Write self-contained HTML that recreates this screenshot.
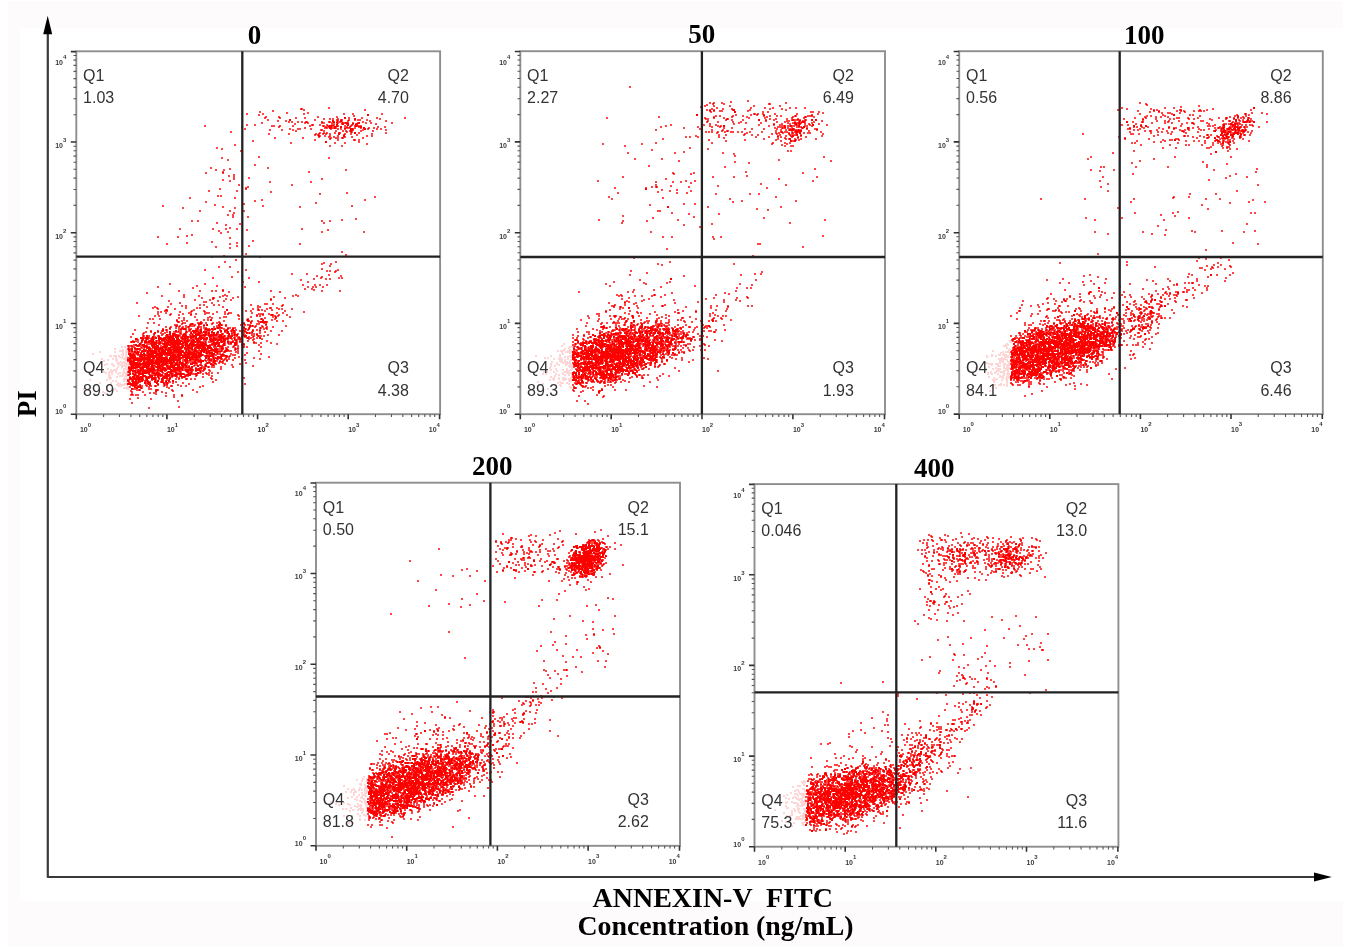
<!DOCTYPE html>
<html><head><meta charset="utf-8"><title>Flow cytometry</title>
<style>
html,body{margin:0;padding:0;background:#fff}
body{width:1360px;height:952px;position:relative;overflow:hidden}
#bg{position:absolute;left:8px;top:1px;width:1335px;height:946px;background:#fefbfc}
#bgw{position:absolute;left:20px;top:28px;width:1323px;height:873px;background:#fff}
svg{position:absolute;left:0;top:0;filter:blur(0.5px)}
.tk{font-family:"Liberation Sans",sans-serif;font-size:7px;font-weight:bold;fill:#3a3a3a}
.sp{font-size:6px}
.q{font-family:"Liberation Sans",sans-serif;font-size:16px;fill:#333}
.t{font-family:"Liberation Serif",serif;font-weight:bold;font-size:27px;fill:#000}
.ax{font-family:"Liberation Serif",serif;font-weight:bold;font-size:27px;fill:#000}
</style></head>
<body>
<div id="bg"></div><div id="bgw"></div>
<svg width="1360" height="952" viewBox="0 0 1360 952">
<defs><filter id="bl" x="0" y="0" width="100%" height="100%"><feGaussianBlur stdDeviation="0.35"/></filter></defs>
<g fill="none" stroke-width="1" filter="url(#bl)">
<path d="M121 346.5h2m1 0h2m-5 1h2m1 0h2m1 0h1m-14 1h2m-2 1h2m6 0h2m2 0h1m-8 1h5m1 0h3m-29 1h2m13 0h2m3 0h5m1 0h3m-29 1h2m13 0h2m6 0h2m1 0h3m-36 1h2m28 0h2m1 0h2m-35 1h2m27 0h3m1 0h2m-18 1h3m1 0h4m1 0h2m1 0h3m1 0h2m-18 1h3m1 0h4m1 0h3m1 0h2m1 0h3m-13 1h2m2 0h4m1 0h3m-26 1h2m9 0h2m1 0h2m4 0h6m-26 1h2m4 0h2m3 0h2m1 0h3m5 0h4m-24 1h2m2 0h2m6 0h3m7 0h2m-24 1h2m11 0h2m2 0h2m1 0h2m-9 1h13m-23 1h2m3 0h2m4 0h3m1 0h8m-25 1h4m3 0h3m3 0h6m1 0h5m-25 1h2m6 0h3m4 0h10m-16 1h2m2 0h2m2 0h6m-10 1h2m2 0h2m2 0h3m-21 1h2m7 0h2m5 0h5m-36 1h2m13 0h2m1 0h2m1 0h5m5 0h5m-36 1h2m16 0h7m6 0h2m1 0h2m-25 1h2m4 0h5m1 0h2m6 0h2m-22 1h4m1 0h5m2 0h2m2 0h2m1 0h5m-39 1h2m15 0h2m1 0h2m1 0h2m4 0h4m1 0h7m-41 1h2m18 0h2m1 0h2m4 0h2m3 0h2m1 0h2m-19 1h3m8 0h5m1 0h2m-19 1h3m5 0h2m1 0h4m1 0h4m-20 1h4m4 0h2m6 0h3m-19 1h4m11 0h6m-40 1h2m15 0h2m1 0h2m12 0h4m-38 1h2m15 0h2m4 0h2m1 0h2m6 0h2m-13 1h2m1 0h2m6 0h2m1 0h1m-28 1h2m9 0h2m5 0h2m7 0h2m-29 1h2m9 0h2m5 0h4m3 0h3m-17 1h2m4 0h11m-17 1h2m4 0h9m1 0h2m-10 1h4m5 0h2m-6 1h6m-46 1h2m26 0h2m1 0h2m7 0h6m-46 1h2m2 0h2m22 0h2m1 0h2m11 0h2m-42 1h2m18 0h2m7 0h2m-16 1h2m3 0h2m7 0h2m-16 1h4m-2 1h2" stroke="#ffd6d6"/>
<path d="M328 107.5h2m-30 1h1m1 0h1m25 0h2m-30 1h1m1 0h3m59 0h2m-94 1h2m29 0h2m59 0h2m-107 1h2m11 0h2m-15 1h2m25 0h2m19 0h2m-63 1h2m14 0h2m22 0h2m15 0h2m2 0h2m34 0h2m7 0h2m27 0h2m-137 1h2m10 0h2m2 0h2m39 0h2m38 0h2m7 0h2m27 0h2m-125 1h2m93 0h2m-90 1h2m11 0h2m37 0h2m17 0h2m15 0h2m-91 1h1m1 0h1m11 0h1m1 0h1m14 0h2m7 0h2m11 0h2m17 0h2m10 0h2m11 0h2m13 0h2m26 0h2m-142 1h2m13 0h2m14 0h2m7 0h2m17 0h2m4 0h2m1 0h2m3 0h2m9 0h2m11 0h2m13 0h2m1 0h2m23 0h2m-139 1h2m45 0h2m7 0h2m4 0h2m1 0h2m2 0h1m1 0h1m1 0h1m1 0h1m5 0h2m7 0h4m5 0h2m11 0h2m-114 1h2m8 0h2m6 0h2m27 0h2m20 0h1m1 0h1m3 0h1m4 0h1m1 0h1m4 0h2m1 0h4m5 0h2m1 0h2m14 0h2m-110 1h2m6 0h2m1 0h2m1 0h2m4 0h2m2 0h2m2 0h1m1 0h1m13 0h2m5 0h1m1 0h1m3 0h1m1 0h1m1 0h2m2 0h1m4 0h2m13 0h2m5 0h2m14 0h2m-126 1h2m25 0h2m1 0h2m4 0h2m2 0h2m1 0h1m3 0h1m14 0h2m3 0h1m1 0h3m5 0h4m1 0h2m3 0h1m3 0h2m3 0h1m4 0h2m1 0h2m3 0h2m19 0h2m-132 1h2m31 0h2m8 0h2m1 0h2m12 0h4m6 0h4m1 0h1m1 0h1m2 0h1m2 0h1m10 0h1m9 0h2m3 0h2m3 0h2m14 0h2m-147 1h2m6 0h2m38 0h2m15 0h1m1 0h1m5 0h2m5 0h2m3 0h4m6 0h1m4 0h1m4 0h1m1 0h1m21 0h2m-173 1h2m40 0h2m6 0h2m15 0h4m4 0h2m11 0h2m15 0h3m1 0h1m5 0h2m1 0h1m1 0h1m1 0h1m1 0h1m5 0h1m3 0h1m5 0h2m4 0h1m1 0h1m1 0h1m3 0h4m-158 1h2m35 0h2m28 0h4m3 0h1m1 0h1m11 0h2m15 0h2m11 0h1m1 0h4m4 0h2m4 0h1m5 0h4m1 0h1m1 0h1m2 0h1m2 0h1m19 0h2m5 0h2m-145 1h2m35 0h2m24 0h2m18 0h1m2 0h2m3 0h2m2 0h1m7 0h2m2 0h1m1 0h1m3 0h2m2 0h2m8 0h2m3 0h2m2 0h2m5 0h2m-142 1h2m43 0h2m6 0h4m3 0h2m4 0h2m12 0h4m4 0h2m2 0h3m1 0h2m4 0h4m3 0h3m4 0h2m5 0h1m1 0h1m3 0h2m1 0h2m2 0h2m-138 1h2m23 0h2m10 0h2m6 0h2m1 0h2m3 0h4m9 0h2m8 0h1m1 0h1m7 0h2m5 0h2m1 0h2m2 0h2m16 0h2m3 0h2m7 0h2m2 0h2m3 0h2m-118 1h2m10 0h2m9 0h2m1 0h2m23 0h1m1 0h3m10 0h2m5 0h2m1 0h2m2 0h1m3 0h1m6 0h4m8 0h2m11 0h2m-157 1h2m63 0h2m26 0h2m10 0h2m5 0h2m1 0h1m1 0h1m1 0h1m2 0h1m7 0h2m10 0h2m-144 1h2m87 0h2m2 0h2m1 0h2m6 0h2m2 0h1m1 0h1m5 0h2m2 0h1m1 0h1m5 0h2m25 0h2m-119 1h2m18 0h2m25 0h2m1 0h1m1 0h1m1 0h1m1 0h2m1 0h1m1 0h2m3 0h2m4 0h1m3 0h2m4 0h2m6 0h2m11 0h2m12 0h2m-119 1h2m18 0h2m24 0h1m1 0h2m1 0h1m2 0h2m1 0h2m2 0h2m12 0h1m1 0h1m4 0h2m4 0h2m13 0h2m-59 1h2m1 0h1m2 0h1m3 0h2m3 0h2m6 0h2m17 0h2m8 0h2m3 0h2m-53 1h1m3 0h2m2 0h1m1 0h1m2 0h2m2 0h2m6 0h1m5 0h2m13 0h2m3 0h2m-99 1h2m26 0h2m14 0h2m8 0h4m1 0h6m2 0h1m1 0h3m5 0h2m9 0h2m-90 1h2m26 0h2m25 0h1m1 0h1m3 0h4m2 0h1m1 0h1m18 0h2m-50 1h2m13 0h2m6 0h2m14 0h1m1 0h1m2 0h2m-108 1h2m60 0h2m21 0h2m14 0h1m1 0h1m2 0h2m-108 1h2m104 0h2m-70 1h2m42 0h2m8 0h2m12 0h2m-70 1h2m42 0h2m8 0h2m20 0h2m-134 1h2m130 0h2m-134 1h2m93 0h2m10 0h2m-14 1h2m10 0h2m-127 1h2m-2 1h2m3 0h2m-2 1h2m17 1h2m-2 1h2m16 5h2m-39 1h2m35 0h2m68 0h2m-109 1h2m105 0h2m-103 1h2m-2 1h2m25 4h2m-2 1h2m-46 2h2m55 0h2m-59 1h2m17 0h2m36 0h2m-54 1h2m6 0h2m4 0h2m114 0h2m-132 1h2m6 0h2m120 0h2m-125 1h2m84 0h2m-105 1h2m101 0h2m-105 1h2m15 0h2m9 1h2m-7 1h2m3 0h2m-7 1h2m3 0h2m-2 1h2m13 0h2m-17 1h2m13 0h2m71 0h2m-101 1h2m9 0h2m86 0h2m-101 1h2m5 0h2m-2 1h2m38 0h2m39 0h2m-43 1h2m39 0h2m-74 2h2m51 0h2m-55 1h2m51 0h2m-46 1h2m-4 1h4m-30 1h2m-2 1h2m24 0h2m-39 1h2m26 0h2m-30 1h2m26 0h2m32 0h2m-2 1h2m74 0h2m-29 1h2m25 0h2m-29 1h2m-104 1h2m1 0h2m-5 1h2m1 0h2m152 0h2m-187 1h2m43 0h2m138 0h2m-187 1h2m43 0h2m25 1h2m101 0h2m-112 1h2m5 0h2m101 0h2m-161 1h2m47 0h2m-51 1h2m108 0h2m-74 1h2m70 0h2m-103 1h2m27 0h2m-83 1h2m50 0h2m46 0h2m87 0h2m-191 1h2m58 0h2m38 0h2m35 0h2m50 0h2m-171 1h2m38 0h2m10 0h2m63 0h2m-119 1h2m50 0h2m-37 2h2m28 0h2m12 0h2m-46 1h2m28 0h2m12 0h2m-12 1h2m-2 1h2m-8 1h2m3 0h2m-7 1h2m3 0h2m-2 1h2m13 0h2m-17 1h2m13 0h2m106 1h2m-16 1h2m12 0h2m-166 1h2m4 0h2m122 0h2m6 0h2m10 0h2m-152 1h2m4 0h2m122 0h2m6 0h2m-115 1h2m105 0h2m-109 1h2m21 0h2m82 0h2m-100 1h2m12 0h2m-16 1h2m2 2h2m-52 1h2m31 0h2m11 0h2m2 0h2m5 0h2m63 0h2m-124 1h2m31 0h2m11 0h2m9 0h2m8 0h2m53 0h2m24 0h2m-111 1h2m26 0h2m79 0h2m-111 1h2m7 0h2m92 0h2m40 0h2m-145 1h2m5 0h2m92 0h2m40 0h2m-145 1h2m-31 1h2m-7 1h2m3 0h2m-36 1h2m18 0h2m7 0h2m-31 1h2m18 0h2m50 0h2m-2 1h2m21 2h2m-43 1h2m39 0h2m-68 1h2m23 0h2m23 0h2m-72 1h2m18 0h2m41 0h2m5 0h2m61 0h2m-135 1h2m61 0h2m68 0h2m-65 1h2m10 0h2m-35 1h2m19 0h2m10 0h2m-35 1h2m12 0h2m-2 1h2m110 3h2m-2 1h2m-98 1h2m-2 1h2m98 0h2m-124 1h2m120 0h2m-136 1h2m10 0h2m34 0h2m-50 1h2m46 0h2m-26 2h2m-2 1h2m-13 1h2m109 0h2m-113 1h2m97 0h2m10 0h2m-16 1h4m5 0h2m-11 1h2m7 0h2m-3 1h2m-113 1h2m9 0h2m98 0h2m-113 1h2m9 0h2m90 1h2m-119 1h2m39 0h2m74 0h2m14 0h2m-135 1h2m39 0h2m79 0h2m1 0h2m4 0h4m-102 1h2m87 0h2m1 0h2m3 0h1m1 0h1m-100 1h2m95 0h2m-45 1h2m13 0h2m-17 1h2m13 0h2m20 0h2m-89 1h2m73 0h2m10 0h2m10 0h2m-111 1h2m8 0h2m73 0h2m3 0h2m17 0h2m-130 1h2m17 0h2m15 0h2m70 0h1m1 0h1m15 0h2m1 0h2m-131 1h2m34 0h2m63 0h2m5 0h2m3 0h2m2 0h2m7 0h2m1 0h2m-43 1h2m11 0h2m10 0h2m2 0h2m-31 1h2m-60 1h2m14 0h2m47 0h2m-67 1h2m14 0h2m47 0h2m-140 1h2m33 0h2m-37 1h2m33 0h2m96 0h2m10 0h2m3 0h2m5 0h2m-132 1h2m18 0h2m84 0h2m10 0h2m3 0h2m5 0h2m-171 1h2m37 0h2m18 0h2m26 0h2m61 0h2m3 0h2m1 0h2m5 0h2m-167 1h2m33 0h2m50 0h2m61 0h2m3 0h2m1 0h2m5 0h2m-132 1h2m110 0h2m5 0h2m-91 1h2m80 0h2m5 0h4m-137 1h2m19 0h2m10 0h2m2 0h2m53 0h2m41 0h2m6 0h2m16 0h2m-163 1h2m19 0h2m10 0h2m2 0h2m5 0h2m4 0h2m40 0h2m7 0h2m40 0h2m16 0h2m-195 1h2m80 0h2m49 0h2m-135 1h2m35 1h2m39 0h2m69 0h2m-136 1h2m20 0h2m13 0h2m22 0h6m64 0h2m1 0h4m-138 1h2m20 0h2m13 0h2m19 0h2m1 0h2m2 0h2m9 0h2m34 0h2m17 0h2m3 0h2m-116 1h2m16 0h2m9 0h1m1 0h1m4 0h2m11 0h2m3 0h2m34 0h2m9 0h2m-85 1h2m11 0h1m10 0h2m5 0h2m36 0h2m12 0h2m-92 1h2m13 0h2m1 0h2m11 0h2m3 0h2m-64 1h2m24 0h2m13 0h2m6 0h2m4 0h2m5 0h2m38 0h2m-104 1h2m33 0h4m10 0h2m4 0h2m-89 1h2m41 0h2m22 0h4m4 0h2m-77 1h2m32 0h2m7 0h2m30 0h2m51 0h4m4 0h2m-104 1h2m27 0h2m2 0h2m8 0h2m3 0h2m30 0h2m12 0h4m4 0h2m8 0h2m-103 1h2m2 0h2m12 0h2m2 0h2m8 0h2m3 0h2m30 0h2m5 0h2m22 0h1m1 0h1m-130 1h2m11 0h2m12 0h2m2 0h2m19 0h2m14 0h2m33 0h4m20 0h2m-131 1h6m9 0h2m16 0h2m9 0h2m1 0h2m5 0h2m14 0h2m33 0h4m8 0h1m1 0h1m4 0h2m-126 1h2m2 0h1m1 0h1m15 0h2m9 0h2m9 0h2m1 0h2m51 0h2m3 0h2m7 0h2m1 0h1m1 0h1m4 0h4m1 0h2m8 0h2m-136 1h2m6 0h1m1 0h1m6 0h2m17 0h2m57 0h2m3 0h1m1 0h1m1 0h2m3 0h2m3 0h2m5 0h2m1 0h2m8 0h2m-129 1h1m26 0h4m8 0h2m40 0h2m3 0h2m5 0h1m1 0h1m1 0h2m1 0h2m5 0h2m11 0h2m-129 1h2m1 0h2m2 0h4m11 0h2m9 0h1m1 0h1m10 0h1m1 0h1m10 0h2m6 0h2m19 0h2m3 0h2m12 0h2m18 0h2m17 0h2m-148 1h2m1 0h2m3 0h2m12 0h2m7 0h4m12 0h6m6 0h2m6 0h2m2 0h4m19 0h2m23 0h2m4 0h2m19 0h2m-148 1h2m6 0h2m3 0h2m10 0h2m4 0h4m3 0h2m7 0h6m2 0h2m10 0h2m1 0h1m1 0h3m19 0h2m5 0h6m4 0h2m6 0h2m4 0h2m-127 1h2m10 0h1m1 0h1m6 0h2m2 0h2m11 0h2m7 0h2m6 0h2m10 0h2m1 0h2m8 0h2m17 0h6m6 0h3m2 0h1m4 0h2m6 0h2m-150 1h2m14 0h2m2 0h2m9 0h2m7 0h2m10 0h2m45 0h1m1 0h1m19 0h2m1 0h2m6 0h1m2 0h3m1 0h1m1 0h1m6 0h2m-150 1h2m14 0h2m2 0h2m34 0h2m13 0h2m12 0h4m11 0h2m10 0h2m4 0h2m1 0h2m11 0h3m1 0h3m10 0h2m-113 1h2m3 0h2m9 0h2m11 0h6m6 0h2m2 0h4m23 0h2m12 0h2m6 0h2m15 0h2m-142 1h2m1 0h2m5 0h2m17 0h2m3 0h2m22 0h2m2 0h2m6 0h2m17 0h2m7 0h2m11 0h1m1 0h1m1 0h2m8 0h1m1 0h1m-128 1h2m1 0h2m5 0h2m15 0h2m5 0h2m11 0h2m5 0h2m2 0h2m29 0h2m6 0h1m13 0h1m2 0h1m7 0h2m1 0h2m-95 1h4m1 0h2m8 0h2m5 0h2m2 0h2m14 0h2m21 0h1m2 0h1m1 0h2m4 0h2m12 0h2m3 0h2m4 0h2m-108 1h1m2 0h1m1 0h2m3 0h2m12 0h2m16 0h2m3 0h2m22 0h1m1 0h2m1 0h1m4 0h1m1 0h1m7 0h1m8 0h2m4 0h2m-137 1h2m4 0h2m22 0h1m1 0h1m2 0h4m11 0h3m2 0h1m2 0h2m5 0h2m2 0h3m1 0h1m22 0h2m13 0h2m7 0h1m-121 1h2m4 0h2m26 0h1m1 0h3m4 0h1m2 0h1m3 0h1m4 0h1m2 0h2m4 0h1m1 0h1m2 0h2m32 0h2m4 0h4m3 0h4m-109 1h2m14 0h4m3 0h2m6 0h1m3 0h3m5 0h1m1 0h2m6 0h2m9 0h1m2 0h2m13 0h2m1 0h1m1 0h1m1 0h4m5 0h4m-102 1h2m14 0h1m4 0h2m4 0h2m4 0h3m1 0h1m2 0h2m16 0h2m2 0h1m1 0h1m17 0h2m2 0h2m1 0h2m2 0h1m1 0h1m1 0h2m4 0h2m2 0h2m18 0h2m-122 1h2m3 0h2m3 0h1m1 0h2m1 0h1m1 0h2m1 0h3m2 0h5m2 0h1m1 0h3m1 0h2m8 0h2m1 0h3m1 0h1m4 0h2m16 0h2m6 0h1m1 0h2m1 0h1m4 0h1m1 0h1m2 0h2m4 0h2m11 0h2m-141 1h2m17 0h2m2 0h1m1 0h1m3 0h2m1 0h2m1 0h1m1 0h1m1 0h3m1 0h1m9 0h3m1 0h4m6 0h2m1 0h1m5 0h1m4 0h4m1 0h4m12 0h1m1 0h1m3 0h2m3 0h1m1 0h3m1 0h1m1 0h1m4 0h2m-128 1h2m14 0h2m11 0h2m1 0h3m5 0h1m1 0h4m3 0h2m3 0h2m1 0h2m2 0h3m3 0h1m2 0h1m2 0h2m1 0h3m4 0h2m3 0h2m7 0h1m2 0h1m12 0h1m1 0h1m1 0h3m1 0h1m-134 1h2m29 0h1m1 0h1m1 0h2m7 0h2m2 0h1m3 0h1m1 0h1m2 0h1m3 0h1m2 0h2m4 0h1m5 0h1m8 0h2m2 0h3m2 0h1m2 0h1m3 0h2m5 0h3m1 0h2m1 0h1m2 0h2m2 0h2m1 0h2m2 0h2m1 0h2m-134 1h2m14 0h2m5 0h2m2 0h1m3 0h1m1 0h1m10 0h4m3 0h2m1 0h1m1 0h1m7 0h2m4 0h3m3 0h1m1 0h2m5 0h1m10 0h1m4 0h2m2 0h2m1 0h1m2 0h1m1 0h2m7 0h2m12 0h2m9 0h2m-138 1h2m14 0h1m1 0h1m2 0h2m5 0h2m2 0h1m1 0h3m3 0h1m1 0h5m7 0h1m7 0h3m16 0h1m3 0h1m1 0h1m2 0h1m3 0h2m2 0h1m2 0h1m4 0h1m1 0h1m5 0h2m3 0h2m4 0h2m9 0h2m-140 1h4m3 0h2m5 0h2m1 0h2m2 0h4m5 0h7m1 0h1m5 0h1m8 0h2m4 0h1m4 0h1m8 0h1m3 0h2m2 0h3m4 0h2m2 0h1m7 0h3m2 0h1m1 0h1m8 0h2m3 0h2m-134 1h2m8 0h1m1 0h1m8 0h1m6 0h6m9 0h1m3 0h1m1 0h1m1 0h1m2 0h1m5 0h3m6 0h2m1 0h1m2 0h1m3 0h2m5 0h1m2 0h1m1 0h1m2 0h1m6 0h1m1 0h1m1 0h2m4 0h2m3 0h1m1 0h5m1 0h2m1 0h2m-129 1h2m8 0h2m17 0h1m1 0h1m4 0h1m8 0h6m3 0h1m2 0h3m1 0h1m6 0h3m4 0h1m10 0h1m4 0h1m7 0h3m4 0h1m5 0h2m5 0h4m12 0h2m9 0h2m-138 1h1m1 0h1m3 0h2m3 0h2m2 0h1m1 0h1m1 0h2m2 0h1m2 0h2m1 0h1m8 0h1m8 0h1m1 0h1m14 0h2m9 0h2m3 0h2m1 0h1m1 0h1m2 0h1m2 0h1m1 0h1m15 0h4m1 0h1m2 0h3m1 0h2m2 0h2m9 0h2m-150 1h2m10 0h1m1 0h1m3 0h2m4 0h2m1 0h1m7 0h1m8 0h1m4 0h3m7 0h1m12 0h2m1 0h1m2 0h1m3 0h1m1 0h4m7 0h1m1 0h1m6 0h6m1 0h3m4 0h2m2 0h1m1 0h1m2 0h1m1 0h3m1 0h2m-135 1h2m11 0h2m4 0h1m1 0h1m2 0h1m6 0h1m1 0h1m16 0h1m2 0h1m5 0h1m4 0h1m3 0h1m5 0h2m5 0h2m2 0h3m6 0h3m2 0h1m3 0h1m1 0h1m1 0h1m2 0h3m1 0h3m2 0h5m2 0h2m-121 1h1m6 0h1m4 0h2m3 0h1m11 0h1m13 0h1m7 0h1m3 0h3m14 0h1m2 0h1m4 0h2m10 0h1m2 0h2m1 0h1m1 0h1m3 0h1m4 0h1m2 0h3m1 0h2m1 0h2m3 0h2m-125 1h1m2 0h1m3 0h1m2 0h1m1 0h1m3 0h1m12 0h1m13 0h1m4 0h1m2 0h3m2 0h2m3 0h1m7 0h1m14 0h1m3 0h1m1 0h1m2 0h2m4 0h2m2 0h1m6 0h2m2 0h1m1 0h1m6 0h2m-131 1h2m1 0h4m4 0h2m3 0h1m6 0h1m1 0h1m7 0h1m16 0h2m6 0h1m9 0h1m2 0h4m2 0h1m6 0h1m5 0h1m4 0h2m3 0h3m2 0h1m1 0h4m4 0h2m3 0h2m12 0h2m-138 1h1m4 0h4m8 0h1m6 0h2m1 0h2m2 0h3m2 0h1m16 0h1m5 0h2m10 0h4m1 0h1m1 0h2m4 0h1m1 0h1m1 0h1m6 0h1m3 0h3m3 0h1m1 0h1m3 0h2m4 0h2m4 0h2m11 0h2m-138 1h1m1 0h1m4 0h2m1 0h1m1 0h1m7 0h1m6 0h1m3 0h2m25 0h1m7 0h1m7 0h1m1 0h1m1 0h5m7 0h1m2 0h1m1 0h1m3 0h1m3 0h1m3 0h1m1 0h2m14 0h2m3 0h2m8 0h2m-131 1h1m2 0h6m7 0h1m3 0h1m7 0h1m14 0h1m9 0h1m1 0h1m2 0h1m6 0h1m4 0h1m13 0h1m1 0h1m1 0h1m7 0h1m4 0h1m1 0h1m8 0h4m3 0h2m8 0h2m4 0h2m-145 1h2m3 0h1m2 0h1m4 0h5m7 0h1m1 0h1m1 0h1m20 0h2m3 0h1m20 0h2m6 0h1m4 0h1m2 0h1m2 0h4m5 0h1m3 0h1m16 0h2m16 0h2m-151 1h1m1 0h2m1 0h3m5 0h2m5 0h1m7 0h1m4 0h2m1 0h1m4 0h1m2 0h1m4 0h1m2 0h1m1 0h1m2 0h1m26 0h3m6 0h2m3 0h1m7 0h1m2 0h3m2 0h4m13 0h2m-133 1h1m1 0h2m2 0h2m1 0h1m2 0h4m5 0h2m1 0h1m8 0h2m8 0h1m9 0h1m9 0h1m3 0h2m9 0h2m6 0h1m2 0h1m6 0h1m3 0h2m3 0h1m1 0h1m2 0h2m3 0h1m1 0h1m1 0h2m12 0h2m-134 1h2m1 0h3m1 0h1m4 0h1m1 0h2m1 0h1m4 0h1m8 0h1m7 0h1m15 0h1m2 0h1m7 0h1m6 0h1m11 0h4m2 0h2m2 0h1m1 0h4m3 0h4m1 0h2m3 0h1m1 0h1m1 0h2m12 0h2m-135 1h1m1 0h2m9 0h5m6 0h3m9 0h2m2 0h1m3 0h2m9 0h1m13 0h1m9 0h1m5 0h1m4 0h4m4 0h1m1 0h1m6 0h1m1 0h1m-110 1h1m2 0h1m3 0h1m10 0h2m4 0h2m11 0h1m16 0h1m2 0h1m4 0h2m2 0h1m2 0h1m1 0h2m8 0h1m1 0h1m7 0h3m2 0h1m1 0h1m2 0h1m5 0h1m1 0h3m-109 1h1m3 0h4m1 0h3m15 0h1m2 0h1m5 0h1m5 0h1m10 0h1m1 0h1m1 0h1m2 0h2m1 0h1m3 0h2m8 0h1m10 0h3m1 0h1m1 0h1m4 0h3m2 0h2m1 0h2m19 0h2m-132 1h1m1 0h1m2 0h1m2 0h1m2 0h1m6 0h1m10 0h1m2 0h1m11 0h1m14 0h1m3 0h2m5 0h2m5 0h1m4 0h4m8 0h2m3 0h5m3 0h4m19 0h2m-132 1h6m5 0h2m1 0h3m1 0h1m2 0h1m7 0h2m36 0h1m9 0h1m8 0h1m3 0h3m2 0h1m1 0h1m9 0h4m7 0h2m-117 1h2m1 0h2m10 0h1m27 0h4m5 0h1m2 0h1m10 0h1m7 0h1m2 0h1m7 0h1m1 0h3m1 0h2m6 0h2m5 0h2m7 0h2m12 0h2m-127 1h2m2 0h1m6 0h1m8 0h1m15 0h1m4 0h1m5 0h2m13 0h1m5 0h1m2 0h3m1 0h1m4 0h5m4 0h1m5 0h6m8 0h2m14 0h2m-127 1h1m1 0h2m25 0h3m9 0h1m13 0h2m11 0h2m4 0h1m4 0h3m3 0h1m6 0h1m1 0h2m1 0h4m8 0h2m-117 1h1m13 0h1m1 0h2m10 0h1m4 0h1m2 0h1m1 0h1m12 0h1m9 0h1m10 0h1m2 0h1m9 0h1m4 0h1m3 0h2m3 0h1m1 0h1m7 0h2m28 0h2m-143 1h3m6 0h4m27 0h1m32 0h1m6 0h1m6 0h1m1 0h1m8 0h1m1 0h3m4 0h2m2 0h2m13 0h2m13 0h2m-143 1h2m48 0h1m4 0h2m10 0h1m3 0h3m6 0h1m2 0h3m9 0h1m1 0h1m1 0h1m1 0h2m4 0h2m5 0h2m10 0h2m4 0h2m-130 1h2m21 0h2m26 0h2m15 0h1m1 0h1m2 0h2m1 0h1m4 0h1m3 0h1m1 0h1m1 0h1m1 0h2m1 0h5m2 0h2m7 0h2m1 0h2m13 0h2m-129 1h1m9 0h1m2 0h2m7 0h1m25 0h1m1 0h2m4 0h1m2 0h3m10 0h1m1 0h3m3 0h1m3 0h2m1 0h2m1 0h1m1 0h1m7 0h2m10 0h2m-119 1h2m8 0h1m1 0h1m5 0h1m8 0h1m17 0h1m3 0h1m1 0h1m3 0h3m3 0h6m2 0h2m7 0h2m1 0h5m3 0h2m3 0h1m1 0h1m2 0h2m-90 1h1m1 0h1m1 0h1m25 0h1m6 0h1m2 0h1m4 0h1m4 0h4m5 0h3m6 0h1m3 0h1m1 0h1m2 0h1m2 0h1m1 0h2m1 0h1m21 0h2m-118 1h1m30 0h2m6 0h1m4 0h2m3 0h1m5 0h1m2 0h2m8 0h1m2 0h2m3 0h1m2 0h2m2 0h2m2 0h1m1 0h2m2 0h4m13 0h2m4 0h2m-118 1h1m23 0h3m4 0h1m6 0h2m4 0h1m6 0h1m5 0h2m6 0h4m1 0h1m1 0h1m2 0h1m1 0h1m7 0h3m7 0h2m5 0h2m6 0h2m-111 1h1m10 0h2m12 0h1m8 0h2m2 0h2m6 0h1m10 0h3m3 0h1m1 0h2m2 0h1m2 0h1m1 0h1m6 0h1m2 0h1m16 0h2m19 0h2m-126 1h3m3 0h1m5 0h2m7 0h2m3 0h1m8 0h1m16 0h2m2 0h1m2 0h1m5 0h2m6 0h4m2 0h1m1 0h1m1 0h4m5 0h2m10 0h2m18 0h2m-105 1h2m3 0h2m5 0h1m3 0h2m17 0h1m5 0h1m4 0h2m2 0h1m2 0h2m1 0h1m1 0h1m1 0h1m1 0h4m5 0h2m10 0h2m-98 1h2m1 0h1m26 0h1m5 0h1m10 0h6m3 0h1m4 0h1m4 0h2m16 0h2m-94 1h1m3 0h2m1 0h3m1 0h1m4 0h3m8 0h2m2 0h1m7 0h2m3 0h1m10 0h2m8 0h1m6 0h2m3 0h1m2 0h2m10 0h2m-94 1h1m7 0h1m19 0h1m6 0h1m16 0h2m1 0h2m8 0h1m7 0h2m1 0h1m3 0h1m1 0h1m-84 1h1m8 0h1m4 0h1m12 0h3m1 0h2m4 0h2m1 0h1m8 0h3m2 0h1m3 0h1m3 0h2m1 0h1m2 0h2m2 0h1m1 0h3m5 0h2m-84 1h1m2 0h1m1 0h3m6 0h1m8 0h2m3 0h1m3 0h1m1 0h1m1 0h1m2 0h1m5 0h3m2 0h3m1 0h1m4 0h1m2 0h1m2 0h1m6 0h1m1 0h1m3 0h2m1 0h2m1 0h2m4 0h2m-85 1h1m1 0h2m9 0h1m3 0h1m8 0h1m1 0h3m4 0h1m3 0h1m10 0h1m2 0h1m4 0h3m4 0h2m1 0h2m1 0h1m1 0h3m1 0h2m4 0h2m-92 1h1m4 0h1m3 0h1m11 0h1m1 0h4m10 0h1m5 0h1m2 0h1m11 0h1m5 0h4m2 0h1m4 0h2m2 0h4m-83 1h1m1 0h1m3 0h1m5 0h1m13 0h1m2 0h1m6 0h2m5 0h1m6 0h1m1 0h1m4 0h1m10 0h1m1 0h1m10 0h2m1 0h2m-84 1h2m4 0h1m3 0h1m7 0h1m6 0h2m3 0h1m1 0h2m6 0h2m2 0h2m2 0h1m1 0h1m6 0h3m6 0h2m5 0h2m7 0h2m-82 1h1m3 0h1m7 0h1m12 0h2m1 0h1m11 0h2m3 0h4m5 0h1m16 0h2m6 0h2m31 0h2m-113 1h1m10 0h1m1 0h1m3 0h1m6 0h1m11 0h1m6 0h2m4 0h2m2 0h1m1 0h1m2 0h2m2 0h2m14 0h1m1 0h1m30 0h2m-118 1h2m16 0h1m10 0h1m1 0h2m6 0h3m1 0h1m4 0h2m1 0h2m5 0h1m1 0h1m2 0h2m2 0h2m15 0h2m2 0h2m-88 1h1m1 0h1m5 0h1m2 0h1m2 0h2m3 0h1m2 0h2m1 0h1m1 0h1m6 0h1m1 0h1m1 0h1m47 0h2m-90 1h1m1 0h1m1 0h1m5 0h1m6 0h1m1 0h1m2 0h2m5 0h1m3 0h1m2 0h1m6 0h1m4 0h2m35 0h2m-86 1h1m1 0h1m8 0h2m5 0h1m3 0h1m3 0h1m5 0h1m3 0h1m3 0h3m1 0h2m1 0h2m5 0h2m28 0h2m-76 1h1m7 0h1m11 0h1m6 0h1m2 0h1m3 0h2m8 0h2m4 0h2m54 0h2m-109 1h1m1 0h2m4 0h3m15 0h1m1 0h1m11 0h2m9 0h2m54 0h2m-116 1h1m6 0h2m2 0h2m2 0h1m1 0h1m3 0h1m2 0h1m1 0h3m4 0h1m1 0h3m2 0h1m1 0h1m4 0h2m1 0h2m3 0h2m15 0h2m-75 1h2m1 0h2m2 0h1m4 0h2m3 0h6m2 0h1m1 0h1m6 0h2m1 0h2m2 0h1m1 0h1m7 0h2m3 0h2m12 0h2m1 0h2m-75 1h2m11 0h1m5 0h2m16 0h4m29 0h2m-68 1h3m4 0h1m1 0h1m5 0h4m16 0h2m-37 1h6m1 0h1m7 0h4m3 0h1m2 0h1m12 0h2m19 0h2m-64 1h2m4 0h3m1 0h1m17 0h1m12 0h1m1 0h1m18 0h2m-64 1h1m1 0h1m9 0h2m17 0h2m9 0h2m22 0h2m-67 1h2m9 0h2m5 0h2m2 0h4m4 0h2m2 0h2m29 0h2m-67 1h2m16 0h2m2 0h4m8 0h2m-37 1h1m2 0h1m1 0h4m5 0h2m9 0h2m16 0h2m6 0h2m-53 1h4m1 0h4m5 0h2m19 0h2m6 0h2m-10 1h2m6 0h2m6 0h2m-46 1h2m34 0h2m-46 1h2m6 0h2m11 0h2m-23 1h2m19 0h2m25 1h2m-2 1h2m-48 1h2m-2 1h2m45 3h2m-32 1h2m28 0h2m-32 1h2" stroke="#ff4545"/>
<path d="M301 108.5h1m-1 1h1m65 5h2m-2 1h2m-104 2h1m13 0h1m64 0h2m-2 1h2m8 0h2m-67 1h2m46 0h1m3 0h1m12 0h2m-67 1h2m41 0h2m3 0h1m2 0h2m6 0h1m-43 1h1m22 0h1m2 0h2m3 0h1m2 0h2m-37 1h3m13 0h2m6 0h1m3 0h2m1 0h2m4 0h1m2 0h3m10 0h2m-23 1h1m4 0h2m1 0h4m3 0h2m2 0h4m-48 1h1m23 0h2m4 0h2m3 0h2m3 0h1m2 0h3m-46 1h1m10 0h1m3 0h1m1 0h5m2 0h2m9 0h2m2 0h1m3 0h3m-79 1h1m43 0h1m4 0h4m2 0h4m2 0h2m8 0h1m4 0h2m1 0h4m-37 1h2m2 0h3m2 0h2m4 0h2m4 0h2m1 0h1m10 0h2m1 0h2m-36 1h3m2 0h2m8 0h2m4 0h3m10 0h3m2 0h1m-48 1h1m28 0h4m10 0h2m-45 1h1m28 0h3m-7 1h1m3 0h2m-13 1h1m11 0h1m2 0h2m-37 1h1m3 0h1m2 0h1m11 0h2m14 0h2m-41 1h1m2 0h1m19 0h2m4 0h1m-27 1h2m23 0h2m-27 1h2m9 0h1m13 0h2m-3 1h1m-13 1h1m11 0h1m11 1h1m-1 1h1m-30 1h2m-2 1h2m-105 30h2m21 16h2m88 83h1m-15 6h1m-100 13h2m-11 7h1m-2 1h2m56 1h2m10 6h1m-13 2h1m-114 1h1m112 0h1m-105 1h1m59 0h2m30 0h1m-94 1h3m58 0h2m30 0h1m-68 1h1m12 0h1m23 2h1m-59 1h1m19 0h2m70 0h2m7 0h2m-35 1h1m17 0h2m13 0h2m5 0h1m-4 1h1m-1 1h2m-16 1h1m13 0h1m-66 1h2m35 0h2m12 0h2m-87 1h2m32 0h2m35 0h2m13 0h2m-87 1h2m69 0h1m2 0h1m6 0h1m1 0h7m-89 1h1m21 0h2m17 0h1m30 0h2m8 0h7m-85 1h1m8 0h2m5 0h4m10 0h1m6 0h2m22 0h2m-55 1h3m5 0h3m5 0h2m10 0h4m22 0h1m20 0h2m-92 1h3m11 0h2m3 0h1m8 0h2m1 0h2m10 0h2m1 0h1m3 0h2m22 0h2m1 0h1m-77 1h1m2 0h1m8 0h2m8 0h1m20 0h1m29 0h2m1 0h1m2 0h1m6 0h1m-93 1h1m11 0h1m5 0h1m8 0h2m18 0h5m21 0h2m4 0h1m10 0h1m5 0h1m-98 1h2m10 0h5m11 0h2m6 0h2m4 0h2m1 0h2m1 0h2m2 0h1m5 0h2m3 0h2m10 0h2m2 0h2m10 0h1m5 0h1m-105 1h2m2 0h1m13 0h2m1 0h3m3 0h2m5 0h2m2 0h2m3 0h5m1 0h5m10 0h2m4 0h2m11 0h1m2 0h1m-87 1h2m2 0h1m8 0h2m12 0h1m2 0h6m2 0h2m5 0h3m10 0h2m2 0h4m3 0h4m8 0h2m7 0h2m5 0h2m-111 1h2m5 0h2m3 0h1m6 0h2m4 0h2m1 0h1m7 0h1m5 0h7m1 0h2m1 0h4m4 0h2m4 0h2m1 0h2m2 0h2m1 0h2m2 0h1m1 0h2m6 0h2m1 0h2m6 0h1m-99 1h2m13 0h2m9 0h1m4 0h2m3 0h2m1 0h3m2 0h4m1 0h4m1 0h2m1 0h4m2 0h2m8 0h2m4 0h2m6 0h2m3 0h2m1 0h1m1 0h2m-110 1h1m10 0h2m13 0h2m1 0h3m5 0h1m3 0h2m4 0h2m3 0h6m4 0h2m1 0h2m3 0h2m1 0h2m4 0h1m4 0h3m1 0h2m1 0h1m11 0h2m1 0h1m-97 1h2m7 0h1m3 0h2m1 0h2m1 0h5m6 0h3m6 0h1m2 0h5m3 0h4m1 0h10m1 0h4m5 0h2m4 0h4m4 0h2m12 0h2m-115 1h1m2 0h2m10 0h1m7 0h2m2 0h1m1 0h8m2 0h5m3 0h1m1 0h14m2 0h9m2 0h3m2 0h1m3 0h2m1 0h2m1 0h1m1 0h2m4 0h5m10 0h2m-116 1h1m2 0h2m4 0h2m4 0h2m6 0h8m1 0h4m3 0h7m1 0h7m2 0h3m2 0h1m4 0h3m1 0h1m4 0h7m3 0h5m11 0h3m6 0h1m4 0h1m-119 1h3m2 0h4m3 0h2m1 0h2m1 0h3m3 0h10m1 0h4m2 0h2m1 0h5m1 0h4m1 0h2m2 0h5m2 0h2m1 0h2m2 0h2m3 0h6m3 0h2m1 0h2m2 0h1m3 0h2m7 0h2m10 0h2m-126 1h2m3 0h4m1 0h4m2 0h3m1 0h2m1 0h8m1 0h8m1 0h3m2 0h7m2 0h2m3 0h13m2 0h2m1 0h4m2 0h10m1 0h2m2 0h1m3 0h3m6 0h2m10 0h2m-126 1h3m4 0h2m2 0h2m3 0h3m4 0h9m1 0h7m1 0h4m2 0h4m1 0h2m3 0h2m2 0h3m1 0h2m1 0h4m2 0h13m1 0h3m1 0h1m6 0h3m2 0h2m12 0h1m-113 1h2m2 0h2m2 0h5m2 0h1m1 0h2m1 0h4m1 0h16m2 0h6m1 0h4m1 0h4m10 0h6m1 0h5m1 0h3m9 0h2m-106 1h4m6 0h2m1 0h3m1 0h6m2 0h1m2 0h2m3 0h2m1 0h16m1 0h5m2 0h10m4 0h1m4 0h4m3 0h1m2 0h5m2 0h2m3 0h2m2 0h1m2 0h2m-110 1h1m1 0h2m6 0h1m2 0h6m1 0h6m1 0h3m3 0h17m1 0h6m2 0h6m1 0h7m1 0h1m7 0h7m1 0h2m1 0h1m2 0h2m1 0h3m1 0h3m16 0h2m-116 1h2m9 0h7m1 0h3m1 0h7m1 0h14m1 0h3m1 0h5m3 0h2m1 0h6m6 0h8m3 0h2m3 0h1m1 0h2m2 0h3m6 0h1m-109 1h2m2 0h2m1 0h3m6 0h6m2 0h1m3 0h20m2 0h3m1 0h18m4 0h6m1 0h2m3 0h2m9 0h3m5 0h3m-117 1h1m2 0h1m3 0h5m2 0h5m4 0h4m1 0h3m5 0h4m1 0h2m1 0h4m1 0h2m3 0h2m1 0h26m3 0h2m1 0h3m2 0h3m9 0h2m-108 1h1m2 0h2m4 0h2m4 0h5m4 0h7m3 0h6m3 0h9m1 0h3m1 0h5m1 0h3m2 0h9m2 0h4m3 0h2m1 0h6m10 0h1m9 0h1m-110 1h1m6 0h1m2 0h1m1 0h4m2 0h7m1 0h7m1 0h15m1 0h2m1 0h6m2 0h6m1 0h4m1 0h5m9 0h2m20 0h1m-116 1h1m2 0h2m1 0h6m6 0h5m3 0h9m2 0h2m1 0h3m2 0h9m2 0h9m1 0h2m1 0h9m1 0h5m2 0h3m4 0h3m2 0h1m8 0h1m1 0h2m-111 1h2m1 0h2m2 0h6m2 0h2m3 0h3m3 0h10m1 0h16m4 0h4m2 0h2m1 0h2m5 0h7m3 0h7m3 0h2m3 0h2m7 0h1m-108 1h2m1 0h2m9 0h15m1 0h2m1 0h5m1 0h5m1 0h10m3 0h1m1 0h2m2 0h1m1 0h3m2 0h8m1 0h10m3 0h1m3 0h4m-100 1h1m1 0h2m1 0h2m1 0h2m2 0h5m1 0h10m1 0h2m1 0h5m1 0h5m1 0h11m1 0h2m1 0h3m2 0h5m2 0h5m1 0h4m4 0h8m2 0h3m-93 1h5m2 0h1m5 0h2m1 0h7m2 0h36m1 0h6m1 0h2m1 0h7m2 0h3m6 0h1m-97 1h3m2 0h1m2 0h3m1 0h2m1 0h2m2 0h27m4 0h4m2 0h2m1 0h10m1 0h4m4 0h2m1 0h6m2 0h1m-90 1h7m2 0h2m1 0h6m1 0h7m2 0h15m1 0h4m1 0h5m2 0h13m1 0h5m6 0h1m1 0h4m5 0h4m-95 1h6m4 0h24m4 0h9m1 0h13m2 0h11m2 0h4m1 0h4m7 0h6m-97 1h6m3 0h4m1 0h1m2 0h10m1 0h4m4 0h1m3 0h10m2 0h8m1 0h10m4 0h9m3 0h2m1 0h3m2 0h3m1 0h1m-100 1h6m4 0h27m2 0h31m5 0h2m1 0h2m2 0h2m1 0h1m1 0h5m4 0h1m-98 1h22m1 0h3m1 0h12m1 0h8m1 0h4m3 0h9m1 0h3m7 0h2m1 0h2m3 0h9m3 0h1m-99 1h4m2 0h21m2 0h25m3 0h4m1 0h10m1 0h1m7 0h4m1 0h2m2 0h1m3 0h1m2 0h1m-98 1h5m1 0h9m1 0h2m2 0h7m1 0h25m4 0h4m1 0h2m3 0h10m1 0h1m3 0h3m1 0h3m7 0h1m2 0h2m-99 1h6m3 0h1m1 0h2m1 0h2m1 0h8m1 0h17m1 0h2m2 0h1m1 0h2m4 0h3m6 0h2m2 0h6m9 0h3m3 0h2m1 0h1m-94 1h9m1 0h1m3 0h25m1 0h6m1 0h2m1 0h4m2 0h3m4 0h5m3 0h2m5 0h3m3 0h2m4 0h1m2 0h1m-93 1h30m2 0h6m1 0h4m2 0h3m1 0h5m1 0h2m3 0h7m9 0h2m2 0h2m2 0h2m-86 1h23m3 0h4m1 0h6m3 0h3m1 0h6m1 0h5m4 0h3m7 0h1m4 0h1m4 0h4m-83 1h10m2 0h7m1 0h4m2 0h7m2 0h2m2 0h6m1 0h3m1 0h6m7 0h1m2 0h2m1 0h2m3 0h2m5 0h2m-83 1h3m1 0h5m2 0h7m2 0h3m1 0h8m3 0h9m2 0h3m2 0h2m1 0h2m1 0h2m1 0h2m4 0h2m6 0h2m1 0h1m-81 1h21m2 0h3m2 0h5m1 0h3m2 0h17m1 0h5m1 0h2m7 0h2m2 0h1m3 0h1m-81 1h8m4 0h4m2 0h9m2 0h9m1 0h4m2 0h10m6 0h3m3 0h2m1 0h4m2 0h2m-77 1h3m6 0h1m1 0h4m3 0h8m2 0h2m1 0h7m2 0h3m1 0h10m2 0h8m2 0h5m3 0h2m-76 1h7m1 0h19m1 0h6m1 0h3m3 0h10m2 0h1m2 0h8m2 0h6m2 0h1m5 0h1m-82 1h3m1 0h4m1 0h4m1 0h12m3 0h1m2 0h3m5 0h8m3 0h2m5 0h3m2 0h1m8 0h1m-73 1h2m5 0h6m1 0h8m2 0h3m1 0h3m3 0h1m4 0h5m3 0h2m3 0h1m6 0h2m1 0h2m5 0h2m1 0h1m-72 1h2m1 0h2m1 0h1m2 0h9m1 0h2m2 0h8m5 0h3m2 0h3m2 0h9m4 0h4m3 0h4m7 0h1m-79 1h3m2 0h3m2 0h6m5 0h1m4 0h9m2 0h5m1 0h2m1 0h11m1 0h5m4 0h2m-69 1h1m5 0h5m3 0h4m3 0h4m1 0h2m1 0h6m2 0h5m1 0h6m3 0h2m3 0h6m5 0h1m-65 1h3m1 0h3m1 0h7m1 0h5m4 0h2m1 0h1m2 0h6m2 0h2m2 0h2m3 0h6m-57 1h2m1 0h3m1 0h7m2 0h11m2 0h1m3 0h6m1 0h2m10 0h4m-56 1h3m1 0h10m3 0h3m2 0h5m2 0h2m1 0h7m1 0h2m7 0h2m6 0h1m24 0h1m-83 1h15m2 0h2m3 0h5m5 0h3m5 0h1m16 0h1m-60 1h2m3 0h2m1 0h2m1 0h2m1 0h2m2 0h3m7 0h1m1 0h2m2 0h2m3 0h1m1 0h2m2 0h2m-46 1h1m3 0h5m1 0h5m2 0h1m1 0h2m5 0h2m1 0h2m2 0h2m2 0h2m1 0h2m2 0h2m-45 1h1m2 0h7m5 0h2m1 0h3m5 0h3m3 0h3m1 0h3m-41 1h11m6 0h2m1 0h4m5 0h2m5 0h2m1 0h2m-41 1h10m11 0h3m6 0h2m5 0h1m1 0h2m-37 1h6m2 0h2m5 0h1m2 0h2m4 0h1m8 0h1m6 0h1m-38 1h2m1 0h4m14 0h1m15 0h1m-38 1h8m-11 1h2m3 0h2m3 0h1m-11 1h2m6 0h1m16 0h2m-19 1h1m15 0h3m14 0h1m-42 1h1m23 0h2m-26 3h2m48 1h2" stroke="#ff0000"/>
<path d="M563 343.5h2m-2 1h2m-4 1h2m-2 1h2m6 0h4m-5 1h5m-9 1h2m2 0h2m-7 1h3m3 0h2m-14 1h2m1 0h5m2 0h5m-15 1h2m1 0h4m1 0h7m-11 1h2m2 0h7m-10 1h2m5 0h2m-12 1h2m1 0h2m-29 1h2m13 0h2m7 0h2m8 0h3m-37 1h2m13 0h2m7 0h2m3 0h2m1 0h5m-28 1h2m1 0h2m10 0h2m3 0h2m1 0h2m1 0h2m-28 1h2m1 0h2m4 0h2m3 0h5m4 0h2m-16 1h2m3 0h5m1 0h2m1 0h2m1 0h2m-13 1h4m1 0h2m3 0h4m-22 1h2m6 0h4m1 0h4m1 0h2m-20 1h2m3 0h2m2 0h11m-21 1h2m4 0h2m4 0h2m1 0h6m-21 1h2m4 0h4m5 0h3m1 0h4m-23 1h2m2 0h2m2 0h2m5 0h2m1 0h5m-23 1h2m2 0h2m12 0h5m-24 1h2m18 0h4m-24 1h2m4 0h2m9 0h2m3 0h2m-23 1h2m3 0h2m5 0h2m2 0h2m2 0h3m-23 1h2m4 0h2m4 0h2m2 0h6m-29 1h2m1 0h2m5 0h2m1 0h2m6 0h6m-27 1h2m1 0h2m5 0h2m7 0h10m-30 1h2m1 0h2m8 0h2m5 0h2m2 0h6m-30 1h2m1 0h2m8 0h2m1 0h2m2 0h4m2 0h2m1 0h1m-18 1h2m2 0h2m4 0h2m2 0h2m1 0h1m-22 1h2m2 0h2m15 0h1m-22 1h2m1 0h2m3 0h2m2 0h3m5 0h2m-20 1h3m3 0h2m2 0h5m1 0h5m-24 1h2m1 0h3m3 0h2m2 0h5m1 0h4m-23 1h2m2 0h2m7 0h4m2 0h4m-35 1h2m20 0h2m7 0h4m-35 1h2m18 0h7m2 0h2m-26 1h2m13 0h2m1 0h4m2 0h4m-28 1h2m15 0h2m7 0h2m-11 1h3m-2 1h2m7 0h2m-2 1h3m-25 1h2m21 0h2m-25 1h2" stroke="#ffd6d6"/>
<path d="M629 86.5h2m-2 1h2m116 13h2m-19 1h2m15 0h2m-40 1h2m2 0h2m6 0h2m7 0h2m53 0h2m-78 1h2m1 0h1m1 0h1m6 0h4m43 0h1m1 0h1m14 0h2m-86 1h2m3 0h2m4 0h2m9 0h2m43 0h1m1 0h1m-70 1h2m1 0h4m5 0h2m14 0h2m22 0h2m24 0h2m-81 1h2m2 0h2m7 0h2m14 0h2m22 0h2m24 0h2m-81 1h2m14 0h2m32 0h2m12 0h2m6 0h2m15 0h2m4 0h2m7 0h2m-95 1h2m3 0h2m4 0h2m7 0h2m17 0h2m12 0h2m3 0h2m1 0h2m7 0h2m6 0h2m4 0h2m7 0h2m-100 1h2m1 0h6m7 0h2m7 0h1m17 0h2m18 0h2m10 0h2m2 0h2m-81 1h2m11 0h4m9 0h1m14 0h4m34 0h2m-78 1h1m1 0h1m1 0h2m4 0h4m24 0h2m13 0h2m3 0h2m41 0h4m4 0h2m-110 1h2m50 0h2m3 0h2m41 0h4m4 0h2m2 0h2m-71 1h1m1 0h1m1 0h2m3 0h2m10 0h2m20 0h2m19 0h2m3 0h2m-89 1h2m13 0h2m1 0h1m1 0h2m1 0h1m3 0h1m1 0h1m9 0h2m20 0h2m13 0h2m4 0h2m-104 1h2m2 0h2m11 0h2m1 0h2m5 0h2m6 0h2m4 0h2m11 0h2m5 0h2m2 0h2m12 0h1m1 0h1m10 0h4m-153 1h2m53 0h4m2 0h2m10 0h1m1 0h1m8 0h2m2 0h2m15 0h2m1 0h2m1 0h2m5 0h2m2 0h2m10 0h3m1 0h1m7 0h1m1 0h9m-209 1h2m50 0h2m44 0h2m17 0h2m6 0h2m13 0h4m14 0h4m23 0h1m1 0h1m9 0h1m2 0h1m6 0h2m-209 1h2m96 0h1m1 0h3m4 0h2m8 0h2m1 0h1m1 0h1m19 0h2m14 0h2m3 0h2m4 0h2m9 0h2m3 0h2m4 0h2m4 0h2m-100 1h4m16 0h1m2 0h1m2 0h2m9 0h2m21 0h2m2 0h2m2 0h4m9 0h2m3 0h1m2 0h3m2 0h2m3 0h1m1 0h1m-100 1h2m16 0h2m4 0h2m9 0h2m29 0h2m11 0h4m1 0h1m2 0h5m3 0h3m1 0h1m14 0h2m-117 1h1m1 0h1m8 0h2m13 0h2m6 0h2m23 0h2m9 0h2m6 0h6m4 0h2m2 0h1m1 0h2m3 0h1m7 0h2m6 0h2m-117 1h2m9 0h2m13 0h2m4 0h4m3 0h2m13 0h2m14 0h2m6 0h2m1 0h2m3 0h2m2 0h2m2 0h1m4 0h1m5 0h4m-106 1h2m22 0h2m3 0h2m5 0h2m13 0h2m11 0h2m6 0h2m4 0h4m1 0h2m3 0h1m3 0h1m2 0h2m2 0h2m1 0h2m5 0h2m-150 1h2m31 0h2m4 0h2m4 0h2m16 0h2m23 0h2m19 0h4m6 0h2m3 0h1m2 0h2m1 0h1m3 0h2m2 0h1m1 0h1m7 0h2m6 0h2m-163 1h2m3 0h2m31 0h2m4 0h2m4 0h4m1 0h2m36 0h2m8 0h2m3 0h2m4 0h5m1 0h1m1 0h3m2 0h4m1 0h1m6 0h4m1 0h3m14 0h2m-168 1h2m3 0h2m30 0h2m10 0h4m4 0h3m1 0h1m46 0h2m7 0h7m3 0h3m2 0h3m1 0h2m2 0h2m3 0h3m3 0h2m-153 1h2m21 0h2m12 0h2m12 0h2m6 0h2m2 0h2m6 0h2m41 0h2m1 0h5m1 0h1m3 0h2m2 0h2m3 0h5m5 0h2m-125 1h2m14 0h2m22 0h2m6 0h2m11 0h2m5 0h2m10 0h2m9 0h4m3 0h1m1 0h3m1 0h5m2 0h1m6 0h1m1 0h1m10 0h4m-163 1h2m42 0h2m10 0h2m9 0h2m20 0h2m5 0h2m10 0h2m11 0h2m2 0h2m3 0h2m1 0h1m6 0h3m1 0h3m4 0h2m6 0h2m-161 1h2m54 0h2m8 0h1m1 0h1m2 0h1m1 0h1m46 0h2m3 0h2m3 0h2m1 0h1m5 0h1m13 0h2m6 0h2m-113 1h2m1 0h2m1 0h2m4 0h2m2 0h2m1 0h3m1 0h1m1 0h4m3 0h2m2 0h2m6 0h2m10 0h2m12 0h2m3 0h1m1 0h1m1 0h4m3 0h2m1 0h1m13 0h2m10 0h2m-117 1h2m1 0h2m1 0h2m3 0h1m1 0h1m5 0h2m4 0h4m3 0h2m2 0h2m3 0h2m1 0h2m10 0h2m12 0h2m1 0h3m2 0h7m1 0h1m1 0h2m3 0h1m4 0h2m2 0h4m9 0h2m-106 1h2m26 0h4m23 0h2m2 0h1m1 0h3m2 0h2m7 0h1m1 0h1m1 0h1m1 0h1m5 0h2m2 0h4m11 0h2m-106 1h2m5 0h2m16 0h1m1 0h1m5 0h2m4 0h2m12 0h2m3 0h2m1 0h2m7 0h1m1 0h6m4 0h2m20 0h2m-129 1h2m21 0h2m5 0h2m16 0h2m6 0h2m4 0h2m18 0h4m4 0h2m2 0h1m1 0h1m2 0h2m25 0h2m-138 1h2m2 0h2m4 0h4m19 0h2m35 0h2m11 0h2m10 0h2m3 0h2m3 0h1m6 0h2m1 0h2m3 0h2m14 0h2m-138 1h2m2 0h2m6 0h2m19 0h2m3 0h2m30 0h2m11 0h2m7 0h2m1 0h2m2 0h2m5 0h2m12 0h2m-145 1h2m59 0h2m38 0h2m12 0h2m5 0h1m1 0h1m1 0h1m5 0h2m1 0h2m1 0h2m13 0h2m-155 1h2m44 0h2m34 0h2m17 0h2m10 0h4m6 0h2m1 0h1m5 0h1m1 0h1m1 0h4m13 0h2m-109 1h2m15 0h2m17 0h2m29 0h2m3 0h2m10 0h2m2 0h1m1 0h2m-75 1h2m53 0h2m10 0h2m-139 1h2m54 0h2m59 0h2m10 0h2m3 0h2m-189 1h2m37 0h2m12 0h2m54 0h2m58 0h1m1 0h1m10 0h4m1 0h2m-189 1h2m37 0h2m128 0h2m8 0h2m3 0h2m-164 1h2m155 0h2m1 0h2m4 0h4m-170 1h2m158 0h2m4 0h4m-105 1h2m-2 1h2m16 0h2m-58 1h2m54 0h2m-58 1h2m134 0h2m1 0h2m-109 1h2m102 0h2m1 0h2m-165 1h2m45 0h2m7 0h2m37 0h2m-97 1h2m45 0h2m46 0h2m9 0h2m-2 1h2m-1 1h2m-2 1h2m87 0h2m-2 1h2m-191 1h2m25 0h2m-29 1h2m25 0h2m115 0h2m-102 1h2m98 0h2m50 0h2m-154 1h2m54 0h2m94 0h2m-98 1h2m12 0h2m-2 1h2m-102 2h2m-2 1h2m74 0h2m-2 1h2m88 1h2m-2 1h2m-71 2h2m-75 1h2m19 0h2m50 0h2m55 0h2m-132 1h1m1 0h1m15 0h2m1 0h2m107 0h2m-131 1h2m15 0h2m54 1h2m-126 1h2m88 0h2m19 0h2m11 0h2m68 0h2m-196 1h2m88 0h2m19 0h2m81 0h2m-153 1h2m111 0h2m-115 1h2m111 0h2m-183 1h2m86 0h2m7 0h2m116 0h2m-217 1h2m56 0h2m15 0h2m6 0h2m3 0h2m7 0h2m116 0h2m-159 1h2m15 0h2m6 0h2m8 0h2m-2 1h2m68 0h2m-107 1h2m103 0h2m23 0h2m-132 1h2m13 0h2m45 0h2m66 0h2m-136 1h2m2 0h1m1 0h1m12 0h2m16 0h2m27 0h2m-105 1h2m29 0h2m4 0h2m2 0h1m1 0h1m30 0h2m76 0h2m-154 1h2m150 0h2m-107 1h2m13 0h2m-17 1h2m6 0h2m5 0h2m12 0h2m-35 1h2m10 0h2m19 0h2m-75 1h2m38 0h2m17 0h2m8 0h2m-71 1h2m57 0h2m8 0h2m27 0h2m32 0h2m7 0h2m-45 1h2m32 0h2m7 0h2m-152 2h2m165 0h2m-169 1h2m52 0h2m111 0h2m-166 1h2m49 0h2m65 0h2m-120 1h2m116 0h2m10 1h2m52 0h2m-65 1h2m7 0h2m52 0h2m-65 1h2m-51 1h2m9 0h2m-47 1h2m32 0h2m9 0h2m-47 1h2m56 1h2m71 0h2m-75 1h2m71 0h2m-26 1h2m-2 1h2m9 0h2m-112 1h4m106 0h2m-112 1h4m10 1h2m-2 1h2m15 0h2m28 0h2m-32 1h2m28 0h2m-98 1h2m-2 1h2m69 0h2m-43 1h2m39 0h2m68 0h2m-113 1h2m109 0h2m-167 1h2m77 0h2m145 0h2m-228 1h2m22 0h2m22 0h2m29 0h2m145 0h2m-204 1h2m22 0h2m-27 1h2m166 0h2m-170 1h2m88 0h2m76 0h2m-108 1h2m26 0h2m-30 1h2m14 1h2m-2 1h2m-51 4h2m-2 1h2m170 3h2m-162 1h2m7 0h2m39 0h2m6 0h2m100 0h2m-162 1h2m7 0h2m39 0h2m6 0h2m-9 1h2m-2 1h2m42 4h4m-4 1h4m41 2h2m-2 1h2m-138 1h2m-2 1h2m84 6h2m-2 1h2m-121 1h2m-2 1h2m34 3h2m-2 1h2m-14 1h2m74 0h2m-78 1h2m2 0h2m70 0h2m-74 1h2m-33 5h2m-2 1h2m129 0h2m-117 1h2m113 0h2m-117 1h2m106 0h2m4 0h2m-133 1h2m109 0h2m12 0h2m4 0h2m-133 1h2m52 0h2m55 0h2m-59 1h2m-46 3h2m114 0h2m-118 1h2m114 0h2m-144 1h2m54 0h2m-58 1h2m28 0h2m21 0h2m1 0h2m-66 1h2m36 0h4m19 0h2m71 0h2m-136 1h2m38 0h2m92 0h2m10 0h2m-144 1h2m83 0h2m55 0h2m-144 1h2m49 0h2m32 0h2m-36 1h2m74 0h2m8 0h2m2 0h2m-16 1h2m8 0h2m2 0h2m-119 1h2m18 0h2m-22 1h2m18 0h2m80 0h2m-159 1h2m47 0h2m3 0h2m101 0h2m-159 1h2m47 0h2m3 0h2m37 0h2m51 0h2m-55 1h2m51 0h2m2 0h2m-114 1h2m2 0h2m31 0h1m1 0h1m8 0h2m49 0h2m11 0h2m-114 1h5m1 0h1m11 0h2m5 0h2m8 0h3m1 0h1m8 0h2m49 0h2m-99 1h2m1 0h2m11 0h2m5 0h2m8 0h2m7 0h2m84 0h2m-120 1h2m30 0h2m51 0h2m21 0h2m8 0h1m1 0h1m-128 1h2m5 0h2m18 0h2m55 0h2m6 0h2m21 0h2m9 0h2m-128 1h2m20 0h2m3 0h2m23 0h2m30 0h2m16 0h2m10 0h2m-111 1h2m13 0h4m28 0h2m48 0h2m10 0h2m2 0h2m-117 1h6m11 0h2m54 0h2m24 0h2m14 0h2m-133 1h2m18 0h2m5 0h2m37 0h2m21 0h2m24 0h2m-117 1h2m14 0h2m7 0h4m37 0h2m-62 1h2m8 0h2m7 0h2m29 0h2m-55 1h3m1 0h1m8 0h2m10 0h2m14 0h2m7 0h1m1 0h3m44 0h2m4 0h2m9 0h2m18 0h2m2 0h2m-142 1h2m6 0h1m1 0h1m14 0h2m14 0h2m7 0h1m1 0h1m21 0h2m23 0h2m4 0h2m29 0h2m2 0h2m-140 1h2m4 0h1m1 0h3m13 0h2m46 0h2m23 0h2m15 0h2m-110 1h2m1 0h2m13 0h2m71 0h2m14 0h2m-119 1h2m8 0h2m56 0h2m36 0h2m9 0h2m-123 1h2m2 0h2m18 0h2m46 0h2m3 0h2m11 0h2m18 0h2m8 0h2m-98 1h2m5 0h2m16 0h2m18 0h2m6 0h2m41 0h2m-122 1h2m17 0h2m10 0h1m1 0h1m1 0h2m12 0h2m18 0h2m1 0h1m1 0h1m15 0h2m15 0h2m-118 1h4m24 0h2m2 0h2m7 0h2m1 0h2m7 0h2m26 0h1m1 0h1m29 0h2m1 0h2m-118 1h4m28 0h2m19 0h2m5 0h2m7 0h2m42 0h2m3 0h2m-129 1h2m9 0h2m9 0h2m2 0h1m2 0h1m14 0h1m1 0h1m4 0h2m16 0h2m7 0h2m1 0h2m39 0h2m3 0h2m1 0h2m3 0h2m1 0h2m-140 1h2m9 0h2m9 0h2m2 0h1m2 0h1m2 0h1m1 0h1m9 0h1m6 0h2m21 0h2m5 0h2m19 0h2m18 0h2m6 0h2m3 0h2m1 0h2m-139 1h2m24 0h2m3 0h1m1 0h1m2 0h2m20 0h2m10 0h2m1 0h2m2 0h2m14 0h1m1 0h1m5 0h2m22 0h2m5 0h2m-134 1h2m8 0h2m10 0h2m6 0h2m1 0h3m1 0h1m1 0h2m3 0h2m12 0h2m8 0h4m5 0h2m14 0h1m1 0h1m11 0h2m15 0h1m1 0h1m5 0h1m1 0h1m-143 1h2m16 0h2m10 0h2m6 0h2m1 0h4m2 0h2m11 0h2m14 0h2m10 0h2m7 0h2m1 0h2m13 0h2m14 0h1m1 0h1m7 0h2m7 0h2m-152 1h2m15 0h2m18 0h2m6 0h1m1 0h1m12 0h2m4 0h4m5 0h1m1 0h1m2 0h2m6 0h2m7 0h2m1 0h2m1 0h2m15 0h2m6 0h2m1 0h1m3 0h2m13 0h2m-135 1h2m14 0h2m2 0h2m8 0h1m16 0h6m7 0h1m2 0h2m6 0h2m13 0h1m1 0h1m5 0h2m7 0h2m6 0h2m5 0h2m-131 1h2m13 0h2m3 0h2m4 0h1m2 0h5m4 0h1m1 0h1m3 0h1m1 0h3m5 0h2m1 0h1m1 0h1m1 0h2m11 0h2m3 0h3m1 0h1m14 0h2m5 0h2m-107 1h2m12 0h1m1 0h1m3 0h2m4 0h8m4 0h2m4 0h1m1 0h1m4 0h2m1 0h1m2 0h2m2 0h2m6 0h5m2 0h1m2 0h4m-69 1h2m13 0h2m6 0h1m1 0h1m4 0h3m1 0h1m1 0h1m1 0h1m16 0h3m2 0h5m3 0h2m7 0h2m6 0h2m15 0h2m19 0h2m-140 1h2m16 0h2m10 0h2m1 0h2m3 0h1m1 0h1m6 0h1m2 0h3m2 0h1m11 0h1m1 0h4m2 0h1m1 0h2m1 0h5m7 0h2m6 0h2m15 0h2m1 0h3m15 0h2m-140 1h2m13 0h1m8 0h2m4 0h2m1 0h2m7 0h2m4 0h3m3 0h1m4 0h1m1 0h3m1 0h1m3 0h1m1 0h1m2 0h2m1 0h1m1 0h1m2 0h1m6 0h2m6 0h2m4 0h1m1 0h1m5 0h2m3 0h2m1 0h1m1 0h2m2 0h1m-111 1h1m4 0h1m1 0h1m1 0h2m8 0h2m6 0h2m4 0h3m10 0h1m6 0h1m2 0h1m8 0h4m2 0h2m1 0h2m3 0h1m1 0h3m4 0h1m1 0h1m3 0h4m3 0h3m1 0h3m1 0h2m-135 1h2m14 0h2m8 0h1m1 0h2m1 0h1m7 0h1m3 0h3m2 0h1m2 0h1m6 0h2m2 0h1m3 0h2m1 0h1m1 0h1m5 0h2m1 0h5m1 0h1m2 0h1m3 0h1m1 0h1m4 0h1m1 0h2m14 0h2m7 0h2m1 0h2m-132 1h2m14 0h2m2 0h2m4 0h2m8 0h4m2 0h1m1 0h1m6 0h4m1 0h2m1 0h1m5 0h4m1 0h2m14 0h1m15 0h1m1 0h2m11 0h2m20 0h2m7 0h2m-130 1h2m1 0h2m10 0h1m2 0h2m2 0h1m1 0h2m4 0h2m2 0h1m1 0h2m1 0h1m4 0h5m2 0h1m10 0h3m2 0h3m3 0h1m8 0h2m2 0h2m9 0h2m8 0h2m3 0h4m3 0h2m7 0h2m-149 1h2m7 0h4m9 0h4m4 0h1m1 0h1m1 0h1m1 0h1m5 0h2m2 0h3m3 0h3m2 0h1m1 0h1m6 0h2m5 0h1m1 0h1m1 0h1m2 0h1m2 0h1m11 0h1m6 0h5m4 0h2m2 0h2m9 0h2m3 0h4m1 0h1m1 0h1m-139 1h2m7 0h4m11 0h2m2 0h3m1 0h3m3 0h4m2 0h1m6 0h2m1 0h3m4 0h1m5 0h1m3 0h2m2 0h1m8 0h1m1 0h1m6 0h1m1 0h3m1 0h3m1 0h3m1 0h1m1 0h4m2 0h2m19 0h1m1 0h1m-128 1h2m15 0h4m1 0h1m1 0h1m6 0h1m1 0h1m6 0h1m2 0h1m1 0h2m6 0h2m1 0h1m3 0h1m3 0h1m11 0h1m1 0h1m3 0h1m1 0h1m3 0h7m3 0h2m9 0h2m-127 1h2m9 0h2m3 0h2m9 0h2m4 0h1m3 0h2m8 0h2m4 0h1m1 0h2m1 0h3m2 0h1m3 0h1m1 0h1m10 0h1m1 0h1m3 0h1m2 0h1m2 0h2m1 0h7m3 0h5m3 0h1m2 0h1m8 0h2m2 0h2m-131 1h2m3 0h2m19 0h1m7 0h1m5 0h7m6 0h1m3 0h3m9 0h1m3 0h1m3 0h1m1 0h1m6 0h1m1 0h2m4 0h2m1 0h2m2 0h1m4 0h2m2 0h1m1 0h1m3 0h1m10 0h3m1 0h1m-127 1h2m4 0h2m4 0h1m1 0h1m5 0h1m7 0h1m2 0h1m8 0h1m8 0h1m2 0h1m3 0h1m2 0h2m5 0h3m2 0h7m3 0h3m3 0h3m1 0h1m2 0h1m1 0h1m4 0h2m1 0h1m2 0h1m7 0h1m1 0h1m4 0h2m1 0h2m2 0h2m-136 1h2m2 0h2m9 0h3m1 0h1m5 0h1m3 0h1m4 0h1m4 0h1m3 0h1m17 0h1m1 0h4m6 0h2m6 0h1m3 0h1m4 0h2m6 0h3m2 0h1m2 0h2m5 0h6m1 0h1m1 0h1m6 0h2m3 0h2m-136 1h2m2 0h2m4 0h2m3 0h2m4 0h1m2 0h1m1 0h3m1 0h1m4 0h1m5 0h3m3 0h3m5 0h1m7 0h1m5 0h2m6 0h1m3 0h1m4 0h1m4 0h3m4 0h1m5 0h1m2 0h1m6 0h1m5 0h1m6 0h4m-129 1h1m2 0h1m4 0h1m1 0h1m14 0h1m5 0h2m4 0h3m1 0h1m3 0h1m9 0h2m3 0h1m9 0h1m3 0h3m1 0h1m2 0h1m2 0h1m6 0h1m4 0h1m4 0h4m2 0h2m3 0h4m2 0h1m1 0h2m18 0h2m-142 1h1m3 0h1m4 0h4m2 0h1m1 0h1m1 0h1m10 0h1m5 0h4m10 0h1m7 0h1m1 0h1m15 0h1m1 0h1m2 0h2m1 0h1m14 0h1m1 0h2m4 0h2m11 0h2m3 0h2m13 0h2m5 0h2m-151 1h2m8 0h2m3 0h2m4 0h1m2 0h2m6 0h1m2 0h1m3 0h1m1 0h1m10 0h1m7 0h1m7 0h1m10 0h2m2 0h4m5 0h1m4 0h1m4 0h4m4 0h1m1 0h1m5 0h2m29 0h2m-151 1h2m6 0h2m5 0h1m9 0h1m2 0h1m2 0h1m2 0h3m1 0h2m1 0h5m16 0h1m4 0h4m1 0h1m6 0h1m2 0h1m7 0h5m9 0h2m4 0h1m1 0h1m-111 1h1m1 0h4m7 0h1m10 0h1m7 0h1m2 0h3m4 0h2m13 0h3m7 0h2m3 0h1m16 0h3m2 0h1m3 0h1m1 0h1m1 0h1m1 0h2m7 0h4m12 0h2m-133 1h3m1 0h1m2 0h1m6 0h2m4 0h2m15 0h1m5 0h1m1 0h2m5 0h2m7 0h1m1 0h1m4 0h3m8 0h1m6 0h1m5 0h1m1 0h2m4 0h1m2 0h2m1 0h2m3 0h8m12 0h1m1 0h1m-134 1h4m29 0h1m6 0h1m3 0h1m3 0h1m4 0h1m14 0h1m1 0h1m1 0h1m5 0h1m3 0h1m15 0h5m1 0h3m1 0h2m1 0h2m14 0h2m3 0h2m2 0h2m-137 1h1m1 0h2m1 0h1m3 0h2m2 0h1m1 0h2m5 0h2m1 0h1m13 0h2m11 0h1m14 0h1m1 0h3m4 0h1m6 0h3m4 0h3m4 0h1m1 0h2m2 0h3m1 0h2m3 0h2m6 0h2m4 0h2m7 0h2m-137 1h2m1 0h1m2 0h2m1 0h1m3 0h2m1 0h1m9 0h1m3 0h1m1 0h2m5 0h1m2 0h1m5 0h1m11 0h2m1 0h2m3 0h1m2 0h1m2 0h1m8 0h6m3 0h2m1 0h3m3 0h1m1 0h1m5 0h2m3 0h2m4 0h2m-118 1h1m4 0h1m3 0h2m6 0h1m3 0h1m3 0h1m2 0h1m28 0h1m6 0h1m2 0h1m12 0h1m1 0h1m5 0h2m1 0h1m3 0h2m2 0h1m5 0h2m3 0h2m-114 1h3m1 0h2m1 0h1m4 0h1m2 0h1m2 0h1m30 0h1m14 0h3m6 0h2m8 0h2m2 0h4m2 0h3m6 0h2m1 0h2m6 0h2m2 0h2m6 0h2m2 0h2m-133 1h3m1 0h1m3 0h1m18 0h1m7 0h1m34 0h2m3 0h1m8 0h2m3 0h1m2 0h1m4 0h1m1 0h1m1 0h1m2 0h2m1 0h2m6 0h1m1 0h1m1 0h2m6 0h2m2 0h2m-131 1h3m2 0h1m3 0h2m14 0h1m36 0h1m7 0h4m2 0h1m4 0h1m4 0h2m1 0h1m1 0h1m11 0h2m1 0h4m4 0h2m-115 1h1m2 0h1m3 0h1m12 0h2m11 0h2m17 0h1m2 0h1m7 0h1m1 0h1m7 0h1m6 0h1m4 0h3m2 0h1m14 0h2m-111 1h1m6 0h1m13 0h2m1 0h3m12 0h1m12 0h1m13 0h1m3 0h1m6 0h1m4 0h1m4 0h2m4 0h3m6 0h2m2 0h2m3 0h2m-106 1h3m15 0h2m1 0h1m15 0h1m2 0h1m6 0h1m4 0h1m4 0h3m2 0h2m7 0h1m3 0h1m5 0h2m2 0h4m1 0h1m1 0h3m2 0h2m-104 1h1m7 0h2m1 0h1m12 0h1m28 0h1m1 0h3m1 0h1m1 0h1m2 0h1m2 0h2m2 0h1m5 0h1m5 0h1m2 0h2m1 0h2m2 0h2m2 0h3m1 0h3m-104 1h2m6 0h1m44 0h1m3 0h2m6 0h4m11 0h1m2 0h1m1 0h2m3 0h1m4 0h2m-95 1h1m1 0h1m1 0h1m10 0h2m31 0h1m5 0h1m1 0h1m3 0h1m2 0h1m3 0h1m3 0h1m1 0h1m3 0h2m2 0h1m1 0h1m1 0h1m7 0h4m8 0h2m20 0h2m-130 1h1m16 0h1m11 0h1m4 0h1m3 0h1m16 0h2m7 0h1m3 0h1m16 0h1m1 0h3m6 0h2m2 0h2m4 0h2m20 0h2m2 0h2m-127 1h1m2 0h1m17 0h2m4 0h1m11 0h1m24 0h1m10 0h1m3 0h2m12 0h2m4 0h2m9 0h2m13 0h2m-136 1h1m3 0h1m2 0h2m1 0h4m1 0h2m1 0h2m1 0h1m8 0h1m3 0h1m1 0h1m5 0h2m3 0h1m13 0h1m3 0h2m8 0h1m8 0h1m3 0h2m18 0h2m9 0h2m-118 1h2m5 0h1m2 0h2m4 0h1m6 0h1m3 0h2m3 0h1m5 0h1m3 0h1m19 0h1m2 0h1m8 0h4m3 0h1m8 0h2m20 0h2m-118 1h2m2 0h1m3 0h1m5 0h1m6 0h2m8 0h1m4 0h1m2 0h1m2 0h1m1 0h2m3 0h1m3 0h1m3 0h1m2 0h1m5 0h1m8 0h3m4 0h1m2 0h1m3 0h2m25 0h2m-118 1h1m21 0h1m8 0h1m4 0h1m2 0h3m1 0h1m13 0h1m8 0h1m3 0h1m1 0h1m2 0h3m13 0h1m1 0h1m-89 1h1m3 0h2m7 0h2m5 0h1m2 0h3m6 0h1m3 0h1m4 0h1m19 0h1m3 0h2m5 0h1m1 0h1m2 0h2m3 0h2m2 0h1m1 0h1m-93 1h1m5 0h3m2 0h2m3 0h1m9 0h1m13 0h1m6 0h2m3 0h1m8 0h1m3 0h2m3 0h1m1 0h1m3 0h1m1 0h1m2 0h2m2 0h1m1 0h1m-88 1h1m5 0h1m2 0h1m11 0h1m2 0h2m7 0h1m17 0h3m3 0h2m3 0h1m2 0h1m1 0h1m1 0h1m14 0h1m1 0h1m-87 1h2m31 0h1m2 0h2m14 0h1m8 0h1m1 0h1m3 0h2m1 0h2m9 0h2m1 0h2m15 0h2m-101 1h3m2 0h1m20 0h2m3 0h1m3 0h2m11 0h1m7 0h1m1 0h1m1 0h1m5 0h1m2 0h1m3 0h2m24 0h2m-101 1h1m2 0h1m2 0h1m8 0h2m1 0h1m1 0h3m3 0h1m1 0h3m19 0h1m3 0h5m2 0h1m1 0h2m1 0h1m1 0h1m4 0h2m-58 1h1m2 0h1m1 0h1m3 0h4m7 0h1m1 0h1m13 0h2m3 0h2m2 0h3m38 0h2m37 0h2m-146 1h2m1 0h1m2 0h2m4 0h4m2 0h2m5 0h1m5 0h1m7 0h1m6 0h1m9 0h1m48 0h2m37 0h2m-135 1h1m1 0h1m4 0h1m5 0h2m5 0h2m6 0h1m1 0h1m5 0h1m1 0h2m12 0h2m-56 1h2m2 0h2m3 0h1m22 0h1m2 0h3m4 0h4m34 0h2m-77 1h3m1 0h2m1 0h1m19 0h1m1 0h1m7 0h3m2 0h1m4 0h1m1 0h1m1 0h1m1 0h1m2 0h2m2 0h2m13 0h2m-92 1h1m1 0h1m2 0h4m6 0h1m1 0h2m1 0h1m1 0h2m1 0h1m1 0h1m7 0h1m6 0h1m1 0h7m12 0h1m1 0h2m1 0h5m2 0h2m10 0h2m7 0h2m-98 1h1m2 0h1m1 0h1m6 0h1m5 0h2m1 0h5m2 0h1m6 0h1m6 0h1m4 0h2m10 0h2m8 0h2m16 0h2m7 0h2m-98 1h1m11 0h1m7 0h1m3 0h2m1 0h1m12 0h1m4 0h4m8 0h4m3 0h2m3 0h1m1 0h1m12 0h2m-83 1h2m2 0h2m2 0h2m14 0h1m1 0h1m4 0h2m4 0h3m1 0h1m1 0h1m10 0h2m10 0h1m1 0h1m12 0h2m-80 1h3m1 0h1m2 0h1m3 0h1m2 0h2m3 0h1m4 0h1m2 0h1m1 0h1m1 0h1m2 0h2m3 0h2m1 0h1m1 0h2m33 0h2m-82 1h1m1 0h2m6 0h1m1 0h3m6 0h1m1 0h1m1 0h1m1 0h2m1 0h1m1 0h3m4 0h2m4 0h4m31 0h2m-84 1h2m2 0h1m3 0h1m3 0h2m1 0h1m3 0h1m1 0h1m2 0h1m2 0h2m1 0h1m1 0h3m1 0h3m1 0h2m3 0h2m2 0h2m2 0h2m19 0h2m-77 1h3m8 0h1m1 0h1m3 0h4m2 0h2m2 0h1m3 0h1m1 0h3m1 0h1m2 0h1m1 0h1m3 0h2m6 0h2m19 0h2m-77 1h1m6 0h3m1 0h1m1 0h1m11 0h2m2 0h1m1 0h1m8 0h2m-44 1h2m1 0h1m1 0h1m1 0h1m1 0h1m25 0h2m1 0h2m-40 1h2m6 0h1m2 0h1m1 0h2m17 0h2m1 0h2m1 0h2m31 0h2m-72 1h2m6 0h1m2 0h1m1 0h1m5 0h2m10 0h2m6 0h2m29 0h2m11 0h2m-82 1h1m5 0h4m1 0h2m1 0h4m18 0h2m42 0h2m-85 1h1m2 0h1m10 0h2m1 0h2m9 0h2m-31 1h2m18 0h2m20 0h2m9 0h2m-55 1h1m1 0h1m7 0h2m8 0h2m4 0h1m1 0h1m13 0h2m9 0h2m-54 1h2m5 0h4m16 0h1m-21 1h2m16 1h2m-4 1h2m-20 1h2m16 0h2m5 0h2m-27 1h2m22 0h1m1 0h1m-3 1h2m-28 3h2m6 0h2m-10 1h2m6 0h2m1 2h2m-2 1h2" stroke="#ff4545"/>
<path d="M713 103.5h1m55 0h1m-1 1h1m-38 5h3m-26 1h2m2 0h2m18 0h2m-25 1h1m23 0h2m-2 1h2m18 1h1m-59 1h2m56 0h1m2 0h1m5 0h1m-68 1h2m65 0h2m30 0h1m15 0h2m-81 1h1m62 0h1m9 0h1m-93 1h2m77 0h1m11 0h2m-101 1h1m21 0h1m-2 1h2m30 0h2m32 0h2m3 0h2m6 0h1m5 0h2m2 0h2m-59 1h2m5 0h2m25 0h2m5 0h2m4 0h1m5 0h2m2 0h2m-110 1h1m91 0h1m2 0h3m-11 1h2m2 0h2m1 0h4m-11 1h3m1 0h3m-28 1h2m20 0h2m2 0h1m9 0h1m2 0h2m-91 1h2m59 0h1m5 0h2m4 0h1m1 0h2m12 0h2m-94 1h1m2 0h2m59 0h2m4 0h2m6 0h2m3 0h2m-23 1h1m1 0h2m15 0h4m-23 1h1m9 0h2m8 0h1m3 0h2m-19 1h6m3 0h1m17 0h2m-96 1h1m4 0h1m61 0h5m1 0h7m-75 1h1m53 0h1m13 0h7m-85 1h1m63 0h2m9 0h1m2 0h3m1 0h2m-25 1h1m11 0h2m2 0h1m3 0h1m2 0h2m-57 1h1m44 0h1m6 0h2m-8 1h1m1 0h2m2 0h2m2 0h2m-25 1h2m12 0h3m3 1h2m-14 1h1m3 0h2m-2 1h2m4 0h1m-6 1h2m2 0h2m-6 1h2m2 0h2m-24 2h1m-100 30h1m-18 13h1m-1 1h1m-12 1h2m-2 1h2m20 17h2m-2 1h2m1 71h2m-2 1h2m-18 15h1m-34 1h1m32 0h1m92 2h1m-124 5h2m-12 3h1m47 0h1m-50 1h2m5 0h1m41 0h1m64 0h2m-109 1h1m7 0h2m-2 1h2m-25 3h2m88 0h2m-60 1h1m40 0h1m-1 1h1m-65 2h2m16 0h1m-19 1h2m4 0h1m11 0h2m-14 1h1m11 0h2m48 0h1m-59 1h1m57 0h1m30 0h1m7 0h1m-10 1h1m-87 1h1m6 0h2m21 0h1m55 0h2m-89 1h2m6 0h2m20 0h2m27 0h1m27 0h2m-101 1h2m10 0h1m5 0h1m12 0h1m10 0h2m11 0h1m-68 1h1m29 0h1m9 0h2m17 0h2m-38 1h1m8 0h1m3 0h1m3 0h2m15 0h2m-36 1h1m5 0h2m1 0h2m6 0h2m10 0h1m4 0h2m1 0h1m2 0h1m43 0h2m-109 1h4m25 0h3m7 0h3m2 0h1m5 0h3m3 0h2m2 0h1m3 0h2m22 0h1m15 0h1m2 0h2m-109 1h4m1 0h1m8 0h2m13 0h3m6 0h4m1 0h2m1 0h6m4 0h2m21 0h1m8 0h1m14 0h1m-102 1h1m2 0h1m9 0h2m4 0h2m1 0h2m3 0h2m7 0h3m2 0h1m3 0h5m2 0h1m7 0h2m1 0h3m3 0h2m3 0h1m2 0h2m-66 1h2m1 0h1m1 0h6m4 0h1m2 0h1m3 0h2m10 0h8m1 0h2m2 0h7m2 0h2m1 0h3m-66 1h2m5 0h1m2 0h4m2 0h2m1 0h1m2 0h1m3 0h2m5 0h2m1 0h10m8 0h3m3 0h6m-70 1h1m3 0h1m13 0h3m6 0h1m2 0h5m2 0h5m1 0h1m3 0h2m1 0h2m5 0h5m3 0h6m35 0h1m-116 1h2m7 0h1m10 0h2m3 0h4m2 0h1m3 0h4m1 0h4m2 0h3m2 0h2m1 0h3m1 0h4m1 0h1m2 0h5m5 0h1m7 0h1m30 0h1m-116 1h2m2 0h2m6 0h1m1 0h6m1 0h1m3 0h4m1 0h2m1 0h1m2 0h3m1 0h2m4 0h3m1 0h3m1 0h3m1 0h7m1 0h1m1 0h3m3 0h3m7 0h2m-93 1h2m7 0h4m2 0h2m2 0h8m7 0h1m2 0h1m3 0h2m5 0h1m1 0h2m2 0h2m1 0h2m2 0h1m5 0h2m1 0h2m10 0h3m6 0h2m1 0h2m-105 1h2m7 0h4m3 0h7m1 0h5m7 0h6m1 0h3m4 0h3m2 0h3m1 0h2m2 0h2m2 0h1m1 0h2m2 0h2m1 0h1m2 0h2m7 0h2m1 0h3m6 0h1m1 0h3m14 0h1m-113 1h1m3 0h2m2 0h3m2 0h2m1 0h2m1 0h3m1 0h2m3 0h8m1 0h2m1 0h3m1 0h2m2 0h5m3 0h2m7 0h3m3 0h3m3 0h1m4 0h1m1 0h4m4 0h2m1 0h2m6 0h1m-104 1h1m7 0h3m2 0h2m2 0h4m2 0h2m1 0h11m1 0h5m1 0h1m4 0h6m2 0h3m4 0h3m1 0h4m2 0h6m6 0h2m2 0h4m9 0h1m-100 1h2m5 0h1m1 0h2m3 0h3m5 0h3m3 0h5m1 0h7m1 0h5m2 0h6m5 0h4m1 0h4m3 0h4m1 0h4m2 0h2m1 0h4m3 0h5m-117 1h2m6 0h1m9 0h6m2 0h2m4 0h4m3 0h1m1 0h3m1 0h9m2 0h3m1 0h9m1 0h3m5 0h2m1 0h2m2 0h3m3 0h3m2 0h4m15 0h2m7 0h2m-126 1h3m12 0h1m3 0h10m1 0h5m4 0h8m3 0h6m2 0h1m1 0h15m3 0h2m2 0h1m2 0h4m1 0h4m1 0h3m17 0h2m-115 1h2m6 0h2m2 0h3m2 0h2m2 0h6m1 0h2m1 0h2m2 0h1m1 0h9m2 0h7m1 0h7m1 0h9m3 0h2m4 0h5m1 0h4m1 0h2m6 0h4m1 0h1m-107 1h2m3 0h5m1 0h9m1 0h2m1 0h2m6 0h1m2 0h1m5 0h16m3 0h2m6 0h6m1 0h2m1 0h7m5 0h5m2 0h2m2 0h4m1 0h1m-109 1h1m4 0h7m1 0h2m1 0h7m1 0h7m6 0h3m3 0h13m5 0h5m2 0h3m1 0h4m1 0h2m1 0h8m6 0h3m3 0h1m-101 1h1m4 0h4m11 0h14m1 0h5m1 0h1m2 0h5m2 0h7m3 0h4m3 0h8m1 0h2m2 0h2m1 0h5m1 0h1m2 0h4m32 0h1m-125 1h6m4 0h4m2 0h9m1 0h6m1 0h3m2 0h2m1 0h3m2 0h14m3 0h1m1 0h5m1 0h3m1 0h3m2 0h4m1 0h5m5 0h1m9 0h2m-113 1h1m2 0h1m6 0h2m4 0h4m5 0h13m2 0h10m2 0h14m5 0h4m2 0h5m4 0h3m3 0h4m4 0h2m-99 1h2m2 0h1m2 0h2m2 0h1m1 0h4m1 0h2m3 0h3m4 0h5m1 0h2m1 0h5m1 0h2m2 0h2m1 0h4m2 0h1m2 0h3m4 0h2m1 0h8m6 0h3m2 0h1m7 0h1m-103 1h2m3 0h4m2 0h2m2 0h5m2 0h3m2 0h2m4 0h16m3 0h9m1 0h6m4 0h12m3 0h5m2 0h1m6 0h2m-103 1h2m3 0h1m2 0h1m2 0h3m1 0h2m1 0h2m1 0h6m1 0h2m2 0h19m1 0h14m5 0h4m2 0h8m2 0h2m4 0h2m4 0h4m-100 1h1m5 0h18m1 0h2m2 0h3m1 0h34m2 0h3m1 0h8m2 0h3m1 0h2m1 0h4m3 0h1m15 0h1m-118 1h3m6 0h3m2 0h14m1 0h31m1 0h4m1 0h7m4 0h2m1 0h4m1 0h4m2 0h1m3 0h3m-98 1h4m1 0h2m1 0h3m1 0h5m1 0h6m2 0h11m2 0h17m1 0h2m1 0h7m1 0h1m1 0h4m4 0h6m1 0h4m6 0h3m2 0h2m4 0h2m3 0h2m-112 1h6m1 0h13m2 0h1m3 0h12m1 0h12m1 0h13m1 0h2m2 0h3m1 0h2m1 0h4m1 0h3m4 0h2m4 0h2m2 0h2m-102 1h7m3 0h11m1 0h3m4 0h15m1 0h2m1 0h6m1 0h4m3 0h2m3 0h2m3 0h2m1 0h3m2 0h2m1 0h3m4 0h2m4 0h1m5 0h2m-104 1h2m2 0h6m4 0h12m2 0h26m2 0h1m5 0h1m1 0h2m1 0h2m2 0h2m1 0h5m1 0h5m17 0h1m-103 1h2m2 0h6m1 0h7m1 0h36m1 0h3m2 0h5m5 0h11m1 0h2m5 0h2m-92 1h4m1 0h1m3 0h10m2 0h31m1 0h5m3 0h3m1 0h2m1 0h3m1 0h3m3 0h3m2 0h2m3 0h1m1 0h3m-93 1h3m5 0h12m1 0h11m1 0h4m1 0h3m1 0h16m3 0h6m1 0h3m1 0h12m5 0h1m-90 1h5m3 0h2m1 0h2m1 0h17m2 0h3m2 0h11m1 0h5m1 0h4m1 0h6m1 0h4m3 0h10m9 0h2m-94 1h3m1 0h2m15 0h8m1 0h3m3 0h5m2 0h3m2 0h12m1 0h3m2 0h4m5 0h8m9 0h2m-94 1h2m2 0h2m4 0h2m2 0h4m3 0h4m1 0h3m2 0h3m1 0h5m5 0h2m1 0h13m1 0h2m1 0h2m1 0h3m10 0h2m4 0h2m-89 1h2m1 0h2m2 0h5m1 0h6m2 0h8m2 0h3m1 0h2m1 0h2m4 0h3m1 0h3m1 0h3m1 0h2m1 0h5m1 0h6m5 0h2m3 0h2m-84 1h21m1 0h8m2 0h3m6 0h1m1 0h10m1 0h2m1 0h8m1 0h3m3 0h2m3 0h2m2 0h2m8 0h1m-92 1h4m1 0h3m2 0h7m2 0h5m1 0h2m5 0h4m1 0h3m1 0h4m1 0h10m1 0h8m1 0h3m2 0h3m3 0h1m13 0h1m-91 1h5m7 0h2m2 0h9m4 0h10m2 0h5m2 0h3m1 0h8m1 0h3m2 0h3m1 0h1m5 0h1m8 0h1m-86 1h5m1 0h2m2 0h10m1 0h2m2 0h7m1 0h17m4 0h2m2 0h3m1 0h2m3 0h1m3 0h2m7 0h2m2 0h1m-82 1h29m1 0h2m3 0h11m3 0h8m3 0h2m6 0h2m-69 1h2m2 0h8m1 0h10m2 0h3m1 0h3m2 0h4m1 0h6m3 0h5m3 0h1m2 0h2m3 0h2m-68 1h2m1 0h2m1 0h8m2 0h1m5 0h3m5 0h19m1 0h2m6 0h2m6 0h1m-67 1h15m2 0h2m3 0h3m4 0h7m3 0h13m2 0h3m2 0h2m-60 1h2m2 0h4m4 0h2m2 0h4m2 0h5m1 0h3m2 0h2m3 0h4m1 0h4m1 0h4m1 0h4m2 0h2m-66 1h5m1 0h2m2 0h2m1 0h1m2 0h3m1 0h2m1 0h2m2 0h5m2 0h2m2 0h2m3 0h5m8 0h2m2 0h4m-64 1h5m1 0h2m4 0h2m2 0h3m1 0h2m1 0h10m1 0h7m2 0h2m4 0h2m5 0h2m2 0h4m-64 1h2m1 0h2m1 0h2m1 0h5m4 0h1m2 0h1m1 0h19m1 0h1m5 0h2m4 0h2m6 0h1m3 0h1m-67 1h1m1 0h2m4 0h6m6 0h1m2 0h1m3 0h7m1 0h6m1 0h1m11 0h2m7 0h1m2 0h1m-67 1h2m1 0h1m1 0h6m1 0h5m2 0h1m8 0h6m2 0h5m1 0h4m17 0h2m-65 1h11m1 0h7m2 0h2m4 0h12m1 0h4m25 0h1m-70 1h2m2 0h2m2 0h2m2 0h4m1 0h2m2 0h3m3 0h1m1 0h4m2 0h4m3 0h1m3 0h2m21 0h1m-71 1h5m4 0h1m4 0h3m1 0h2m3 0h2m6 0h2m3 0h1m1 0h2m2 0h3m2 0h1m-48 1h5m1 0h1m2 0h2m5 0h1m3 0h2m2 0h2m3 0h1m6 0h1m3 0h4m-39 1h2m2 0h2m8 0h3m3 0h2m1 0h2m2 0h1m5 0h1m-34 1h7m2 0h1m12 0h2m2 0h2m5 0h1m4 0h1m-41 1h6m5 0h1m17 0h1m-29 1h1m3 0h1m0 1h2m-1 1h2m1 0h1m-13 1h3m-2 1h2m25 1h2m-30 1h1m25 0h1m1 0h2m-5 1h2m-2 1h2m3 4h1" stroke="#ff0000"/>
<path d="M1009 340.5h2m-2 1h3m-2 1h2m-6 1h2m-3 1h4m-6 1h6m-6 1h4m-1 1h2m-2 1h2m1 0h2m-3 1h3m-19 1h2m14 0h2m-18 1h2m8 0h2m1 0h4m-9 1h4m1 0h5m-10 1h2m1 0h2m4 0h2m-20 1h2m5 0h3m1 0h5m2 0h2m-25 1h2m3 0h2m2 0h2m1 0h3m1 0h7m-23 1h2m3 0h2m2 0h2m7 0h5m-23 1h2m13 0h2m1 0h5m-11 1h8m-8 1h10m-9 1h5m2 0h2m-9 1h5m3 0h3m-26 1h4m11 0h2m1 0h2m3 0h4m-27 1h9m2 0h6m2 0h3m2 0h2m-22 1h5m2 0h4m4 0h7m-19 1h2m4 0h4m2 0h2m1 0h4m-22 1h2m7 0h4m2 0h2m1 0h3m-34 1h2m11 0h2m5 0h2m6 0h2m1 0h5m-36 1h3m7 0h2m5 0h2m1 0h6m2 0h7m-34 1h2m7 0h2m5 0h2m3 0h4m4 0h4m-13 1h4m3 0h6m-19 1h2m3 0h10m2 0h2m-22 1h2m1 0h2m2 0h3m3 0h5m2 0h2m-22 1h2m1 0h3m1 0h2m1 0h2m4 0h2m1 0h4m-23 1h2m2 0h2m4 0h2m4 0h2m1 0h4m-11 1h2m1 0h3m2 0h2m-21 1h2m9 0h5m2 0h4m-22 1h2m3 0h2m4 0h5m2 0h4m-17 1h2m1 0h2m4 0h2m1 0h4m-17 1h6m3 0h2m2 0h3m-16 1h4m5 0h2m3 0h2m-15 1h2m11 0h2m-15 1h2m11 0h2m-8 1h2m4 0h2m-14 1h2m2 0h4m1 0h2m1 0h2m-14 1h2m2 0h4m1 0h2m1 0h2m-16 1h2m12 0h2m-16 1h2m1 0h2m-2 1h2m-8 2h2m-2 1h2" stroke="#ffd6d6"/>
<path d="M1139 102.5h2m-2 1h2m4 0h2m-2 1h1m1 0h1m-2 1h2m50 0h2m-20 1h2m16 0h2m-79 1h2m41 0h2m7 0h2m5 0h2m-61 1h2m3 0h2m22 0h2m12 0h2m7 0h2m37 0h2m-97 1h2m7 0h2m22 0h2m1 0h2m1 0h2m21 0h1m1 0h1m17 0h2m5 0h2m4 0h2m36 0h2m-135 1h2m18 0h2m17 0h4m16 0h2m1 0h1m3 0h2m8 0h2m3 0h1m2 0h1m1 0h2m1 0h2m42 0h2m-115 1h2m10 0h2m2 0h2m21 0h2m2 0h2m1 0h1m1 0h1m7 0h2m3 0h4m1 0h2m-56 1h2m7 0h2m1 0h2m4 0h4m8 0h2m3 0h2m65 0h2m8 0h2m-124 1h2m20 0h2m4 0h6m6 0h2m63 0h1m1 0h1m4 0h2m8 0h2m3 0h2m-129 1h2m21 0h2m7 0h2m16 0h2m1 0h2m42 0h2m6 0h1m1 0h1m1 0h2m16 0h2m-122 1h2m2 0h2m10 0h4m23 0h2m1 0h2m5 0h2m33 0h3m1 0h1m6 0h2m1 0h2m-106 1h4m2 0h2m3 0h2m3 0h2m2 0h2m1 0h2m30 0h2m28 0h2m3 0h2m6 0h2m1 0h2m-113 1h2m8 0h1m1 0h1m8 0h2m3 0h2m5 0h2m7 0h4m7 0h2m8 0h2m19 0h2m5 0h1m1 0h1m1 0h2m2 0h2m5 0h3m1 0h1m2 0h1m1 0h1m-127 1h2m9 0h2m6 0h2m1 0h2m8 0h2m12 0h2m2 0h2m1 0h4m7 0h1m1 0h1m3 0h2m2 0h2m10 0h2m7 0h2m7 0h1m9 0h2m1 0h2m1 0h2m2 0h1m1 0h3m-129 1h2m30 0h2m12 0h2m2 0h2m13 0h2m3 0h2m14 0h4m12 0h2m6 0h2m3 0h2m2 0h2m6 0h2m-110 1h2m12 0h2m6 0h2m2 0h2m8 0h2m20 0h4m7 0h2m9 0h2m4 0h1m1 0h1m7 0h1m1 0h1m1 0h2m2 0h1m2 0h4m-121 1h2m7 0h1m1 0h1m12 0h2m6 0h2m1 0h1m1 0h1m8 0h2m20 0h4m18 0h2m4 0h1m1 0h1m1 0h2m5 0h2m1 0h1m5 0h1m2 0h2m13 0h2m-136 1h2m7 0h1m1 0h1m7 0h2m11 0h2m1 0h2m2 0h2m13 0h2m3 0h1m1 0h1m12 0h2m23 0h1m1 0h7m2 0h1m4 0h2m1 0h1m15 0h2m-133 1h2m14 0h2m11 0h2m5 0h2m8 0h2m3 0h2m3 0h1m2 0h1m11 0h4m13 0h4m1 0h2m2 0h1m5 0h1m1 0h1m-122 1h4m4 0h2m6 0h2m3 0h2m39 0h2m10 0h2m13 0h2m4 0h2m6 0h1m2 0h2m1 0h2m6 0h1m1 0h5m2 0h2m2 0h4m-134 1h4m4 0h2m51 0h2m25 0h4m1 0h4m6 0h1m7 0h2m5 0h2m2 0h2m2 0h2m2 0h3m1 0h1m-118 1h2m2 0h1m1 0h1m4 0h2m19 0h2m10 0h2m15 0h2m8 0h4m1 0h2m5 0h2m1 0h1m6 0h3m1 0h1m4 0h2m1 0h1m1 0h1m1 0h3m4 0h2m4 0h2m-131 1h2m2 0h2m1 0h2m3 0h4m2 0h2m9 0h2m13 0h4m12 0h1m2 0h2m3 0h2m15 0h2m1 0h1m2 0h2m6 0h1m2 0h3m7 0h1m1 0h1m1 0h3m10 0h2m-133 1h2m10 0h2m2 0h2m13 0h2m2 0h2m4 0h2m5 0h2m12 0h1m2 0h2m4 0h2m8 0h2m4 0h2m1 0h1m1 0h2m3 0h1m1 0h1m4 0h1m8 0h1m3 0h2m-119 1h4m2 0h2m2 0h4m15 0h2m4 0h2m9 0h2m4 0h2m3 0h2m1 0h1m1 0h1m8 0h4m1 0h2m3 0h2m5 0h2m3 0h1m1 0h1m3 0h1m3 0h1m5 0h1m4 0h1m1 0h2m1 0h1m-114 1h2m2 0h2m5 0h2m3 0h1m1 0h1m4 0h2m8 0h2m11 0h3m1 0h3m2 0h2m10 0h2m1 0h2m8 0h1m2 0h1m3 0h1m1 0h1m3 0h6m1 0h2m2 0h1m2 0h1m5 0h1m4 0h2m-124 1h2m13 0h2m3 0h1m1 0h1m5 0h2m2 0h2m3 0h2m3 0h2m8 0h1m2 0h1m12 0h2m14 0h1m6 0h1m5 0h2m3 0h1m2 0h1m1 0h2m1 0h2m4 0h1m1 0h2m2 0h2m-124 1h2m19 0h2m5 0h2m2 0h2m4 0h2m2 0h2m10 0h4m10 0h2m27 0h1m4 0h3m5 0h2m1 0h1m1 0h1m2 0h2m1 0h2m-170 1h2m46 0h4m4 0h2m10 0h2m15 0h2m1 0h2m13 0h2m37 0h2m4 0h3m6 0h1m1 0h3m6 0h2m-170 1h2m46 0h4m4 0h2m17 0h2m11 0h2m34 0h1m1 0h1m1 0h2m10 0h2m4 0h1m14 0h1m1 0h1m3 0h2m-98 1h2m2 0h2m24 0h1m1 0h1m1 0h2m10 0h2m5 0h1m1 0h1m1 0h2m4 0h2m6 0h1m2 0h1m11 0h1m1 0h1m1 0h1m1 0h1m3 0h2m-133 1h2m33 0h2m28 0h1m1 0h1m1 0h2m3 0h2m5 0h2m2 0h2m3 0h2m6 0h1m2 0h1m5 0h1m3 0h1m1 0h1m9 0h1m-124 1h2m4 0h2m66 0h2m2 0h2m5 0h2m1 0h1m2 0h1m7 0h1m1 0h1m1 0h2m2 0h1m3 0h1m1 0h1m1 0h1m7 0h1m-94 1h2m25 0h4m17 0h2m8 0h1m1 0h1m10 0h3m6 0h1m2 0h4m4 0h2m1 0h2m-120 1h2m22 0h2m12 0h2m5 0h4m3 0h2m1 0h1m35 0h1m3 0h2m1 0h4m1 0h4m2 0h2m7 0h2m-108 1h2m24 0h4m3 0h4m5 0h2m5 0h2m6 0h2m3 0h2m4 0h2m8 0h1m4 0h1m2 0h1m1 0h1m2 0h4m1 0h2m14 0h2m-114 1h2m15 0h2m5 0h2m2 0h2m19 0h2m6 0h2m3 0h2m4 0h2m8 0h2m4 0h1m1 0h1m1 0h5m3 0h2m14 0h2m-119 1h2m1 0h2m17 0h2m5 0h2m15 0h2m25 0h2m6 0h2m3 0h4m4 0h2m6 0h2m-104 1h2m1 0h2m41 0h2m25 0h2m6 0h2m3 0h2m1 0h2m5 0h1m1 0h1m3 0h2m-95 1h2m27 0h2m14 0h2m1 0h2m11 0h2m9 0h2m6 0h4m4 0h1m1 0h1m-91 1h2m27 0h2m14 0h2m1 0h2m11 0h2m9 0h2m7 0h1m1 0h1m5 0h2m-21 1h2m9 0h2m3 0h4m-68 1h2m11 0h2m29 0h6m10 0h2m4 0h2m-68 1h2m11 0h2m29 0h4m12 0h2m2 0h2m1 0h2m5 0h2m-9 1h2m5 0h2m-105 1h2m92 0h2m-96 1h2m92 0h2m-117 1h2m-2 1h2m96 0h2m-2 1h2m-122 2h2m82 0h2m54 0h2m-142 1h2m82 0h2m54 0h2m-145 1h2m64 0h2m-68 1h2m64 0h2m-16 1h2m-2 1h2m61 0h2m-73 1h2m69 0h2m-73 1h2m93 0h2m-22 1h2m18 0h2m-22 1h2m-108 1h2m1 0h2m30 0h2m30 0h2m37 0h2m-108 1h2m1 0h2m30 0h2m30 0h2m37 0h2m48 1h2m-168 1h2m21 0h2m98 0h2m41 0h2m-168 1h2m7 0h2m12 0h2m98 0h2m-116 1h2m154 0h2m-2 1h2m-125 1h2m101 0h2m-105 1h2m101 0h2m-8 1h2m-129 1h2m125 0h2m15 0h2m-146 1h2m121 0h2m19 0h2m-23 1h2m-19 1h2m-111 1h2m107 0h2m-111 1h2m6 2h2m-2 1h2m148 0h2m-2 1h2m-159 1h2m-2 1h2m5 3h2m127 0h2m-131 1h2m127 0h2m-49 2h2m24 0h2m-28 1h2m24 0h2m-44 2h2m13 0h2m-18 1h1m1 0h1m13 0h2m-150 1h2m42 0h2m47 0h2m37 0h2m31 0h2m12 0h2m-181 1h2m42 0h2m47 0h2m70 0h2m12 0h2m31 0h2m-2 1h2m-124 1h2m116 0h2m14 0h2m-136 1h2m97 0h2m17 0h2m14 0h2m-37 1h2m-30 1h2m-2 1h2m-86 2h2m-2 1h2m88 0h2m-2 1h2m-32 2h2m-45 1h2m36 0h2m3 0h2m71 0h2m2 0h2m-122 1h2m36 0h2m76 0h2m2 0h2m-96 1h2m-2 1h2m12 0h2m-2 1h2m-91 1h2m34 0h2m65 0h2m-105 1h2m34 0h2m65 0h2m-96 1h2m67 0h2m-71 1h2m67 0h2m81 3h2m-2 1h2m-91 1h2m-2 1h2m6 3h2m-2 1h2m24 0h2m28 0h2m31 0h2m-162 1h2m46 0h2m47 0h2m1 0h2m25 0h2m20 0h2m9 0h2m-162 1h2m46 0h2m50 0h2m47 0h2m-138 1h2m42 0h2m-46 1h2m42 0h2m11 0h2m-2 1h2m66 7h2m-2 1h2m23 0h2m-2 1h2m-54 5h2m-2 1h2m-110 3h2m-2 1h2m99 3h2m20 0h2m-24 1h2m5 0h2m13 0h2m-17 1h2m21 0h2m-34 1h2m30 0h2m-104 1h2m68 0h2m-139 1h2m65 0h2m89 0h2m-160 1h2m156 0h2m-93 1h2m85 0h2m5 0h2m-96 1h2m78 0h2m5 0h2m5 0h2m7 0h2m-77 1h2m50 0h2m3 0h2m4 0h2m10 0h1m1 0h1m-78 1h2m43 0h4m8 0h1m1 0h1m3 0h2m11 0h2m-33 1h4m7 0h4m10 0h2m-22 1h2m4 0h2m12 0h2m-22 1h2m26 2h2m-46 1h2m42 0h2m-145 1h2m97 0h2m1 0h2m23 0h2m11 0h2m-148 1h2m4 0h2m100 0h2m23 0h2m11 0h2m-148 1h2m12 0h2m88 0h2m18 0h2m-112 1h2m88 0h2m18 0h2m16 0h2m-165 1h2m41 0h2m60 0h2m27 0h2m27 0h2m-181 1h2m14 0h2m41 0h2m39 0h2m19 0h2m27 0h2m-152 1h2m42 0h2m54 0h2m4 0h2m15 0h2m25 0h2m26 0h2m-144 1h2m6 0h2m60 0h2m15 0h2m25 0h2m26 0h2m-167 1h2m7 0h2m12 0h2m20 0h2m78 0h2m2 0h2m1 0h1m1 0h1m-135 1h2m7 0h2m23 0h2m9 0h2m23 0h2m24 0h2m19 0h2m6 0h2m2 0h2m1 0h1m1 0h1m-111 1h2m8 0h2m34 0h2m24 0h2m16 0h2m23 0h2m-117 1h2m88 0h2m1 0h2m20 0h2m4 0h2m1 0h2m-90 1h2m46 0h2m35 0h2m1 0h2m-90 1h2m46 0h2m15 0h2m6 0h2m12 0h2m-66 1h2m18 0h2m4 0h2m14 0h2m6 0h2m12 0h2m-144 1h2m76 0h2m18 0h2m4 0h2m16 0h4m4 0h2m10 0h2m-144 1h2m32 0h2m55 0h2m29 0h4m4 0h2m10 0h2m-119 1h1m1 0h1m6 0h2m1 0h2m20 0h2m30 0h2m8 0h2m8 0h4m3 0h1m1 0h1m1 0h2m-100 1h1m2 0h1m9 0h2m1 0h2m7 0h2m8 0h2m39 0h1m1 0h1m2 0h2m4 0h2m5 0h1m1 0h1m1 0h2m13 0h2m-153 1h2m27 0h2m23 0h2m7 0h2m33 0h2m7 0h2m5 0h4m33 0h2m-153 1h2m27 0h2m7 0h2m10 0h2m19 0h2m6 0h2m17 0h2m1 0h2m4 0h2m3 0h2m2 0h2m1 0h2m2 0h6m13 0h2m-125 1h2m22 0h2m5 0h2m19 0h2m6 0h2m31 0h2m4 0h2m3 0h3m1 0h1m14 0h2m-115 1h2m12 0h2m4 0h2m23 0h2m4 0h2m9 0h2m7 0h1m1 0h1m7 0h2m6 0h2m6 0h2m-131 1h2m20 0h2m8 0h2m13 0h2m3 0h2m10 0h2m6 0h2m3 0h2m4 0h2m9 0h2m7 0h2m22 0h2m17 0h2m-149 1h1m1 0h1m4 0h2m8 0h2m1 0h2m5 0h2m19 0h2m15 0h2m6 0h2m22 0h2m6 0h2m7 0h2m2 0h2m3 0h2m3 0h2m17 0h2m-149 1h2m5 0h2m11 0h2m5 0h2m5 0h2m24 0h2m35 0h2m19 0h2m3 0h2m14 0h1m1 0h1m-166 1h2m31 0h2m6 0h1m2 0h1m12 0h1m1 0h1m7 0h2m15 0h2m26 0h2m9 0h2m3 0h1m1 0h1m6 0h2m13 0h2m9 0h1m1 0h1m-166 1h2m31 0h2m4 0h2m1 0h1m1 0h1m12 0h2m2 0h2m4 0h2m35 0h2m5 0h1m1 0h1m8 0h1m14 0h1m2 0h1m11 0h1m1 0h1m-130 1h2m12 0h2m20 0h2m5 0h1m1 0h1m33 0h2m5 0h2m9 0h1m2 0h1m2 0h2m8 0h1m1 0h1m12 0h2m-135 1h2m3 0h2m5 0h2m34 0h1m1 0h1m36 0h2m4 0h2m9 0h4m6 0h4m7 0h2m-148 1h2m14 0h2m3 0h2m10 0h2m66 0h2m5 0h2m2 0h4m3 0h2m6 0h2m6 0h6m5 0h2m-148 1h2m7 0h2m5 0h2m19 0h1m1 0h1m6 0h2m53 0h2m9 0h2m5 0h2m20 0h1m19 0h2m-154 1h2m6 0h2m18 0h1m1 0h1m6 0h2m44 0h2m20 0h2m6 0h2m3 0h1m1 0h3m6 0h1m2 0h1m19 0h2m2 0h2m-169 1h2m17 0h2m17 0h2m19 0h2m24 0h2m29 0h2m1 0h2m3 0h4m1 0h1m1 0h1m2 0h1m5 0h2m25 0h2m-169 1h2m26 0h1m1 0h1m7 0h2m16 0h2m1 0h1m1 0h1m15 0h2m13 0h4m12 0h1m1 0h1m6 0h3m2 0h1m3 0h1m1 0h1m3 0h1m1 0h1m4 0h2m-114 1h1m2 0h1m5 0h2m1 0h2m15 0h2m2 0h2m15 0h2m6 0h2m2 0h2m1 0h2m12 0h3m1 0h1m6 0h3m2 0h1m2 0h4m23 0h2m-155 1h1m1 0h1m18 0h2m5 0h2m4 0h3m1 0h1m23 0h2m8 0h2m4 0h2m10 0h4m13 0h2m4 0h2m5 0h2m3 0h1m1 0h1m12 0h2m11 0h2m-155 1h1m1 0h1m18 0h2m11 0h4m2 0h4m3 0h2m1 0h2m10 0h2m8 0h2m1 0h2m9 0h2m4 0h2m19 0h2m7 0h2m1 0h2m4 0h1m2 0h1m-137 1h2m42 0h1m1 0h1m2 0h2m1 0h2m23 0h1m1 0h1m8 0h2m19 0h2m3 0h2m7 0h1m2 0h1m6 0h1m4 0h1m18 0h2m-159 1h2m13 0h2m4 0h2m22 0h2m13 0h2m2 0h2m5 0h2m5 0h4m27 0h2m3 0h4m5 0h1m2 0h1m1 0h2m1 0h3m2 0h1m1 0h1m1 0h4m13 0h2m-144 1h2m4 0h2m37 0h6m4 0h1m1 0h1m20 0h2m6 0h1m1 0h1m3 0h2m5 0h3m1 0h1m5 0h2m2 0h3m1 0h2m1 0h1m4 0h4m-150 1h2m18 0h2m14 0h2m11 0h2m10 0h2m5 0h1m1 0h1m5 0h2m2 0h2m1 0h2m4 0h2m8 0h2m6 0h1m1 0h1m3 0h4m3 0h2m6 0h1m1 0h1m5 0h2m2 0h4m4 0h4m-152 1h2m18 0h2m13 0h1m1 0h1m11 0h2m10 0h2m6 0h4m7 0h2m1 0h2m1 0h3m1 0h1m14 0h2m2 0h2m4 0h2m8 0h1m1 0h1m2 0h1m1 0h1m5 0h3m2 0h1m3 0h1m1 0h3m-117 1h4m5 0h2m25 0h2m5 0h2m2 0h1m2 0h4m1 0h1m1 0h2m2 0h2m4 0h2m1 0h2m2 0h2m10 0h2m1 0h2m1 0h1m2 0h2m1 0h1m3 0h1m2 0h3m4 0h2m1 0h1m1 0h1m1 0h2m3 0h2m-155 1h2m29 0h2m5 0h2m7 0h2m6 0h2m1 0h2m5 0h1m4 0h2m4 0h1m2 0h1m3 0h2m1 0h2m1 0h1m5 0h1m2 0h2m4 0h4m3 0h2m2 0h2m4 0h1m2 0h5m2 0h1m8 0h2m2 0h1m1 0h1m1 0h2m3 0h2m-155 1h2m38 0h4m2 0h1m1 0h1m6 0h2m4 0h1m1 0h1m1 0h1m3 0h3m3 0h2m12 0h1m1 0h1m3 0h1m2 0h2m2 0h6m3 0h2m5 0h2m5 0h4m1 0h3m1 0h1m4 0h1m1 0h1m-118 1h2m1 0h1m1 0h1m2 0h2m6 0h3m1 0h1m1 0h4m3 0h2m5 0h2m6 0h1m1 0h1m1 0h2m1 0h1m1 0h1m3 0h2m2 0h2m9 0h2m4 0h2m3 0h2m3 0h2m3 0h1m1 0h1m1 0h1m1 0h1m1 0h4m1 0h2m3 0h2m2 0h2m-117 1h2m1 0h1m1 0h1m2 0h2m9 0h2m8 0h2m2 0h1m2 0h1m7 0h1m1 0h1m3 0h1m2 0h1m3 0h2m2 0h2m1 0h2m5 0h2m10 0h2m3 0h2m3 0h2m3 0h4m1 0h2m11 0h2m-134 1h2m6 0h2m13 0h2m4 0h2m4 0h1m1 0h5m6 0h1m1 0h1m2 0h1m2 0h1m4 0h1m4 0h1m1 0h1m2 0h1m1 0h1m8 0h4m6 0h2m5 0h2m15 0h2m14 0h2m-134 1h2m6 0h2m5 0h2m3 0h2m1 0h2m10 0h1m2 0h2m1 0h1m1 0h1m4 0h2m3 0h1m7 0h1m6 0h2m3 0h3m1 0h1m1 0h1m2 0h4m1 0h2m3 0h1m1 0h1m1 0h2m1 0h2m20 0h4m2 0h2m5 0h2m-136 1h2m2 0h4m7 0h2m1 0h4m7 0h2m5 0h2m3 0h1m3 0h2m2 0h1m2 0h2m1 0h1m4 0h1m5 0h4m4 0h1m1 0h2m1 0h1m8 0h2m3 0h2m1 0h2m16 0h2m1 0h2m2 0h4m1 0h2m6 0h2m-136 1h2m2 0h4m10 0h2m5 0h1m2 0h1m1 0h1m8 0h1m1 0h1m2 0h3m2 0h1m11 0h1m3 0h1m2 0h2m3 0h3m1 0h1m5 0h1m1 0h1m1 0h1m1 0h1m6 0h4m7 0h2m2 0h2m4 0h2m7 0h2m-104 1h1m4 0h2m2 0h1m5 0h1m4 0h1m24 0h1m3 0h2m4 0h1m1 0h3m2 0h3m3 0h8m7 0h2m1 0h1m1 0h1m1 0h5m1 0h3m2 0h2m-123 1h2m4 0h1m1 0h3m6 0h1m1 0h2m1 0h2m2 0h1m4 0h2m3 0h1m10 0h1m2 0h2m6 0h1m8 0h1m4 0h1m4 0h1m1 0h1m2 0h1m3 0h6m3 0h2m7 0h4m4 0h2m7 0h1m1 0h1m5 0h2m-131 1h2m6 0h3m2 0h2m2 0h2m7 0h1m1 0h1m8 0h1m9 0h1m2 0h1m2 0h2m14 0h1m3 0h1m3 0h1m2 0h4m1 0h1m2 0h2m3 0h4m13 0h1m1 0h1m5 0h1m3 0h2m5 0h2m-132 1h2m1 0h4m3 0h1m1 0h1m1 0h2m2 0h1m1 0h1m5 0h3m1 0h3m1 0h1m9 0h1m6 0h1m2 0h4m4 0h3m4 0h1m1 0h1m5 0h1m3 0h1m3 0h1m2 0h3m1 0h1m2 0h1m4 0h2m1 0h1m7 0h1m3 0h2m5 0h2m-124 1h2m1 0h1m4 0h1m1 0h1m4 0h1m4 0h2m1 0h4m1 0h1m4 0h1m5 0h3m8 0h2m2 0h1m1 0h1m6 0h1m5 0h1m2 0h1m5 0h2m1 0h1m1 0h2m2 0h1m4 0h1m2 0h1m2 0h4m3 0h1m6 0h4m4 0h4m-125 1h2m5 0h4m1 0h1m5 0h4m1 0h3m1 0h1m1 0h1m5 0h3m2 0h2m4 0h1m4 0h5m4 0h2m8 0h1m3 0h2m6 0h1m2 0h1m3 0h1m2 0h2m1 0h2m2 0h2m2 0h1m1 0h1m9 0h2m4 0h2m-131 1h1m1 0h1m3 0h4m7 0h1m8 0h2m2 0h1m6 0h1m2 0h1m4 0h1m5 0h1m2 0h2m8 0h2m2 0h1m10 0h1m1 0h1m9 0h2m2 0h1m4 0h2m6 0h2m1 0h2m6 0h1m1 0h1m8 0h2m7 0h2m-141 1h1m1 0h1m1 0h2m7 0h5m6 0h1m8 0h1m4 0h1m1 0h1m1 0h1m7 0h1m3 0h1m9 0h1m6 0h1m6 0h1m2 0h1m4 0h1m8 0h3m7 0h2m1 0h2m9 0h1m1 0h1m8 0h2m5 0h4m-140 1h2m1 0h2m8 0h1m1 0h1m12 0h1m3 0h2m6 0h2m16 0h1m7 0h2m5 0h1m2 0h1m8 0h1m3 0h1m3 0h2m1 0h1m7 0h2m9 0h2m19 0h2m-147 1h2m3 0h2m2 0h1m1 0h1m2 0h2m1 0h3m5 0h2m8 0h1m1 0h1m1 0h1m1 0h3m6 0h1m18 0h1m1 0h2m9 0h1m8 0h2m8 0h1m3 0h2m1 0h1m2 0h1m8 0h2m2 0h2m4 0h2m-132 1h2m3 0h2m3 0h2m2 0h5m6 0h1m1 0h1m6 0h1m1 0h4m1 0h1m8 0h1m2 0h1m24 0h1m2 0h1m6 0h1m12 0h1m3 0h2m1 0h1m1 0h1m9 0h2m5 0h3m1 0h1m9 0h2m-139 1h4m1 0h3m4 0h3m1 0h1m1 0h1m2 0h1m1 0h1m4 0h1m8 0h1m9 0h1m1 0h1m8 0h1m15 0h1m3 0h1m4 0h1m1 0h1m4 0h1m2 0h3m1 0h1m1 0h2m1 0h1m3 0h2m7 0h2m6 0h4m10 0h2m-141 1h1m3 0h3m1 0h2m13 0h1m1 0h3m2 0h1m5 0h1m1 0h1m1 0h2m7 0h1m6 0h1m9 0h1m2 0h1m6 0h1m3 0h1m11 0h1m3 0h1m1 0h1m1 0h1m7 0h2m7 0h2m2 0h2m10 0h2m1 0h2m-139 1h1m3 0h1m9 0h3m2 0h1m4 0h1m2 0h1m9 0h1m4 0h2m1 0h1m6 0h1m12 0h1m5 0h1m16 0h1m3 0h2m4 0h5m19 0h2m9 0h1m1 0h1m1 0h2m-139 1h1m1 0h1m2 0h3m1 0h2m1 0h1m1 0h1m4 0h1m13 0h1m5 0h1m6 0h2m5 0h1m11 0h1m10 0h1m1 0h1m13 0h2m5 0h1m2 0h1m9 0h2m19 0h2m-134 1h3m2 0h1m13 0h2m1 0h1m2 0h1m1 0h1m23 0h1m3 0h2m5 0h1m8 0h1m2 0h1m9 0h2m6 0h1m2 0h2m14 0h2m17 0h2m-130 1h1m2 0h1m15 0h2m1 0h1m1 0h1m22 0h1m12 0h1m21 0h1m10 0h1m4 0h1m2 0h1m21 0h2m3 0h2m7 0h2m-136 1h3m7 0h1m6 0h5m32 0h2m7 0h1m7 0h1m8 0h1m11 0h1m1 0h2m24 0h2m5 0h2m5 0h2m-136 1h2m5 0h2m5 0h1m1 0h2m10 0h2m24 0h2m7 0h1m7 0h1m8 0h1m2 0h1m1 0h1m8 0h2m1 0h1m3 0h3m1 0h1m3 0h2m4 0h2m1 0h4m5 0h2m-132 1h1m1 0h3m1 0h1m7 0h1m3 0h1m4 0h1m13 0h1m7 0h2m42 0h1m8 0h1m1 0h1m5 0h1m1 0h1m3 0h2m4 0h2m1 0h4m-126 1h1m2 0h4m2 0h1m2 0h1m2 0h1m2 0h1m5 0h1m2 0h1m1 0h1m3 0h1m12 0h1m8 0h1m16 0h1m1 0h1m4 0h1m10 0h1m3 0h2m2 0h5m2 0h2m22 0h2m-132 1h1m2 0h2m13 0h1m6 0h1m3 0h1m4 0h1m14 0h1m4 0h1m11 0h2m5 0h2m2 0h1m2 0h1m15 0h1m5 0h2m26 0h2m-132 1h1m24 0h1m19 0h3m13 0h1m3 0h2m12 0h2m2 0h3m1 0h1m2 0h2m45 0h2m-139 1h1m4 0h1m5 0h1m1 0h1m27 0h3m1 0h2m10 0h2m20 0h1m1 0h5m1 0h1m2 0h1m1 0h4m1 0h1m2 0h1m36 0h2m-140 1h1m41 0h1m9 0h1m27 0h2m5 0h1m4 0h5m1 0h2m1 0h1m17 0h2m-122 1h1m1 0h2m4 0h1m9 0h2m12 0h1m7 0h1m12 0h1m13 0h1m14 0h1m2 0h1m5 0h1m1 0h1m26 0h2m-122 1h1m15 0h1m2 0h1m5 0h1m3 0h1m4 0h2m3 0h1m1 0h1m5 0h1m5 0h1m27 0h1m4 0h1m4 0h1m1 0h1m-86 1h1m6 0h1m3 0h1m4 0h1m1 0h1m2 0h1m15 0h1m17 0h1m3 0h2m6 0h4m1 0h1m3 0h1m4 0h1m2 0h2m29 0h2m-105 1h1m2 0h3m2 0h3m20 0h1m6 0h4m5 0h1m2 0h3m5 0h3m2 0h1m2 0h2m2 0h4m25 0h2m1 0h1m1 0h1m-124 1h1m4 0h1m3 0h1m13 0h1m4 0h2m18 0h2m2 0h2m2 0h2m1 0h3m1 0h4m8 0h1m4 0h2m1 0h1m2 0h1m1 0h5m25 0h2m1 0h2m-124 1h1m2 0h5m3 0h1m28 0h2m4 0h1m5 0h1m5 0h1m2 0h2m1 0h1m2 0h2m5 0h1m17 0h1m1 0h1m-95 1h1m2 0h2m5 0h2m5 0h1m5 0h2m11 0h1m10 0h1m2 0h1m7 0h1m3 0h3m6 0h1m12 0h1m1 0h1m1 0h1m3 0h1m1 0h1m29 0h2m-125 1h5m4 0h1m1 0h1m5 0h2m2 0h1m19 0h1m6 0h1m13 0h2m7 0h1m6 0h2m4 0h1m2 0h1m3 0h2m2 0h2m22 0h2m2 0h2m-126 1h1m3 0h2m13 0h1m21 0h2m6 0h1m12 0h1m4 0h1m1 0h1m4 0h1m10 0h1m2 0h1m7 0h2m22 0h2m-114 1h1m2 0h1m2 0h2m2 0h4m8 0h2m13 0h1m2 0h2m3 0h1m8 0h1m5 0h3m3 0h1m2 0h1m7 0h2m2 0h1m2 0h1m-93 1h1m11 0h2m1 0h2m19 0h1m8 0h1m2 0h2m2 0h2m3 0h1m9 0h2m2 0h1m5 0h1m1 0h2m1 0h2m1 0h2m2 0h1m2 0h1m-92 1h1m12 0h1m25 0h1m8 0h1m9 0h1m6 0h1m7 0h2m3 0h2m1 0h4m1 0h2m2 0h2m-93 1h1m1 0h1m4 0h2m17 0h1m4 0h1m6 0h2m3 0h1m6 0h1m2 0h2m4 0h1m5 0h7m2 0h1m1 0h1m7 0h2m1 0h2m2 0h2m-93 1h1m7 0h1m1 0h2m6 0h2m4 0h1m6 0h1m6 0h1m1 0h1m1 0h1m7 0h3m6 0h5m6 0h3m1 0h1m10 0h4m-84 1h1m1 0h3m18 0h1m7 0h1m4 0h1m3 0h1m3 0h5m6 0h1m3 0h3m1 0h5m1 0h5m8 0h2m-82 1h2m15 0h1m4 0h2m3 0h1m1 0h2m3 0h1m3 0h1m5 0h1m2 0h1m6 0h2m3 0h1m1 0h4m1 0h2m1 0h1m1 0h1m6 0h2m-80 1h1m13 0h1m5 0h1m2 0h1m10 0h1m6 0h1m1 0h1m1 0h1m2 0h1m4 0h2m1 0h1m3 0h2m1 0h2m1 0h2m1 0h2m36 0h2m-116 1h1m3 0h3m4 0h3m11 0h2m12 0h1m1 0h1m10 0h1m9 0h1m4 0h2m36 0h2m7 0h2m-116 1h1m2 0h1m1 0h1m6 0h3m3 0h1m2 0h1m13 0h1m1 0h2m1 0h1m4 0h1m2 0h8m2 0h4m2 0h1m4 0h2m5 0h2m27 0h2m-105 1h2m6 0h1m4 0h5m15 0h1m1 0h2m2 0h1m2 0h4m2 0h4m4 0h3m3 0h1m4 0h2m5 0h2m-77 1h1m8 0h1m12 0h1m6 0h1m5 0h1m2 0h1m2 0h3m2 0h1m4 0h2m4 0h2m1 0h4m11 0h2m-75 1h1m6 0h2m6 0h1m11 0h3m5 0h2m2 0h1m2 0h2m1 0h2m3 0h2m3 0h2m16 0h2m-50 1h1m2 0h3m4 0h2m13 0h2m3 0h1m39 0h2m-94 1h2m4 0h1m2 0h2m11 0h1m3 0h1m3 0h2m1 0h1m9 0h4m5 0h1m1 0h3m35 0h2m-100 1h1m2 0h1m2 0h2m1 0h1m8 0h2m7 0h2m4 0h1m15 0h4m8 0h4m-63 1h2m5 0h1m1 0h2m3 0h2m2 0h1m1 0h1m2 0h2m4 0h1m2 0h1m5 0h2m10 0h1m1 0h1m8 0h2m-52 1h5m6 0h3m7 0h1m6 0h2m9 0h1m2 0h2m3 0h2m-60 1h2m8 0h7m5 0h2m2 0h3m2 0h2m1 0h4m1 0h2m6 0h1m1 0h1m1 0h4m3 0h2m39 0h2m-100 1h2m4 0h1m6 0h4m6 0h2m1 0h2m2 0h2m1 0h4m9 0h1m51 0h2m-103 1h2m1 0h2m1 0h1m2 0h5m4 0h2m30 0h2m-47 1h4m1 0h3m3 0h6m7 0h2m13 0h2m-46 1h2m3 0h4m3 0h1m1 0h1m3 0h4m6 0h2m14 0h2m17 0h2m-65 1h1m1 0h1m9 0h2m4 0h4m6 0h1m1 0h1m2 0h2m24 0h2m2 0h2m5 0h2m-71 1h1m1 0h1m3 0h4m7 0h4m7 0h2m2 0h2m20 0h2m2 0h2m9 0h2m4 0h2m-76 1h2m3 0h4m7 0h2m35 0h2m7 0h2m10 0h2m-42 1h2m26 0h2m-48 1h2m16 0h2m26 1h2m-2 1h2m-35 1h2m-2 1h2m-12 2h2m-2 1h2m-9 1h2m-2 1h2" stroke="#ff4545"/>
<path d="M1146 104.5h1m106 3h2m-2 1h2m-75 1h1m-28 1h2m25 0h2m17 0h2m-43 1h2m24 0h1m60 2h1m-73 1h2m70 0h1m-73 1h2m62 0h1m-1 1h2m-94 1h1m80 0h1m10 0h2m4 0h1m4 0h1m-61 1h1m36 0h2m6 0h2m13 0h1m-107 1h2m91 0h2m10 0h2m-20 1h1m5 0h2m2 0h1m7 0h2m-123 1h2m14 0h1m25 0h1m60 0h1m5 0h2m6 0h5m1 0h2m2 0h2m-129 1h2m14 0h1m49 0h1m39 0h1m10 0h4m2 0h1m3 0h2m-63 1h2m36 0h2m2 0h4m1 0h1m-17 1h2m5 0h6m1 0h1m-105 1h2m5 0h2m3 0h2m76 0h2m7 0h4m16 0h1m-120 1h2m6 0h1m3 0h2m76 0h2m7 0h1m1 0h4m2 0h1m3 0h1m-77 1h2m17 0h2m29 0h2m2 0h3m4 0h2m3 0h7m3 0h1m-116 1h2m42 0h2m12 0h2m29 0h1m2 0h3m3 0h4m2 0h3m1 0h3m-52 1h1m32 0h1m1 0h2m2 0h3m1 0h5m1 0h3m2 0h1m2 0h1m-96 1h1m31 0h1m31 0h2m5 0h1m1 0h3m6 0h1m2 0h2m1 0h2m1 0h5m-96 1h1m31 0h2m30 0h2m5 0h5m2 0h3m4 0h1m2 0h1m2 0h4m-24 1h5m1 0h4m3 0h5m4 0h1m-23 1h2m3 0h3m4 0h6m1 0h1m-34 1h1m12 0h2m2 0h4m2 0h5m2 0h2m1 0h2m2 0h1m-61 1h1m22 0h1m12 0h4m1 0h2m3 0h4m6 0h1m3 0h1m-61 1h1m32 0h2m3 0h2m2 0h3m3 0h2m5 0h2m-34 1h2m5 0h2m2 0h1m4 0h2m1 0h3m3 0h1m6 0h2m-117 1h2m81 0h1m6 0h2m6 0h6m-54 1h2m2 0h1m37 0h2m-44 1h2m39 0h4m4 0h1m-7 1h3m3 0h1m5 0h2m-9 1h2m3 0h4m-9 1h2m4 0h1m0 1h1m-8 1h1m3 2h2m-13 4h2m-2 1h2m-44 45h1m56 69h1m-19 1h1m-3 7h2m-2 1h2m-20 7h1m-1 1h1m-17 1h2m-80 3h2m-2 1h2m-10 3h1m92 0h1m-95 1h2m74 0h1m11 0h2m4 0h1m-96 1h2m79 0h2m6 0h2m-28 2h2m23 0h1m-108 1h2m80 0h1m8 1h2m-115 1h1m15 1h2m86 0h2m1 0h2m30 0h1m-123 1h2m14 0h1m70 0h1m2 0h2m30 0h1m-122 1h1m68 0h1m10 0h2m3 0h2m8 0h2m13 0h1m-85 1h1m53 0h2m14 0h1m-71 1h1m-33 2h1m100 0h2m2 0h2m-107 1h1m66 0h2m21 0h1m10 0h2m2 0h2m-53 1h2m11 0h2m21 0h1m1 0h2m-105 1h1m30 0h1m24 0h2m22 0h1m10 0h2m5 0h1m5 0h1m-106 1h2m79 0h1m10 0h2m17 0h2m-141 1h1m35 0h1m2 0h2m14 0h2m68 0h1m5 0h2m-133 1h1m54 0h2m20 0h2m52 0h2m-91 1h1m32 0h1m1 0h2m18 0h2m22 0h2m8 0h4m-38 1h2m22 0h2m8 0h2m1 0h1m-81 1h2m12 0h1m30 0h1m14 0h1m13 0h1m2 0h1m-78 1h2m4 0h1m4 0h2m32 0h1m14 0h2m4 0h1m3 0h2m-99 1h1m10 0h2m25 0h2m13 0h1m33 0h2m3 0h2m3 0h2m6 0h2m5 0h1m-102 1h2m25 0h2m7 0h2m4 0h1m38 0h2m2 0h1m5 0h2m11 0h1m-80 1h4m2 0h2m3 0h2m11 0h2m4 0h2m15 0h2m7 0h2m8 0h3m10 0h1m-99 1h1m10 0h2m2 0h1m3 0h3m3 0h2m16 0h1m5 0h2m15 0h2m6 0h2m10 0h1m6 0h1m-113 1h1m14 0h1m14 0h2m2 0h2m5 0h1m6 0h1m37 0h2m2 0h1m3 0h1m-95 1h1m19 0h2m8 0h2m2 0h2m2 0h2m1 0h1m5 0h2m37 0h2m19 0h2m-93 1h1m7 0h3m2 0h1m4 0h2m2 0h3m6 0h1m4 0h1m7 0h2m5 0h2m38 0h2m-100 1h2m5 0h2m4 0h1m1 0h3m3 0h2m2 0h7m2 0h2m6 0h2m5 0h1m1 0h2m11 0h1m-62 1h2m8 0h2m3 0h2m1 0h2m4 0h4m3 0h2m6 0h2m2 0h1m2 0h1m1 0h2m-60 1h2m2 0h2m3 0h3m6 0h1m1 0h2m3 0h2m1 0h11m1 0h3m1 0h2m3 0h2m3 0h1m3 0h2m2 0h1m3 0h1m25 0h2m7 0h2m-103 1h2m1 0h4m2 0h2m7 0h4m5 0h20m2 0h2m3 0h3m5 0h2m25 0h1m7 0h1m3 0h2m-114 1h1m10 0h1m2 0h1m2 0h2m2 0h3m2 0h3m1 0h2m1 0h2m3 0h2m1 0h2m2 0h6m1 0h8m3 0h2m1 0h4m1 0h1m1 0h2m32 0h5m3 0h1m-117 1h2m13 0h5m3 0h8m1 0h4m3 0h2m1 0h2m5 0h13m2 0h2m2 0h3m1 0h2m6 0h2m16 0h3m4 0h1m2 0h4m-112 1h2m2 0h1m7 0h1m2 0h4m7 0h1m2 0h2m1 0h5m1 0h6m7 0h4m3 0h4m1 0h1m4 0h2m1 0h3m2 0h2m1 0h2m5 0h2m9 0h4m4 0h2m-117 1h2m5 0h4m3 0h4m3 0h2m2 0h1m4 0h1m2 0h3m3 0h3m3 0h8m5 0h1m2 0h5m2 0h4m1 0h2m4 0h2m2 0h1m4 0h2m6 0h2m8 0h2m-108 1h2m5 0h2m6 0h5m4 0h1m5 0h1m1 0h5m3 0h2m4 0h2m1 0h4m5 0h4m2 0h4m2 0h2m1 0h3m2 0h6m4 0h3m15 0h1m-112 1h1m11 0h2m3 0h8m2 0h2m1 0h6m1 0h2m1 0h4m1 0h2m4 0h2m2 0h8m2 0h2m1 0h2m1 0h7m3 0h9m2 0h2m1 0h4m20 0h1m-120 1h1m7 0h4m5 0h6m1 0h8m1 0h4m1 0h1m3 0h7m1 0h3m1 0h9m2 0h2m1 0h2m1 0h5m2 0h2m1 0h4m2 0h7m3 0h2m2 0h2m16 0h1m5 0h2m-119 1h4m2 0h1m1 0h12m1 0h3m2 0h6m2 0h11m1 0h4m1 0h2m1 0h4m2 0h5m1 0h2m1 0h8m2 0h2m1 0h2m5 0h2m2 0h2m22 0h2m-126 1h1m9 0h4m3 0h7m2 0h1m3 0h1m5 0h4m1 0h18m4 0h9m1 0h8m2 0h8m1 0h2m5 0h2m-92 1h6m1 0h1m1 0h6m8 0h8m1 0h2m1 0h3m1 0h20m1 0h2m2 0h5m1 0h12m1 0h2m5 0h1m20 0h1m-119 1h3m4 0h1m3 0h2m1 0h1m1 0h4m1 0h2m3 0h2m2 0h9m1 0h1m1 0h8m3 0h13m1 0h3m1 0h4m3 0h4m1 0h2m5 0h1m2 0h1m-103 1h3m3 0h1m2 0h3m4 0h6m1 0h1m3 0h2m1 0h2m1 0h2m1 0h1m4 0h7m1 0h6m1 0h5m5 0h2m1 0h6m1 0h3m1 0h4m2 0h5m1 0h3m3 0h1m2 0h2m-104 1h3m3 0h2m8 0h2m1 0h4m1 0h2m2 0h8m1 0h4m4 0h6m2 0h11m3 0h3m1 0h5m1 0h3m1 0h5m2 0h3m2 0h4m5 0h2m29 0h1m-134 1h1m6 0h1m2 0h1m3 0h4m5 0h4m3 0h2m1 0h2m1 0h2m1 0h6m2 0h4m2 0h11m4 0h6m2 0h1m6 0h8m2 0h5m1 0h2m1 0h2m-101 1h2m1 0h6m2 0h5m4 0h2m1 0h1m1 0h23m1 0h3m2 0h5m4 0h5m1 0h2m1 0h9m2 0h6m1 0h2m2 0h7m-101 1h2m1 0h15m2 0h1m3 0h22m2 0h11m2 0h20m3 0h8m2 0h2m2 0h2m-102 1h2m5 0h7m1 0h6m5 0h32m2 0h7m1 0h7m1 0h8m2 0h8m3 0h1m2 0h2m-102 1h2m5 0h4m2 0h5m4 0h10m2 0h4m2 0h18m2 0h7m1 0h7m1 0h8m1 0h2m3 0h8m2 0h1m7 0h1m-107 1h1m5 0h7m1 0h2m2 0h4m1 0h8m2 0h3m3 0h5m2 0h42m1 0h7m2 0h1m4 0h2m1 0h1m-108 1h2m4 0h2m1 0h2m1 0h2m1 0h2m1 0h5m1 0h2m1 0h1m1 0h3m2 0h11m1 0h8m1 0h16m3 0h4m1 0h10m1 0h3m2 0h2m-98 1h2m2 0h9m1 0h3m1 0h6m1 0h3m2 0h3m1 0h14m1 0h4m1 0h11m2 0h5m2 0h2m1 0h2m1 0h7m9 0h3m-99 1h24m1 0h18m4 0h13m1 0h2m3 0h12m2 0h2m3 0h1m11 0h2m-99 1h4m1 0h5m3 0h27m7 0h9m2 0h20m7 0h1m4 0h1m4 0h1m1 0h2m-100 1h41m1 0h5m1 0h3m1 0h27m2 0h5m10 0h1m2 0h1m-101 1h1m2 0h4m1 0h9m2 0h12m1 0h7m1 0h8m1 0h3m1 0h13m1 0h13m2 0h2m1 0h3m3 0h1m-92 1h7m1 0h7m1 0h2m1 0h5m1 0h3m1 0h4m2 0h3m3 0h2m4 0h5m1 0h26m2 0h3m2 0h2m3 0h1m-92 1h7m1 0h6m2 0h2m1 0h4m3 0h2m1 0h15m1 0h17m2 0h2m2 0h6m6 0h3m2 0h3m-88 1h15m1 0h3m1 0h2m3 0h2m4 0h19m1 0h5m8 0h2m1 0h2m3 0h2m6 0h2m5 0h2m33 0h1m-122 1h4m1 0h3m1 0h13m1 0h4m2 0h15m1 0h2m2 0h2m2 0h2m6 0h1m4 0h7m2 0h3m5 0h2m1 0h1m-88 1h2m5 0h2m2 0h12m1 0h14m3 0h4m1 0h5m2 0h4m1 0h2m2 0h1m6 0h4m2 0h13m4 0h1m-93 1h2m3 0h4m2 0h5m2 0h4m2 0h10m2 0h10m1 0h2m1 0h7m1 0h3m4 0h5m5 0h2m1 0h5m3 0h1m5 0h1m-88 1h4m3 0h5m2 0h2m2 0h18m1 0h6m2 0h12m3 0h6m9 0h2m3 0h2m-87 1h3m2 0h5m1 0h7m1 0h21m2 0h6m2 0h11m6 0h1m1 0h4m7 0h2m3 0h2m-88 1h8m1 0h2m1 0h2m2 0h2m4 0h8m2 0h5m2 0h6m1 0h2m3 0h2m1 0h8m3 0h2m4 0h3m1 0h2m13 0h2m-91 1h11m6 0h18m2 0h7m1 0h2m2 0h2m2 0h2m2 0h5m1 0h3m2 0h2m4 0h2m13 0h2m-90 1h12m3 0h20m1 0h2m1 0h8m1 0h9m1 0h6m1 0h5m-71 1h1m1 0h4m2 0h12m1 0h2m3 0h4m1 0h5m4 0h2m1 0h6m1 0h2m2 0h4m1 0h5m10 0h1m-75 1h7m1 0h1m2 0h6m2 0h4m1 0h6m1 0h4m3 0h1m3 0h7m4 0h5m14 0h1m1 0h2m-76 1h4m1 0h1m3 0h18m1 0h3m2 0h2m2 0h3m1 0h3m1 0h3m5 0h6m2 0h2m9 0h1m11 0h2m-86 1h6m2 0h15m2 0h3m2 0h3m1 0h1m2 0h3m1 0h3m1 0h5m1 0h2m4 0h3m2 0h3m11 0h1m-77 1h6m1 0h13m1 0h3m3 0h2m1 0h3m3 0h4m1 0h5m2 0h1m3 0h2m3 0h2m4 0h2m14 0h2m-81 1h3m4 0h3m3 0h7m1 0h3m2 0h5m5 0h2m3 0h5m6 0h5m5 0h2m15 0h2m-81 1h2m3 0h5m4 0h3m1 0h2m1 0h10m4 0h1m2 0h1m2 0h3m11 0h2m4 0h2m-60 1h6m1 0h4m6 0h10m5 0h1m2 0h2m1 0h2m4 0h2m11 0h3m-62 1h8m1 0h5m2 0h5m1 0h6m3 0h3m4 0h2m3 0h2m1 0h2m-49 1h2m1 0h6m2 0h4m3 0h10m4 0h5m2 0h2m14 0h2m2 0h2m-61 1h15m1 0h11m1 0h2m5 0h2m2 0h2m14 0h2m1 0h3m-61 1h5m2 0h4m1 0h2m2 0h11m1 0h3m8 0h2m17 0h1m-59 1h2m1 0h2m2 0h1m4 0h2m1 0h2m2 0h7m2 0h4m7 0h2m4 0h2m-48 1h2m2 0h5m4 0h2m3 0h2m1 0h1m6 0h3m1 0h2m12 0h2m5 0h1m-54 1h13m5 0h4m5 0h7m19 0h2m-55 1h2m2 0h8m8 0h2m4 0h2m3 0h2m17 0h1m-51 1h2m4 0h3m41 0h2m-45 1h2m5 0h4m11 0h2m-18 1h3m-3 1h1m-13 1h1m27 0h1m-28 1h1m15 2h2" stroke="#ff0000"/>
<path d="M363 776.5h2m-2 1h2m-3 1h2m2 0h2m-12 1h2m4 0h2m2 0h1m-11 1h2m3 0h2m3 0h1m-6 1h2m3 0h2m-9 2h3m-3 1h3m2 0h2m-23 1h2m15 0h2m2 0h2m-23 1h2m20 0h2m-8 1h2m3 0h3m-20 1h2m4 0h2m4 0h2m3 0h4m-21 1h2m2 0h4m3 0h2m1 0h2m1 0h4m-17 1h2m1 0h2m2 0h2m1 0h2m1 0h4m-23 1h2m3 0h2m2 0h3m7 0h4m-23 1h2m3 0h2m1 0h4m4 0h2m1 0h4m-15 1h2m6 0h2m1 0h3m-14 1h2m3 0h2m2 0h4m-13 1h2m3 0h2m1 0h6m-16 1h2m3 0h2m3 0h2m1 0h3m-20 1h2m2 0h2m3 0h2m2 0h3m-16 1h2m5 0h2m4 0h5m-11 1h4m5 0h2m-9 1h2m1 0h2m3 0h2m-36 1h2m27 0h4m1 0h3m-37 1h2m11 0h2m16 0h2m1 0h3m-32 1h2m6 0h2m2 0h2m8 0h2m5 0h3m-32 1h2m1 0h2m7 0h4m6 0h2m1 0h2m3 0h3m-30 1h2m9 0h2m3 0h2m2 0h4m3 0h3m-14 1h8m4 0h2m-18 1h2m4 0h2m2 0h2m4 0h1m-25 1h2m1 0h2m3 0h2m6 0h6m2 0h1m-25 1h2m1 0h2m5 0h2m3 0h7m-15 1h2m1 0h2m3 0h2m1 0h4m2 0h1m-18 1h2m11 0h2m2 0h1m-6 1h2m-6 1h2m2 0h2m-6 1h2m4 0h2m-22 1h2m2 0h2m2 0h2m6 0h2m2 0h4m-24 1h2m2 0h2m2 0h2m6 0h2m4 0h2m-8 2h2m-2 1h2m3 0h2m-7 1h2m3 0h2m-18 2h2m2 0h2m-6 1h2m2 0h2" stroke="#ffd6d6"/>
<path d="M600 529.5h2m-43 1h2m39 0h2m-43 1h2m33 0h2m-42 1h2m38 0h2m-94 1h2m50 0h2m19 0h2m-75 1h2m26 0h2m17 0h2m24 0h2m-49 1h4m3 0h2m12 0h2m56 0h2m-81 1h2m5 0h2m70 0h2m-99 1h1m1 0h1m-3 1h1m1 0h1m2 0h2m40 0h2m43 0h2m-96 1h4m3 0h2m3 0h2m7 0h2m11 0h2m13 0h2m29 0h2m1 0h1m2 0h1m2 0h2m3 0h2m-109 1h2m11 0h4m8 0h2m7 0h2m3 0h2m6 0h2m18 0h2m24 0h1m6 0h1m1 0h1m1 0h1m-100 1h2m3 0h2m1 0h2m20 0h2m2 0h1m1 0h1m24 0h1m1 0h1m23 0h1m3 0h3m4 0h2m1 0h2m-108 1h2m8 0h3m1 0h1m20 0h2m3 0h2m24 0h2m23 0h1m3 0h4m3 0h1m3 0h1m2 0h1m9 0h2m-116 1h1m1 0h1m4 0h2m3 0h2m27 0h2m10 0h2m31 0h2m2 0h4m4 0h1m3 0h1m2 0h1m8 0h2m-115 1h2m9 0h2m18 0h2m5 0h4m10 0h2m7 0h2m18 0h1m1 0h1m6 0h2m1 0h2m4 0h1m3 0h2m14 0h2m-125 1h2m22 0h2m9 0h2m28 0h2m11 0h1m18 0h2m24 0h2m-125 1h2m13 0h2m6 0h1m17 0h1m1 0h1m17 0h2m27 0h1m17 0h1m1 0h1m1 0h2m-107 1h3m1 0h1m3 0h2m6 0h1m1 0h1m5 0h2m8 0h2m17 0h1m1 0h1m15 0h1m2 0h1m5 0h1m15 0h1m1 0h1m2 0h1m1 0h1m1 0h2m-173 1h2m59 0h2m3 0h2m2 0h1m19 0h2m15 0h2m5 0h2m3 0h2m19 0h1m23 0h1m4 0h2m5 0h2m-178 1h2m59 0h2m1 0h2m2 0h2m14 0h2m4 0h2m9 0h2m4 0h2m5 0h2m37 0h1m10 0h1m3 0h3m5 0h2m-114 1h2m12 0h2m4 0h2m4 0h4m7 0h2m6 0h4m2 0h2m15 0h1m10 0h1m3 0h3m14 0h2m2 0h1m-112 1h2m26 0h2m4 0h1m2 0h1m2 0h2m2 0h2m6 0h4m2 0h2m15 0h2m2 0h1m3 0h1m1 0h1m12 0h2m4 0h1m1 0h1m1 0h1m-109 1h2m4 0h2m7 0h2m4 0h2m5 0h2m1 0h2m1 0h4m2 0h2m2 0h2m27 0h2m3 0h1m4 0h1m3 0h1m12 0h4m6 0h1m-105 1h2m7 0h1m1 0h1m2 0h2m6 0h2m1 0h4m17 0h2m19 0h2m9 0h2m1 0h1m9 0h1m-91 1h2m5 0h1m2 0h1m2 0h2m6 0h2m3 0h2m7 0h2m8 0h2m5 0h2m16 0h1m17 0h3m1 0h1m4 0h2m3 0h1m-103 1h2m5 0h1m1 0h1m25 0h2m9 0h2m4 0h2m13 0h2m22 0h2m1 0h1m3 0h1m-73 1h2m18 0h2m18 0h1m1 0h1m1 0h1m3 0h2m-56 1h1m1 0h1m2 0h1m2 0h1m37 0h3m2 0h1m25 0h1m4 0h2m-111 1h2m17 0h2m4 0h3m1 0h1m2 0h4m9 0h2m14 0h1m1 0h1m11 0h1m25 0h1m7 0h2m-111 1h2m17 0h2m4 0h1m1 0h3m8 0h2m5 0h2m14 0h1m1 0h1m7 0h2m33 0h1m1 0h1m-195 1h2m86 0h2m22 0h4m14 0h2m5 0h2m15 0h2m1 0h1m1 0h1m27 0h1m3 0h1m2 0h1m-195 1h2m86 0h2m18 0h2m20 0h2m3 0h4m3 0h1m2 0h1m8 0h2m2 0h2m6 0h1m16 0h2m1 0h1m4 0h1m-89 1h2m3 0h2m5 0h2m18 0h2m5 0h1m3 0h1m10 0h4m3 0h1m1 0h1m10 0h1m7 0h1m6 0h1m3 0h2m-108 1h2m11 0h2m10 0h2m1 0h2m21 0h2m1 0h1m1 0h1m10 0h3m1 0h1m9 0h2m13 0h1m1 0h3m3 0h4m-108 1h2m14 0h2m1 0h2m4 0h2m1 0h2m1 0h2m2 0h2m15 0h1m16 0h1m1 0h1m5 0h1m4 0h1m11 0h1m1 0h8m1 0h1m17 0h2m-132 1h2m12 0h2m7 0h2m1 0h2m4 0h2m6 0h1m1 0h2m5 0h2m21 0h6m11 0h1m11 0h1m2 0h1m4 0h1m1 0h1m18 0h2m-132 1h2m31 0h2m3 0h1m1 0h1m8 0h2m9 0h2m3 0h1m1 0h1m6 0h2m1 0h1m23 0h1m7 0h2m-100 1h2m1 0h2m2 0h2m9 0h2m2 0h2m25 0h2m3 0h1m1 0h1m4 0h2m1 0h1m5 0h1m6 0h1m7 0h1m4 0h3m4 0h1m-135 1h2m35 0h2m5 0h2m9 0h2m24 0h2m7 0h3m1 0h1m4 0h3m1 0h2m2 0h1m1 0h1m7 0h1m9 0h1m1 0h1m4 0h1m-140 1h2m3 0h2m34 0h2m11 0h2m30 0h2m7 0h3m6 0h1m1 0h1m8 0h2m5 0h1m7 0h1m3 0h1m4 0h2m-141 1h2m13 0h2m46 0h2m16 0h2m15 0h2m5 0h4m3 0h1m2 0h1m4 0h1m7 0h2m5 0h2m2 0h2m-126 1h2m18 0h2m4 0h2m11 0h2m1 0h2m4 0h2m7 0h1m1 0h1m5 0h1m1 0h1m11 0h2m11 0h4m2 0h1m1 0h2m1 0h1m9 0h1m3 0h3m-100 1h2m20 0h2m13 0h1m1 0h1m5 0h2m12 0h2m1 0h2m5 0h2m3 0h2m1 0h3m2 0h2m9 0h4m2 0h1m-38 1h2m5 0h2m10 0h1m1 0h1m2 0h1m7 0h1m18 0h2m-171 1h2m90 0h2m30 0h2m5 0h1m3 0h1m4 0h1m2 0h5m2 0h1m18 0h2m-171 1h2m10 0h2m15 0h2m61 0h2m30 0h2m5 0h1m2 0h1m4 0h3m1 0h1m3 0h1m4 0h1m1 0h1m-143 1h2m15 0h2m96 0h2m14 0h1m3 0h1m7 0h2m4 0h2m-89 1h2m51 0h2m2 0h2m1 0h2m3 0h3m1 0h1m1 0h2m8 0h2m4 0h2m-89 1h2m47 0h2m6 0h2m1 0h2m-13 1h2m3 0h2m17 0h2m-172 1h2m65 0h2m62 0h2m11 0h2m5 0h2m17 0h2m-172 1h2m65 0h2m62 0h2m11 0h2m13 0h1m1 0h1m11 0h2m-16 1h1m1 0h1m11 0h2m-16 1h2m-9 1h2m5 0h2m-9 1h2m12 1h2m-2 1h2m3 1h2m-155 1h2m148 0h2m1 0h2m-155 1h2m127 0h2m19 0h2m-23 1h2m-90 2h2m80 0h2m-84 1h2m80 0h2m47 3h2m-148 1h2m144 0h2m3 0h2m-153 1h2m78 0h2m13 0h2m54 0h2m-131 1h2m56 0h2m13 0h2m-75 1h2m19 0h2m-2 1h2m-58 1h2m-2 1h2m19 0h2m124 0h2m-169 1h2m39 0h2m67 0h2m46 0h2m7 0h2m-169 1h2m30 0h2m76 0h2m46 0h2m-128 1h2m136 2h2m-2 1h2m-210 3h2m-2 1h2m177 1h2m43 0h2m-47 1h2m43 0h2m-63 2h2m-2 1h2m27 1h2m-2 1h2m8 0h2m-2 1h2m-2 6h2m18 0h2m-22 1h2m8 0h2m8 0h2m-12 1h2m-156 1h2m100 0h2m-104 1h2m100 0h2m41 1h2m18 0h2m-30 1h2m26 0h2m-50 1h2m18 0h2m6 0h2m-30 1h2m19 2h2m-2 1h2m-34 2h2m-2 1h2m9 1h2m-15 1h2m11 0h2m-27 1h2m10 0h2m44 0h2m-60 1h2m56 0h1m1 0h1m-5 1h2m-2 1h2m1 0h2m-45 1h2m18 0h2m-42 1h2m18 0h2m18 0h2m24 0h2m-68 1h2m64 0h2m-12 1h2m-2 1h2m13 0h2m-2 1h2m-47 1h2m-2 1h2m8 0h2m6 0h2m-118 1h2m106 0h2m6 0h2m-118 1h2m77 2h2m52 0h2m6 0h2m-64 1h2m20 0h2m30 0h2m6 0h2m-42 1h2m8 4h2m27 0h2m-31 1h2m27 0h2m-63 2h2m18 0h3m1 0h1m-25 1h4m7 0h2m7 0h3m1 0h1m-23 1h2m7 0h2m25 0h2m-2 1h2m-26 1h2m-12 1h2m8 0h2m-12 1h2m17 0h2m-2 1h2m-19 1h2m-2 1h2m9 0h2m-2 1h2m-29 3h2m-2 1h2m7 0h2m16 0h2m-20 1h2m16 0h2m-27 3h2m19 0h2m-23 1h2m8 0h2m9 0h2m-13 1h2m3 1h2m-20 1h2m1 0h2m13 0h2m-20 1h2m1 0h2m10 0h2m-2 1h2m-9 2h2m-17 1h4m11 0h2m11 0h2m-54 1h2m22 0h4m1 0h2m9 0h2m10 0h2m6 0h2m-62 1h2m27 0h2m5 0h2m2 0h2m18 0h2m-31 1h2m3 0h2m12 0h2m-35 1h2m5 0h2m24 0h2m-97 1h2m60 0h2m5 0h2m2 0h2m1 0h2m4 0h2m-84 1h2m64 0h2m5 0h1m1 0h1m6 0h4m-20 1h1m1 0h1m5 0h2m8 0h2m-21 1h4m5 0h2m3 0h2m1 0h2m-19 1h2m6 0h1m1 0h1m3 0h2m1 0h2m-110 1h2m5 0h2m90 0h2m-111 1h2m8 0h2m5 0h2m-19 1h2m92 0h2m-24 1h2m18 0h4m20 0h2m-69 1h2m21 0h2m18 0h2m11 0h2m9 0h2m-139 1h2m30 0h2m36 0h2m18 0h2m1 0h1m1 0h1m30 0h2m2 0h2m-132 1h2m30 0h2m56 0h2m3 0h1m19 0h2m7 0h2m4 0h2m4 0h2m-126 1h2m79 0h2m12 0h2m6 0h2m6 0h1m12 0h2m-126 1h2m28 0h2m63 0h2m16 0h1m-84 1h2m49 0h2m28 0h2m-80 1h2m46 0h2m9 0h2m-56 1h2m30 0h2m16 0h6m8 0h4m-114 1h2m39 0h2m3 0h2m30 0h2m11 0h2m3 0h4m8 0h6m6 0h2m9 0h2m-133 1h2m89 0h2m5 0h2m8 0h2m10 0h2m9 0h2m13 0h2m-59 1h2m3 0h2m2 0h2m9 0h2m7 0h2m26 0h2m-135 1h2m73 0h1m5 0h4m2 0h2m7 0h2m5 0h1m3 0h1m-108 1h2m6 0h2m65 0h1m1 0h1m5 0h2m2 0h2m2 0h2m5 0h2m3 0h1m1 0h1m12 0h2m-112 1h2m33 0h2m28 0h2m2 0h2m8 0h1m1 0h1m1 0h2m5 0h2m6 0h2m4 0h2m1 0h2m1 0h2m-101 1h2m21 0h1m1 0h1m17 0h2m9 0h2m2 0h2m8 0h1m1 0h1m2 0h2m18 0h2m1 0h2m-117 1h2m17 0h2m16 0h2m3 0h2m18 0h2m5 0h2m6 0h2m4 0h1m1 0h1m1 0h2m3 0h2m2 0h2m-98 1h2m35 0h2m8 0h2m20 0h2m6 0h2m4 0h1m1 0h1m1 0h2m7 0h2m-117 1h2m39 0h2m23 0h2m19 0h2m5 0h2m-96 1h2m15 0h2m20 0h4m12 0h2m30 0h2m2 0h2m1 0h2m17 0h2m16 0h2m-125 1h2m7 0h2m13 0h2m5 0h1m1 0h1m13 0h1m1 0h1m33 0h2m20 0h2m16 0h2m-125 1h2m22 0h2m2 0h2m13 0h2m3 0h2m21 0h2m14 0h2m13 0h2m40 0h2m-114 1h2m3 0h2m4 0h2m26 0h2m8 0h2m1 0h2m1 0h2m13 0h2m40 0h2m-162 1h2m29 0h2m11 0h2m7 0h2m19 0h2m24 0h2m3 0h2m2 0h1m1 0h1m5 0h2m15 0h2m-141 1h4m1 0h2m24 0h1m1 0h1m2 0h2m13 0h2m26 0h2m15 0h2m4 0h2m10 0h1m1 0h1m5 0h4m2 0h2m9 0h2m-141 1h4m27 0h1m1 0h1m14 0h2m1 0h4m3 0h2m22 0h4m10 0h2m11 0h1m10 0h2m2 0h2m2 0h2m-100 1h2m16 0h2m3 0h2m3 0h2m24 0h2m10 0h2m6 0h2m3 0h1m1 0h1m8 0h2m14 0h2m35 0h2m-145 1h2m1 0h2m49 0h2m1 0h2m7 0h4m3 0h1m1 0h1m1 0h2m15 0h2m10 0h2m35 0h2m-167 1h2m1 0h2m20 0h2m27 0h2m15 0h2m2 0h1m1 0h1m1 0h4m7 0h2m3 0h2m2 0h2m6 0h2m11 0h2m5 0h2m-135 1h2m4 0h2m1 0h2m32 0h2m5 0h2m4 0h2m2 0h2m15 0h2m2 0h2m1 0h2m1 0h2m12 0h2m10 0h2m7 0h2m2 0h2m5 0h2m-135 1h2m41 0h2m5 0h2m4 0h2m12 0h2m4 0h2m6 0h4m13 0h2m17 0h2m-132 1h2m78 0h2m2 0h2m10 0h2m16 0h2m5 0h2m7 0h2m-132 1h2m22 0h2m45 0h2m11 0h4m15 0h2m2 0h2m5 0h2m4 0h1m1 0h1m-99 1h2m33 0h2m10 0h2m7 0h2m6 0h1m1 0h1m1 0h2m9 0h2m2 0h2m2 0h2m7 0h2m-104 1h2m21 0h2m6 0h1m1 0h1m7 0h2m19 0h2m6 0h1m1 0h1m1 0h1m1 0h3m32 0h2m1 0h2m-116 1h2m21 0h2m6 0h1m1 0h1m9 0h3m1 0h1m17 0h2m8 0h4m13 0h1m1 0h1m16 0h2m1 0h2m-102 1h2m27 0h3m1 0h1m5 0h2m2 0h2m6 0h2m3 0h2m1 0h2m4 0h4m7 0h2m17 0h6m-125 1h2m19 0h2m1 0h2m22 0h2m6 0h2m3 0h4m2 0h2m6 0h2m6 0h2m4 0h1m2 0h1m2 0h2m5 0h4m12 0h1m1 0h5m-125 1h2m19 0h2m6 0h2m1 0h2m14 0h2m5 0h1m1 0h1m3 0h2m6 0h2m4 0h2m3 0h2m13 0h2m3 0h2m2 0h2m12 0h2m8 0h2m-113 1h2m10 0h2m1 0h2m2 0h1m2 0h1m1 0h2m12 0h2m12 0h1m12 0h1m1 0h1m5 0h2m13 0h2m4 0h2m1 0h3m11 0h2m-113 1h2m4 0h2m11 0h1m2 0h1m10 0h1m1 0h5m4 0h2m3 0h2m1 0h1m2 0h1m1 0h1m7 0h1m1 0h1m11 0h4m5 0h2m2 0h4m1 0h3m-120 1h2m7 0h2m15 0h2m18 0h1m1 0h1m3 0h1m2 0h2m3 0h3m6 0h1m1 0h1m3 0h1m1 0h1m6 0h1m1 0h1m1 0h2m9 0h2m11 0h1m1 0h1m-115 1h2m3 0h2m2 0h4m16 0h2m15 0h1m1 0h1m3 0h2m2 0h1m5 0h1m1 0h2m1 0h2m1 0h1m3 0h3m1 0h1m7 0h1m12 0h4m10 0h2m-110 1h2m4 0h2m14 0h4m3 0h2m9 0h2m4 0h4m1 0h6m9 0h1m1 0h4m4 0h1m1 0h1m3 0h1m2 0h2m7 0h1m1 0h1m5 0h2m-111 1h2m7 0h2m14 0h2m2 0h2m5 0h1m1 0h3m2 0h2m1 0h1m1 0h1m4 0h3m2 0h1m2 0h2m4 0h2m4 0h2m1 0h2m1 0h3m1 0h1m5 0h1m4 0h1m1 0h4m2 0h2m3 0h4m19 0h2m-132 1h4m5 0h2m13 0h1m1 0h1m9 0h1m1 0h3m2 0h1m1 0h5m1 0h2m3 0h1m8 0h2m2 0h1m3 0h2m1 0h2m3 0h2m3 0h1m1 0h1m1 0h1m2 0h2m3 0h1m1 0h1m6 0h2m1 0h1m1 0h1m17 0h2m-130 1h2m11 0h2m2 0h2m3 0h2m2 0h2m2 0h1m4 0h1m5 0h1m1 0h1m2 0h2m1 0h2m1 0h3m2 0h2m4 0h1m14 0h1m2 0h3m3 0h3m3 0h1m1 0h1m2 0h1m4 0h2m1 0h3m2 0h1m-99 1h2m4 0h2m5 0h2m2 0h1m3 0h3m4 0h1m2 0h1m1 0h3m1 0h1m1 0h1m2 0h1m6 0h2m4 0h1m3 0h2m3 0h1m3 0h3m3 0h2m1 0h1m1 0h1m1 0h1m8 0h2m1 0h1m1 0h1m1 0h2m5 0h2m10 0h2m-114 1h6m5 0h2m5 0h2m3 0h2m4 0h2m2 0h5m5 0h1m1 0h2m7 0h1m1 0h2m1 0h4m2 0h1m1 0h1m5 0h1m1 0h1m1 0h2m11 0h2m8 0h2m6 0h2m2 0h2m-133 1h2m4 0h2m12 0h2m1 0h2m1 0h2m2 0h2m5 0h1m2 0h1m2 0h1m7 0h1m1 0h2m1 0h5m3 0h1m6 0h1m2 0h2m12 0h1m10 0h1m13 0h2m12 0h2m-129 1h2m4 0h2m4 0h4m4 0h2m4 0h1m1 0h1m1 0h2m5 0h1m2 0h1m4 0h2m4 0h1m4 0h2m9 0h2m5 0h3m4 0h4m1 0h1m1 0h1m2 0h1m3 0h3m4 0h2m4 0h2m3 0h2m3 0h2m-117 1h2m7 0h6m4 0h1m4 0h2m1 0h2m15 0h2m2 0h1m3 0h3m5 0h3m10 0h1m1 0h1m4 0h3m2 0h1m8 0h1m1 0h1m2 0h2m3 0h1m1 0h1m8 0h2m-117 1h2m8 0h2m1 0h1m2 0h1m15 0h3m1 0h1m1 0h1m13 0h1m7 0h4m1 0h1m4 0h2m2 0h2m3 0h1m5 0h1m1 0h1m1 0h1m11 0h2m1 0h4m8 0h2m-123 1h2m2 0h2m2 0h2m1 0h2m2 0h2m2 0h1m1 0h1m5 0h1m4 0h2m3 0h1m5 0h1m2 0h1m1 0h2m12 0h3m2 0h1m8 0h3m3 0h1m3 0h1m15 0h1m1 0h1m1 0h2m3 0h1m1 0h1m1 0h2m4 0h2m16 0h2m-148 1h1m1 0h3m2 0h2m2 0h2m2 0h3m2 0h1m9 0h2m2 0h1m4 0h2m15 0h1m4 0h1m2 0h1m10 0h1m7 0h2m8 0h3m2 0h1m2 0h1m2 0h1m1 0h2m1 0h1m1 0h1m2 0h2m3 0h1m1 0h3m5 0h2m15 0h2m-148 1h1m1 0h3m1 0h2m4 0h4m1 0h4m1 0h2m6 0h1m2 0h1m11 0h1m9 0h1m3 0h1m8 0h3m3 0h2m2 0h1m4 0h1m17 0h4m1 0h2m1 0h2m2 0h1m6 0h2m1 0h2m4 0h2m-125 1h2m1 0h2m1 0h4m2 0h2m2 0h1m1 0h3m4 0h1m1 0h1m1 0h1m2 0h1m6 0h2m4 0h2m10 0h1m3 0h2m2 0h1m1 0h1m2 0h7m5 0h1m3 0h3m5 0h3m1 0h4m1 0h2m1 0h1m2 0h1m7 0h2m-116 1h2m2 0h1m1 0h1m2 0h2m2 0h1m1 0h1m2 0h2m3 0h3m13 0h1m4 0h2m7 0h1m2 0h2m3 0h1m7 0h6m2 0h2m5 0h1m7 0h1m2 0h4m3 0h1m1 0h1m-115 1h2m5 0h2m5 0h1m4 0h1m1 0h1m1 0h1m1 0h1m2 0h1m1 0h1m1 0h1m9 0h2m4 0h3m4 0h1m7 0h1m1 0h1m1 0h1m5 0h1m7 0h1m2 0h1m3 0h1m4 0h2m8 0h1m2 0h3m3 0h1m1 0h1m9 0h2m-119 1h2m1 0h2m1 0h1m2 0h1m1 0h1m3 0h3m4 0h1m1 0h2m9 0h2m6 0h1m1 0h1m10 0h4m11 0h1m2 0h1m11 0h3m6 0h1m13 0h2m6 0h2m-126 1h3m1 0h1m8 0h1m1 0h1m7 0h1m3 0h1m2 0h3m9 0h1m2 0h1m4 0h1m2 0h2m6 0h4m2 0h1m4 0h1m5 0h2m1 0h4m1 0h1m2 0h1m9 0h1m1 0h1m1 0h3m1 0h1m1 0h2m2 0h1m1 0h3m-116 1h1m1 0h1m5 0h3m1 0h1m1 0h1m2 0h2m1 0h1m1 0h1m4 0h1m2 0h1m9 0h1m3 0h1m6 0h1m7 0h2m1 0h1m8 0h1m3 0h1m1 0h1m7 0h2m5 0h2m5 0h1m4 0h2m1 0h2m2 0h1m-102 1h1m2 0h1m2 0h1m5 0h1m3 0h1m8 0h1m1 0h2m1 0h2m9 0h3m8 0h1m12 0h1m10 0h1m2 0h1m3 0h2m1 0h1m2 0h1m11 0h1m1 0h1m5 0h2m5 0h2m2 0h2m-131 1h2m1 0h2m1 0h1m5 0h1m6 0h1m2 0h1m4 0h1m6 0h2m2 0h1m2 0h1m29 0h1m4 0h1m2 0h1m1 0h1m2 0h1m3 0h1m2 0h3m4 0h1m15 0h2m1 0h1m1 0h1m5 0h2m2 0h2m-131 1h1m2 0h1m7 0h4m3 0h1m5 0h1m2 0h1m1 0h1m2 0h1m1 0h1m5 0h1m4 0h2m6 0h1m3 0h1m18 0h1m2 0h3m1 0h1m7 0h1m5 0h1m16 0h2m1 0h2m-115 1h1m4 0h1m3 0h1m4 0h2m3 0h4m1 0h1m11 0h1m6 0h1m4 0h1m4 0h1m2 0h1m13 0h2m3 0h2m1 0h1m10 0h3m1 0h1m13 0h2m-117 1h2m3 0h1m1 0h1m1 0h1m1 0h3m10 0h1m2 0h1m4 0h1m3 0h2m2 0h1m1 0h3m6 0h1m12 0h1m3 0h1m7 0h1m6 0h1m3 0h1m7 0h4m2 0h2m10 0h4m-117 1h1m2 0h2m3 0h1m5 0h1m5 0h1m3 0h1m1 0h1m16 0h2m4 0h1m14 0h1m9 0h2m5 0h2m4 0h3m1 0h1m3 0h2m3 0h1m1 0h1m5 0h2m3 0h2m16 0h2m-133 1h1m6 0h2m3 0h1m6 0h3m3 0h1m9 0h1m2 0h1m21 0h2m2 0h1m4 0h1m2 0h1m2 0h1m4 0h2m3 0h1m3 0h3m3 0h4m1 0h2m4 0h4m8 0h2m11 0h2m-133 1h2m4 0h1m1 0h1m1 0h1m3 0h1m4 0h1m1 0h1m5 0h3m8 0h1m11 0h3m14 0h2m4 0h2m1 0h1m3 0h2m8 0h1m2 0h2m10 0h1m1 0h1m1 0h2m7 0h2m-121 1h1m1 0h5m2 0h1m1 0h2m5 0h2m2 0h1m5 0h1m1 0h1m4 0h1m1 0h1m3 0h1m2 0h1m2 0h1m4 0h2m10 0h1m8 0h1m1 0h1m3 0h1m6 0h1m4 0h1m2 0h6m1 0h2m3 0h2m2 0h2m2 0h2m5 0h4m-125 1h1m2 0h1m2 0h1m2 0h1m1 0h3m3 0h1m1 0h1m3 0h1m6 0h1m4 0h2m3 0h1m2 0h1m3 0h1m4 0h1m1 0h1m5 0h2m3 0h2m5 0h1m4 0h1m1 0h1m15 0h1m1 0h2m2 0h2m3 0h2m6 0h2m5 0h4m-124 1h3m6 0h9m5 0h2m9 0h1m3 0h2m12 0h1m9 0h2m1 0h1m2 0h1m3 0h1m4 0h1m2 0h1m5 0h3m5 0h1m1 0h4m5 0h2m4 0h2m10 0h2m-124 1h1m3 0h5m2 0h1m4 0h1m2 0h1m8 0h1m5 0h1m20 0h1m5 0h1m16 0h2m3 0h3m4 0h2m2 0h2m1 0h2m5 0h2m4 0h2m10 0h2m-120 1h3m4 0h1m2 0h1m3 0h1m1 0h3m2 0h1m2 0h1m44 0h1m4 0h1m1 0h1m3 0h1m2 0h1m2 0h1m2 0h3m4 0h2m2 0h2m-107 1h2m6 0h1m3 0h1m6 0h2m5 0h1m13 0h1m3 0h1m4 0h1m17 0h1m5 0h1m6 0h2m6 0h2m2 0h2m1 0h2m4 0h2m-104 1h2m10 0h2m6 0h1m4 0h3m21 0h2m8 0h1m2 0h4m4 0h1m1 0h1m1 0h2m2 0h1m2 0h1m3 0h1m1 0h1m3 0h2m3 0h2m5 0h2m-102 1h1m4 0h1m21 0h1m11 0h2m5 0h1m4 0h1m8 0h2m2 0h1m2 0h2m1 0h1m2 0h1m2 0h2m6 0h1m18 0h2m-108 1h1m6 0h1m3 0h1m12 0h1m13 0h1m3 0h1m10 0h2m5 0h2m1 0h1m3 0h1m2 0h2m1 0h1m3 0h1m1 0h2m4 0h2m6 0h1m3 0h2m4 0h2m1 0h2m12 0h2m-117 1h1m2 0h2m1 0h1m6 0h2m3 0h2m12 0h1m1 0h1m12 0h2m6 0h3m9 0h2m1 0h1m1 0h3m2 0h2m10 0h2m1 0h2m21 0h2m-117 1h3m2 0h2m6 0h1m2 0h4m10 0h3m13 0h4m6 0h1m6 0h2m3 0h1m1 0h1m1 0h1m2 0h4m4 0h2m1 0h1m1 0h3m-90 1h2m3 0h1m7 0h1m2 0h1m1 0h2m10 0h1m8 0h1m5 0h1m1 0h1m5 0h1m1 0h1m6 0h1m2 0h1m2 0h2m6 0h1m5 0h2m1 0h2m8 0h2m-102 1h1m16 0h2m1 0h1m2 0h1m3 0h1m4 0h1m2 0h1m16 0h1m5 0h2m6 0h1m1 0h2m3 0h1m2 0h3m3 0h1m2 0h1m14 0h2m-79 1h2m2 0h3m3 0h2m18 0h1m2 0h1m1 0h2m3 0h1m1 0h1m2 0h2m6 0h1m1 0h2m1 0h2m2 0h1m-82 1h1m5 0h1m10 0h1m1 0h2m4 0h2m1 0h2m4 0h1m16 0h1m7 0h1m5 0h5m1 0h2m1 0h1m2 0h2m-69 1h1m6 0h1m8 0h1m2 0h1m2 0h2m2 0h2m7 0h1m1 0h1m2 0h2m6 0h1m3 0h1m1 0h1m12 0h2m1 0h2m-75 1h1m9 0h3m8 0h1m2 0h2m7 0h1m2 0h1m2 0h2m1 0h2m2 0h1m1 0h1m3 0h1m1 0h2m6 0h1m1 0h1m2 0h2m4 0h2m20 0h2m7 0h2m-116 1h1m14 0h1m3 0h1m10 0h1m2 0h2m16 0h1m5 0h2m2 0h2m4 0h1m9 0h2m26 0h2m7 0h2m-116 1h1m3 0h2m3 0h1m4 0h1m1 0h1m3 0h3m7 0h2m3 0h1m6 0h1m4 0h1m8 0h1m1 0h1m1 0h1m3 0h1m1 0h3m-71 1h3m4 0h1m7 0h1m8 0h1m7 0h2m21 0h1m10 0h1m3 0h1m3 0h2m8 0h2m-86 1h4m2 0h1m2 0h1m2 0h1m4 0h1m2 0h1m7 0h2m6 0h1m1 0h1m4 0h1m6 0h1m2 0h1m11 0h2m1 0h1m1 0h1m3 0h2m6 0h4m-84 1h1m5 0h1m8 0h2m16 0h2m1 0h1m4 0h1m1 0h1m1 0h1m1 0h3m6 0h1m2 0h2m2 0h2m2 0h3m1 0h1m8 0h2m10 0h2m-94 1h1m1 0h2m2 0h1m5 0h1m1 0h1m6 0h1m7 0h1m3 0h2m6 0h2m1 0h1m2 0h3m2 0h2m15 0h1m1 0h1m3 0h2m15 0h2m-94 1h1m13 0h1m3 0h3m5 0h4m4 0h1m9 0h1m1 0h3m2 0h2m3 0h1m7 0h2m9 0h2m-58 1h1m1 0h1m1 0h3m5 0h2m1 0h3m2 0h1m1 0h2m1 0h2m1 0h2m5 0h2m16 0h2m-73 1h3m4 0h1m10 0h1m1 0h1m3 0h1m9 0h2m3 0h3m1 0h2m1 0h4m3 0h2m1 0h2m1 0h2m2 0h2m6 0h2m-74 1h1m6 0h1m1 0h1m6 0h5m6 0h1m16 0h2m1 0h4m3 0h2m1 0h1m1 0h3m1 0h2m-65 1h3m13 0h3m8 0h1m11 0h1m7 0h1m1 0h2m3 0h2m2 0h2m3 0h2m-67 1h5m1 0h2m5 0h1m4 0h1m4 0h2m7 0h3m10 0h3m4 0h1m3 0h2m-55 1h2m1 0h2m6 0h1m1 0h3m2 0h1m1 0h4m7 0h1m3 0h1m10 0h1m3 0h1m-50 1h3m1 0h1m5 0h1m1 0h1m6 0h4m2 0h2m1 0h1m1 0h1m2 0h2m3 0h1m1 0h1m6 0h1m1 0h1m8 0h2m28 0h2m-88 1h3m3 0h1m2 0h1m6 0h1m1 0h1m6 0h1m5 0h2m3 0h1m2 0h1m5 0h2m9 0h2m26 0h4m-94 1h1m17 0h3m4 0h1m5 0h1m12 0h2m4 0h1m1 0h1m37 0h2m-91 1h1m8 0h2m2 0h1m2 0h1m11 0h1m3 0h2m1 0h1m1 0h1m5 0h2m4 0h2m-52 1h2m1 0h1m7 0h1m1 0h2m1 0h1m1 0h2m3 0h1m4 0h2m1 0h3m1 0h1m2 0h1m5 0h2m-46 1h2m3 0h1m6 0h1m1 0h1m2 0h1m1 0h3m1 0h2m1 0h2m3 0h2m1 0h2m-35 1h2m3 0h1m3 0h1m1 0h1m2 0h1m4 0h2m1 0h2m1 0h2m4 0h2m1 0h1m1 0h1m-37 1h1m1 0h1m2 0h3m1 0h1m2 0h3m2 0h1m13 0h1m1 0h1m17 0h2m-53 1h1m3 0h1m1 0h1m3 0h1m1 0h1m7 0h2m10 0h4m15 0h2m47 0h2m-102 1h1m1 0h1m1 0h2m1 0h2m3 0h1m7 0h2m13 0h2m5 0h2m56 0h2m-102 1h2m5 0h2m1 0h3m1 0h1m10 0h2m8 0h2m5 0h2m5 0h2m-51 1h2m10 0h1m1 0h1m4 0h2m4 0h2m22 0h2m-40 1h2m6 0h2m2 0h2m-14 1h2m10 0h1m1 0h1m-2 1h2m-27 1h2m2 0h2m6 0h4m-16 1h2m2 0h2m6 0h4m-13 1h2m80 0h2m-84 1h2m14 0h2m64 0h2m-68 1h2m3 8h2m-2 1h2" stroke="#ff4545"/>
<path d="M511 537.5h1m-1 1h1m80 1h2m-5 1h6m3 0h1m-104 1h2m38 0h1m26 0h1m25 0h3m3 0h2m-96 1h2m6 0h1m78 0h3m4 0h3m2 0h2m1 0h2m-103 1h1m86 0h2m4 0h4m1 0h2m2 0h2m-22 1h1m1 0h2m1 0h2m6 0h4m-61 1h2m35 0h2m4 0h5m1 0h6m2 0h4m-79 1h2m16 0h1m33 0h5m1 0h8m1 0h7m1 0h4m6 0h1m-100 1h1m13 0h1m36 0h1m14 0h2m1 0h2m1 0h5m1 0h6m2 0h2m1 0h4m1 0h1m4 0h1m-101 1h2m68 0h2m3 0h10m1 0h10m1 0h2m-34 1h2m8 0h6m2 0h2m1 0h9m2 0h3m-35 1h2m2 0h2m5 0h3m3 0h12m4 0h2m-90 1h2m12 0h2m43 0h2m2 0h1m3 0h10m2 0h4m3 0h1m1 0h2m-32 1h3m2 0h2m2 0h9m1 0h2m4 0h6m-94 1h1m61 0h4m6 0h9m1 0h12m-95 1h2m61 0h8m2 0h7m5 0h4m3 0h2m-94 1h1m61 0h21m2 0h1m1 0h3m2 0h2m1 0h2m-38 1h1m3 0h3m2 0h26m1 0h2m-84 1h1m4 0h2m41 0h2m1 0h25m1 0h4m-81 1h1m33 0h1m13 0h25m1 0h4m-80 1h1m35 0h1m12 0h31m1 0h1m-70 1h2m32 0h1m2 0h26m1 0h3m1 0h2m-95 1h2m23 0h2m17 0h2m22 0h16m2 0h1m2 0h3m1 0h2m-95 1h2m42 0h3m16 0h2m1 0h1m1 0h10m1 0h7m1 0h6m-47 1h1m14 0h1m1 0h9m2 0h12m2 0h1m3 0h2m-53 1h2m18 0h1m1 0h5m2 0h2m2 0h11m1 0h1m8 0h1m-74 1h2m17 0h2m19 0h11m1 0h11m1 0h2m1 0h2m3 0h1m-97 1h2m23 0h1m26 0h1m5 0h2m4 0h23m1 0h5m-41 1h1m9 0h5m1 0h6m1 0h7m1 0h4m3 0h4m-73 1h2m30 0h1m8 0h1m2 0h2m1 0h1m1 0h7m1 0h9m3 0h4m-87 1h2m12 0h2m30 0h2m5 0h1m4 0h5m2 0h5m1 0h5m3 0h3m1 0h2m-96 1h2m9 0h4m54 0h2m1 0h2m2 0h2m2 0h7m2 0h4m-61 1h1m7 0h1m32 0h1m2 0h1m1 0h2m1 0h6m1 0h3m-59 1h1m41 0h2m2 0h2m1 0h6m4 0h2m-22 1h4m3 0h2m2 0h6m1 0h4m-23 1h3m6 0h2m5 0h2m1 0h4m-23 1h2m8 0h1m1 0h3m6 0h1m-15 1h4m1 0h3m-5 1h1m-6 4h1m-1 1h1m15 52h2m4 12h1m-1 1h2m-35 22h1m-1 1h1m-35 30h2m-4 2h1m-8 1h1m6 2h1m-38 6h1m-2 1h2m29 1h2m-3 1h2m-80 3h2m46 4h2m26 0h3m-31 1h1m27 0h1m1 0h2m-20 1h1m-46 1h1m44 0h1m-5 1h1m-1 1h1m-64 3h1m15 0h1m-30 1h2m11 0h2m-15 1h2m7 0h2m31 1h2m18 0h2m11 0h1m-84 1h1m49 0h2m26 0h2m3 0h1m-84 1h1m77 0h2m-2 1h1m-7 1h1m-21 1h1m39 0h2m-94 1h2m83 0h2m-87 1h2m83 0h2m-41 1h2m33 1h1m-33 1h1m-40 1h1m38 0h1m3 0h1m17 0h2m-63 1h1m13 0h1m46 0h1m4 0h2m-54 1h1m45 0h2m4 0h2m-30 1h2m8 0h2m8 0h2m17 0h1m-67 1h2m1 0h1m14 0h2m17 0h2m-55 1h2m14 0h2m15 0h3m10 0h1m33 0h2m-82 1h2m2 0h2m8 0h1m18 0h2m1 0h1m9 0h1m33 0h2m-78 1h2m1 0h1m5 0h2m2 0h3m4 0h2m4 0h1m1 0h2m2 0h1m5 0h2m1 0h1m15 0h2m10 0h1m-70 1h2m1 0h1m9 0h5m9 0h3m3 0h1m1 0h2m1 0h4m2 0h2m-23 1h2m3 0h1m4 0h4m3 0h2m2 0h2m10 0h1m14 0h2m-82 1h1m9 0h1m8 0h2m11 0h2m11 0h1m3 0h2m2 0h4m23 0h2m-94 1h1m11 0h1m6 0h1m12 0h2m2 0h2m4 0h2m18 0h1m3 0h2m3 0h2m1 0h1m11 0h1m-79 1h4m7 0h1m12 0h2m2 0h2m3 0h4m11 0h2m4 0h2m7 0h1m1 0h2m11 0h2m10 0h2m-106 1h2m12 0h3m8 0h2m5 0h1m3 0h2m1 0h5m3 0h4m10 0h3m4 0h2m2 0h1m3 0h1m2 0h2m9 0h1m13 0h2m-81 1h4m2 0h2m6 0h4m4 0h5m3 0h1m2 0h1m4 0h2m1 0h1m3 0h3m3 0h1m2 0h2m-67 1h4m4 0h2m2 0h3m1 0h2m10 0h3m1 0h6m1 0h2m2 0h12m1 0h3m3 0h4m-72 1h1m5 0h4m4 0h4m4 0h2m2 0h2m6 0h6m2 0h5m3 0h4m6 0h1m1 0h2m7 0h2m-77 1h2m10 0h2m4 0h6m2 0h2m2 0h2m3 0h2m1 0h2m6 0h7m3 0h3m4 0h2m1 0h2m2 0h2m3 0h1m9 0h1m-92 1h2m1 0h5m13 0h1m3 0h2m1 0h6m1 0h3m1 0h4m1 0h2m6 0h4m2 0h2m3 0h2m1 0h5m3 0h1m1 0h2m1 0h3m-81 1h1m1 0h4m2 0h4m2 0h2m2 0h5m1 0h2m1 0h1m2 0h3m1 0h3m1 0h4m3 0h2m1 0h8m3 0h2m2 0h3m1 0h2m3 0h5m1 0h3m2 0h1m8 0h1m-119 1h1m16 0h2m15 0h4m2 0h15m1 0h3m2 0h2m1 0h9m2 0h7m2 0h8m6 0h2m1 0h2m6 0h1m9 0h1m-120 1h1m29 0h2m10 0h2m1 0h9m1 0h3m1 0h7m4 0h3m2 0h2m1 0h2m3 0h10m1 0h6m13 0h2m-96 1h2m1 0h1m8 0h1m3 0h2m3 0h4m3 0h3m2 0h6m1 0h2m2 0h3m5 0h1m1 0h2m7 0h5m1 0h3m3 0h5m13 0h2m-101 1h1m5 0h2m1 0h1m1 0h2m8 0h5m1 0h4m4 0h4m2 0h7m5 0h3m1 0h5m8 0h2m2 0h4m2 0h7m11 0h1m-99 1h2m3 0h1m3 0h1m1 0h2m1 0h1m3 0h9m2 0h4m3 0h4m1 0h7m3 0h1m1 0h5m1 0h4m4 0h2m1 0h3m1 0h4m2 0h8m1 0h2m7 0h1m-114 1h2m12 0h2m3 0h3m3 0h3m2 0h1m2 0h3m3 0h3m2 0h6m1 0h1m1 0h2m1 0h7m5 0h10m4 0h11m4 0h2m4 0h4m6 0h2m-112 1h1m6 0h2m2 0h1m3 0h5m2 0h2m6 0h5m1 0h3m1 0h2m1 0h4m1 0h2m2 0h6m7 0h4m1 0h5m2 0h1m4 0h1m1 0h2m1 0h2m2 0h2m1 0h2m1 0h1m5 0h1m7 0h1m-112 1h1m9 0h1m3 0h2m2 0h1m3 0h2m3 0h2m1 0h5m2 0h2m1 0h3m1 0h6m1 0h7m2 0h1m1 0h8m1 0h3m3 0h4m5 0h5m3 0h4m13 0h2m-103 1h2m1 0h2m7 0h3m1 0h8m7 0h9m3 0h8m1 0h12m3 0h4m5 0h2m1 0h2m5 0h2m13 0h1m-105 1h5m1 0h2m1 0h2m2 0h2m1 0h4m1 0h6m2 0h2m1 0h2m1 0h9m3 0h17m1 0h4m1 0h2m1 0h1m4 0h3m1 0h2m3 0h4m7 0h2m11 0h1m-118 1h2m1 0h7m4 0h3m1 0h5m1 0h2m3 0h2m3 0h5m1 0h4m2 0h4m3 0h3m1 0h13m1 0h4m1 0h2m5 0h7m3 0h3m8 0h2m-106 1h2m2 0h4m2 0h2m1 0h4m2 0h3m4 0h1m2 0h2m2 0h6m1 0h6m2 0h3m1 0h4m1 0h2m1 0h2m1 0h10m3 0h2m2 0h1m1 0h3m1 0h2m7 0h1m-95 1h1m3 0h1m4 0h2m1 0h6m1 0h2m1 0h4m1 0h3m2 0h2m1 0h1m3 0h6m2 0h11m1 0h2m2 0h7m1 0h6m1 0h3m1 0h2m1 0h4m-94 1h2m2 0h3m1 0h3m3 0h5m1 0h3m3 0h16m2 0h4m1 0h14m1 0h9m3 0h4m2 0h4m5 0h3m6 0h1m-101 1h6m2 0h3m2 0h5m3 0h3m2 0h8m1 0h2m1 0h10m1 0h10m2 0h2m1 0h4m4 0h2m2 0h3m2 0h3m1 0h3m3 0h3m-93 1h4m3 0h1m1 0h2m2 0h2m3 0h1m1 0h5m3 0h3m3 0h2m1 0h11m3 0h14m2 0h3m5 0h3m2 0h3m1 0h4m1 0h2m2 0h4m7 0h1m-107 1h1m8 0h1m2 0h5m2 0h2m1 0h5m3 0h4m3 0h3m1 0h2m4 0h4m2 0h10m1 0h3m1 0h4m3 0h3m1 0h6m1 0h4m1 0h2m-93 1h2m1 0h2m1 0h2m5 0h3m1 0h1m1 0h3m1 0h5m2 0h4m2 0h3m1 0h2m1 0h3m1 0h4m3 0h5m2 0h3m2 0h5m1 0h4m3 0h15m-91 1h2m1 0h3m9 0h5m2 0h4m1 0h3m2 0h3m2 0h6m1 0h5m1 0h3m4 0h2m4 0h2m1 0h2m2 0h3m2 0h2m1 0h5m3 0h5m-95 1h2m1 0h3m8 0h2m3 0h2m1 0h8m1 0h5m1 0h20m2 0h4m2 0h7m1 0h7m2 0h3m5 0h2m2 0h2m-96 1h6m8 0h2m2 0h2m5 0h2m4 0h44m1 0h4m3 0h2m2 0h2m1 0h2m1 0h2m-92 1h6m5 0h6m2 0h2m1 0h2m1 0h13m1 0h3m1 0h4m1 0h17m1 0h5m1 0h6m2 0h2m2 0h2m-86 1h9m2 0h6m1 0h4m3 0h21m2 0h8m1 0h2m4 0h4m3 0h1m2 0h2m1 0h2m5 0h1m-87 1h3m1 0h3m2 0h20m2 0h11m2 0h5m1 0h3m2 0h4m1 0h3m2 0h2m1 0h2m4 0h2m7 0h4m4 0h2m10 0h2m-104 1h6m5 0h12m1 0h13m1 0h3m1 0h10m2 0h5m2 0h1m1 0h3m1 0h2m4 0h3m6 0h2m6 0h2m-92 1h4m1 0h2m4 0h6m2 0h3m2 0h12m3 0h12m2 0h6m4 0h8m4 0h1m7 0h2m6 0h2m-92 1h3m3 0h2m2 0h6m1 0h2m4 0h10m3 0h13m4 0h4m3 0h6m2 0h3m3 0h1m1 0h2m4 0h2m6 0h1m-91 1h4m2 0h3m1 0h7m1 0h2m1 0h1m2 0h9m2 0h8m1 0h5m1 0h1m2 0h4m3 0h6m4 0h2m2 0h6m-80 1h16m2 0h1m1 0h2m2 0h2m1 0h4m4 0h2m1 0h13m4 0h2m2 0h6m5 0h2m1 0h2m3 0h3m1 0h2m-85 1h16m1 0h6m7 0h3m2 0h3m2 0h13m4 0h1m2 0h3m1 0h1m6 0h2m1 0h2m1 0h1m2 0h1m2 0h2m-85 1h4m1 0h5m1 0h10m6 0h2m5 0h4m1 0h15m2 0h3m1 0h3m1 0h2m8 0h1m2 0h1m-78 1h4m1 0h9m1 0h6m3 0h6m4 0h2m2 0h2m2 0h7m1 0h1m1 0h2m2 0h3m1 0h2m1 0h3m1 0h1m1 0h2m2 0h3m-74 1h9m1 0h5m2 0h2m3 0h7m2 0h2m2 0h7m1 0h2m11 0h1m5 0h1m2 0h4m3 0h1m-73 1h8m2 0h4m2 0h2m2 0h9m1 0h2m2 0h11m3 0h2m1 0h3m13 0h2m-69 1h3m2 0h3m1 0h3m2 0h1m1 0h3m3 0h7m2 0h3m1 0h6m1 0h2m3 0h7m2 0h1m3 0h2m2 0h1m-65 1h3m2 0h7m1 0h8m1 0h7m2 0h9m2 0h10m3 0h7m2 0h3m-66 1h2m1 0h2m1 0h2m1 0h4m1 0h2m2 0h4m5 0h4m2 0h1m1 0h4m1 0h6m4 0h2m2 0h5m6 0h1m-67 1h5m1 0h8m3 0h15m2 0h1m1 0h4m1 0h1m3 0h1m3 0h6m14 0h1m-73 1h2m1 0h1m2 0h2m1 0h5m1 0h1m1 0h6m3 0h5m1 0h3m2 0h6m4 0h2m3 0h2m2 0h3m13 0h1m-73 1h2m1 0h13m1 0h3m12 0h3m2 0h8m2 0h1m8 0h2m-57 1h20m1 0h1m5 0h4m7 0h2m25 0h2m-67 1h2m3 0h4m1 0h10m1 0h1m2 0h2m1 0h9m2 0h3m27 0h2m-68 1h6m3 0h6m5 0h5m2 0h16m14 0h1m8 0h2m-66 1h2m1 0h2m1 0h7m3 0h8m1 0h2m1 0h8m1 0h7m-44 1h1m2 0h5m1 0h4m3 0h2m2 0h7m3 0h6m7 0h4m-52 1h3m2 0h1m2 0h6m1 0h1m6 0h1m4 0h4m1 0h2m1 0h3m1 0h2m9 0h3m-53 1h4m5 0h5m1 0h1m1 0h6m4 0h2m4 0h1m9 0h1m8 0h1m-53 1h6m3 0h3m4 0h6m3 0h6m2 0h2m8 0h2m-44 1h13m1 0h3m4 0h2m2 0h5m2 0h2m16 0h1m-50 1h8m2 0h2m1 0h2m5 0h7m8 0h1m-34 1h7m1 0h1m2 0h1m8 0h4m6 0h1m1 0h2m-32 1h5m2 0h1m4 0h1m17 0h2m-31 1h3m3 0h2m1 0h3m17 0h1m-35 1h1m6 0h1m6 0h2m15 0h1m1 0h2m-35 1h2m2 0h1m5 0h1m-11 1h1m8 0h2m1 1h1m-1 1h1m10 2h1" stroke="#ff0000"/>
<path d="M803 780.5h2m-4 1h5m-5 1h5m-4 1h2m-1 1h2m-8 1h4m2 0h2m-13 1h2m3 0h4m-9 1h2m8 1h3m-9 1h3m3 0h3m-11 1h5m5 0h2m-12 1h2m2 0h2m4 0h2m-16 1h2m6 0h2m-10 1h2m2 0h4m1 0h7m-20 1h2m6 0h4m1 0h7m-38 1h2m13 0h2m1 0h2m9 0h2m2 0h4m-37 1h2m13 0h2m9 0h2m1 0h2m3 0h3m-20 1h2m5 0h5m5 0h2m-19 1h2m1 0h2m2 0h2m1 0h8m-15 1h2m6 0h7m1 0h2m-8 1h2m1 0h2m1 0h1m-29 1h2m8 0h2m3 0h2m7 0h5m-29 1h2m7 0h3m3 0h6m3 0h6m-21 1h2m6 0h6m2 0h5m-9 1h2m2 0h4m-20 1h2m9 0h9m-20 1h2m9 0h2m1 0h4m-17 1h3m8 0h2m-13 1h3m4 0h2m2 0h3m3 0h3m-32 1h2m17 0h2m2 0h3m3 0h4m-33 1h2m15 0h2m1 0h2m1 0h2m5 0h2m-15 1h2m1 0h2m2 0h2m4 0h2m-23 1h2m6 0h2m5 0h3m2 0h3m-23 1h2m6 0h2m6 0h2m1 0h3m-14 1h2m9 0h3m-19 1h2m1 0h4m7 0h5m-19 1h2m1 0h2m5 0h8m-19 1h2m8 0h5m2 0h3m-20 1h2m8 0h10m-10 1h9m-23 1h2m-2 1h2m2 0h2m17 0h2m-21 1h2m6 0h2m6 0h5m-13 1h2m6 0h3m-2 1h2m-13 1h2m9 0h2m-13 1h2" stroke="#ffd6d6"/>
<path d="M960 532.5h2m-2 1h2m6 0h2m-42 1h2m14 0h2m22 0h2m-42 1h4m12 0h2m1 0h2m-19 1h1m1 0h1m14 0h2m12 0h2m23 0h2m22 0h2m-81 1h2m6 0h2m20 0h2m10 0h2m11 0h1m1 0h1m3 0h2m16 0h2m10 0h2m7 0h2m-94 1h2m14 0h2m14 0h4m2 0h2m8 0h2m3 0h2m4 0h2m19 0h2m1 0h2m7 0h2m2 0h2m-114 1h2m2 0h2m2 0h2m7 0h1m1 0h1m1 0h2m6 0h2m1 0h2m14 0h2m4 0h2m5 0h2m12 0h2m6 0h2m11 0h1m1 0h1m13 0h1m1 0h1m-119 1h2m2 0h2m2 0h2m2 0h1m1 0h1m6 0h1m1 0h1m1 0h2m6 0h2m26 0h2m2 0h2m19 0h1m1 0h1m28 0h2m1 0h2m-122 1h2m11 0h2m11 0h2m17 0h2m14 0h2m10 0h2m6 0h2m7 0h2m2 0h2m5 0h2m17 0h2m-119 1h2m2 0h2m17 0h2m10 0h2m4 0h1m1 0h1m1 0h2m1 0h4m5 0h2m6 0h2m3 0h2m6 0h2m3 0h10m6 0h2m-101 1h2m2 0h2m8 0h2m19 0h2m4 0h2m2 0h2m1 0h4m5 0h2m1 0h2m3 0h2m8 0h2m3 0h2m2 0h1m4 0h2m6 0h4m-97 1h2m8 0h2m13 0h2m6 0h2m5 0h4m3 0h1m1 0h1m10 0h2m9 0h2m3 0h2m2 0h1m11 0h1m1 0h3m-97 1h2m4 0h2m14 0h2m1 0h2m6 0h1m1 0h1m6 0h2m3 0h1m1 0h3m4 0h2m2 0h2m9 0h2m4 0h2m3 0h2m11 0h2m8 0h2m-106 1h2m3 0h2m7 0h2m5 0h2m4 0h2m4 0h2m4 0h2m8 0h2m7 0h2m5 0h2m2 0h1m1 0h1m1 0h1m1 0h3m2 0h1m1 0h3m3 0h3m1 0h1m8 0h2m3 0h4m1 0h2m-114 1h1m1 0h1m9 0h2m1 0h1m1 0h1m3 0h2m5 0h2m15 0h2m1 0h2m2 0h1m1 0h1m4 0h4m3 0h2m2 0h2m2 0h1m1 0h1m4 0h1m1 0h3m2 0h1m1 0h3m1 0h2m6 0h2m1 0h4m3 0h2m-114 1h2m9 0h1m1 0h5m7 0h2m6 0h2m1 0h2m6 0h1m2 0h3m4 0h1m6 0h2m2 0h2m3 0h2m1 0h2m8 0h1m2 0h1m4 0h1m2 0h2m13 0h2m-120 1h2m2 0h2m1 0h2m7 0h2m2 0h2m1 0h4m3 0h4m10 0h1m3 0h2m3 0h4m4 0h2m2 0h2m10 0h4m1 0h2m7 0h1m3 0h1m4 0h1m2 0h2m1 0h2m2 0h2m-112 1h2m2 0h2m1 0h2m7 0h2m7 0h2m3 0h2m2 0h2m5 0h2m1 0h3m1 0h2m5 0h4m2 0h2m1 0h1m1 0h1m3 0h1m1 0h1m1 0h1m1 0h3m4 0h1m1 0h1m1 0h2m2 0h3m1 0h2m1 0h1m2 0h1m1 0h2m1 0h2m1 0h1m1 0h1m2 0h1m1 0h1m4 0h2m-112 1h2m3 0h2m1 0h2m8 0h1m1 0h3m2 0h2m1 0h1m3 0h1m11 0h4m2 0h1m1 0h3m4 0h1m1 0h1m2 0h2m4 0h2m2 0h1m2 0h1m2 0h2m1 0h3m1 0h1m2 0h1m7 0h2m3 0h1m1 0h1m4 0h2m-115 1h2m1 0h2m6 0h2m8 0h2m5 0h2m3 0h1m1 0h3m7 0h3m3 0h2m1 0h2m4 0h2m7 0h1m1 0h2m1 0h3m3 0h1m1 0h5m3 0h1m1 0h1m1 0h2m7 0h2m15 0h2m-126 1h2m2 0h2m6 0h2m3 0h2m9 0h2m8 0h4m7 0h3m2 0h3m7 0h2m4 0h2m1 0h1m2 0h1m4 0h2m3 0h1m2 0h2m4 0h2m1 0h2m7 0h2m2 0h2m11 0h2m-126 1h2m17 0h2m7 0h2m8 0h2m1 0h1m5 0h2m3 0h1m10 0h1m1 0h1m1 0h2m1 0h2m2 0h2m3 0h3m1 0h2m5 0h1m1 0h2m12 0h3m1 0h3m6 0h2m-118 1h2m6 0h2m4 0h10m8 0h3m1 0h1m4 0h1m2 0h2m3 0h1m10 0h1m1 0h1m1 0h2m8 0h5m1 0h1m10 0h1m1 0h1m5 0h2m2 0h2m3 0h1m5 0h4m-110 1h2m8 0h5m2 0h1m2 0h2m2 0h3m1 0h1m1 0h1m6 0h4m1 0h4m10 0h2m10 0h2m4 0h2m2 0h2m2 0h2m1 0h1m3 0h5m1 0h1m1 0h4m5 0h2m-116 1h4m19 0h1m6 0h1m9 0h4m1 0h4m2 0h1m2 0h1m9 0h2m8 0h5m4 0h2m9 0h1m4 0h1m4 0h1m6 0h2m1 0h2m2 0h2m-118 1h2m15 0h2m3 0h2m2 0h1m3 0h2m1 0h2m4 0h1m2 0h1m6 0h4m7 0h4m1 0h2m11 0h1m7 0h2m13 0h2m6 0h2m1 0h2m2 0h2m-107 1h2m4 0h1m1 0h3m1 0h2m2 0h2m1 0h3m5 0h1m1 0h3m14 0h2m1 0h4m1 0h2m3 0h2m1 0h1m4 0h1m1 0h2m1 0h2m4 0h1m8 0h2m-100 1h2m3 0h2m4 0h1m1 0h1m4 0h4m1 0h2m6 0h1m1 0h2m2 0h1m8 0h2m2 0h2m5 0h2m3 0h2m1 0h2m3 0h3m12 0h3m1 0h1m2 0h2m1 0h1m1 0h1m14 0h2m-114 1h2m3 0h2m5 0h2m13 0h2m2 0h2m3 0h2m6 0h4m4 0h1m9 0h2m1 0h2m5 0h1m2 0h1m1 0h1m3 0h2m1 0h1m2 0h2m6 0h2m1 0h2m4 0h2m6 0h2m-97 1h4m6 0h2m14 0h1m4 0h3m1 0h1m5 0h2m4 0h2m2 0h1m1 0h4m2 0h1m2 0h1m1 0h2m2 0h3m2 0h1m1 0h3m1 0h1m7 0h2m-110 1h2m14 0h1m1 0h1m2 0h4m4 0h2m5 0h7m1 0h1m2 0h1m1 0h1m2 0h2m1 0h2m5 0h2m1 0h2m1 0h2m1 0h1m3 0h2m1 0h1m1 0h1m1 0h1m1 0h1m4 0h2m1 0h1m2 0h1m4 0h1m1 0h2m1 0h2m-107 1h2m4 0h2m8 0h1m1 0h1m2 0h2m6 0h2m5 0h6m1 0h2m10 0h2m8 0h1m1 0h1m1 0h6m7 0h1m1 0h1m4 0h2m2 0h2m2 0h1m1 0h1m2 0h2m1 0h2m8 0h2m-96 1h2m10 0h2m1 0h1m1 0h1m5 0h2m4 0h2m14 0h1m1 0h1m4 0h2m3 0h2m2 0h1m1 0h1m6 0h2m2 0h2m1 0h2m15 0h2m-111 1h2m19 0h2m3 0h1m1 0h1m1 0h1m7 0h2m4 0h2m11 0h2m2 0h1m2 0h1m2 0h2m4 0h2m3 0h1m1 0h1m2 0h4m3 0h2m1 0h2m16 0h2m-97 1h2m3 0h2m3 0h2m3 0h2m11 0h4m9 0h2m3 0h2m9 0h2m3 0h1m2 0h1m3 0h2m3 0h2m1 0h2m16 0h2m-110 1h4m9 0h2m3 0h2m7 0h2m12 0h4m9 0h2m8 0h3m2 0h1m6 0h1m1 0h1m7 0h2m5 0h2m4 0h4m6 0h2m-122 1h2m9 0h4m7 0h2m5 0h2m2 0h1m2 0h1m2 0h1m5 0h2m18 0h2m8 0h3m2 0h1m1 0h2m1 0h2m6 0h1m1 0h1m1 0h2m5 0h2m4 0h4m6 0h2m-122 1h4m4 0h2m12 0h2m7 0h1m1 0h1m2 0h1m1 0h3m5 0h1m24 0h2m2 0h2m5 0h2m1 0h2m7 0h4m18 0h2m-116 1h1m1 0h1m3 0h2m21 0h2m3 0h3m4 0h1m10 0h2m3 0h2m10 0h4m16 0h2m2 0h1m1 0h1m18 0h2m-115 1h4m29 0h3m1 0h1m2 0h2m9 0h2m3 0h2m9 0h2m1 0h4m5 0h2m6 0h1m4 0h2m12 0h2m-106 1h2m2 0h2m23 0h2m1 0h4m20 0h2m7 0h2m10 0h2m6 0h1m1 0h1m16 0h2m-104 1h4m7 0h2m14 0h2m1 0h4m20 0h2m4 0h2m30 0h2m-90 1h2m5 0h4m45 0h2m12 0h2m4 0h2m10 0h1m1 0h1m-95 1h2m2 0h2m20 0h2m46 0h4m2 0h2m11 0h2m22 0h2m-106 1h2m2 0h2m7 0h2m12 0h2m5 0h2m27 0h2m39 0h2m-102 1h2m21 0h2m5 0h2m-48 1h1m1 0h1m14 0h2m31 0h2m5 0h2m-59 1h1m1 0h3m12 0h2m9 0h2m20 0h2m5 0h2m-56 1h2m3 0h2m11 0h2m5 0h2m-30 1h2m6 0h2m11 0h2m-23 2h2m0 2h2m6 0h2m-10 1h2m6 0h2m-21 1h2m14 0h2m5 0h2m-25 1h2m14 0h2m3 0h4m-4 1h2m25 0h2m-2 1h2m-38 2h2m12 0h2m22 0h2m-40 1h2m12 0h2m14 0h2m6 0h2m-27 1h2m15 0h2m-39 1h2m17 0h1m1 0h1m2 0h2m7 0h2m-35 1h2m17 0h2m3 0h2m7 0h2m-32 1h2m-2 1h2m0 1h1m1 0h1m1 0h2m15 0h2m-26 1h2m1 0h1m1 0h1m3 0h1m9 0h1m1 0h1m2 0h2m-26 1h2m4 0h1m2 0h1m9 0h1m1 0h1m-16 1h1m1 0h1m9 0h2m15 0h2m-37 1h2m5 0h2m3 0h2m4 0h2m15 0h2m-37 1h2m1 0h2m7 0h2m8 0h2m6 0h2m-29 1h2m17 0h2m3 0h2m1 0h2m-9 1h2m2 0h2m-6 1h2m-23 1h2m7 0h2m-11 1h2m7 0h2m8 2h2m8 0h2m-25 1h2m11 0h2m8 0h2m-36 1h2m9 0h2m16 0h2m-31 1h2m27 0h2m61 0h2m-26 1h2m22 0h2m18 0h2m-109 1h2m61 0h2m42 0h2m-109 1h4m-2 1h2m4 0h2m63 0h2m-89 1h2m20 0h2m8 0h2m15 0h2m36 0h2m-89 1h2m30 0h2m15 0h2m-48 2h2m-2 1h2m100 1h2m-2 1h2m-13 2h2m-26 1h2m22 0h2m-26 1h2m45 3h2m14 0h2m-18 1h2m14 0h2m-24 1h2m-80 1h2m76 0h2m-80 1h2m21 0h2m31 0h2m-35 1h2m31 0h2m18 0h2m-88 1h2m84 0h2m-88 1h2m101 2h2m-80 1h2m76 0h2m-93 1h2m11 0h2m53 0h2m7 0h2m-79 1h2m35 0h2m29 0h2m7 0h2m-42 1h2m51 0h2m-2 1h2m-13 1h2m3 0h2m-7 1h2m3 0h2m6 0h1m1 0h1m-3 1h1m1 0h1m-60 2h2m-33 1h2m29 0h2m-33 1h1m1 0h1m7 0h2m-11 1h2m7 0h2m-36 1h2m50 0h2m-54 1h2m50 0h2m-6 1h2m-58 1h2m29 0h2m23 0h2m68 0h2m-128 1h2m29 0h2m35 0h2m37 0h2m17 0h2m-60 1h2m37 0h2m-21 1h2m-2 1h2m-44 1h2m-2 1h2m16 0h2m7 0h2m-38 1h2m25 0h2m7 0h2m13 0h2m-53 1h2m3 0h2m44 0h2m-48 1h2m15 1h2m-43 1h2m39 0h2m-43 1h2m-3 1h2m18 0h2m27 0h2m-51 1h2m18 0h2m27 0h2m-28 1h2m61 0h2m-70 1h2m3 0h1m1 0h1m60 0h2m-70 1h2m4 0h2m5 0h2m-9 1h1m1 0h1m4 0h2m15 0h2m-26 1h1m2 0h1m5 0h2m1 0h2m-17 1h2m3 0h2m5 0h2m1 0h2m10 0h2m2 0h2m-36 1h2m1 0h2m29 0h2m-110 1h2m72 0h2m19 0h2m14 0h2m-155 1h2m40 0h2m82 0h2m9 0h2m14 0h2m-155 1h2m123 0h1m1 0h1m-3 1h2m-14 1h2m40 0h2m-44 1h2m18 0h2m11 0h2m-15 1h2m11 0h4m5 0h2m-13 1h2m2 0h2m-6 1h2m59 0h2m-2 1h2m-111 2h2m31 0h2m2 0h2m54 0h2m-134 1h2m37 0h2m24 0h2m5 0h2m2 0h2m54 0h2m-134 1h2m46 0h2m15 0h2m12 0h2m8 0h2m-91 1h2m46 0h2m29 0h2m8 0h2m-91 1h2m92 0h2m-14 1h2m10 0h2m-77 1h2m61 0h2m-65 1h2m55 1h2m11 0h2m-23 1h2m19 0h2m-30 1h2m5 0h2m-21 1h2m10 0h2m2 0h2m12 0h1m1 0h1m-33 1h2m14 0h2m5 0h2m2 0h2m3 0h1m10 0h2m-37 1h2m13 0h2m5 0h2m11 0h2m-37 1h2m2 0h2m11 0h2m13 0h2m-30 1h2m11 0h1m1 0h1m11 0h1m1 0h1m-17 1h1m13 0h2m-43 1h2m14 0h2m4 0h2m5 0h1m1 0h2m-33 1h2m14 0h2m4 0h2m3 0h2m1 0h1m1 0h1m2 0h2m-99 1h2m77 0h2m8 0h2m6 0h2m-99 1h2m77 0h2m8 0h2m1 0h2m0 1h2m-91 1h2m80 0h4m3 0h2m2 0h2m-95 1h2m49 0h2m29 0h4m7 0h2m-44 1h2m26 0h2m-97 1h2m87 0h2m4 0h2m-97 1h2m13 0h2m70 0h4m-76 1h2m64 0h4m2 0h2m9 0h2m-85 1h2m31 0h2m31 0h4m8 0h2m1 0h4m-85 1h2m31 0h2m39 0h1m1 0h1m1 0h2m1 0h2m-109 1h2m68 0h2m4 0h2m22 0h1m1 0h1m3 0h1m1 0h1m-109 1h2m42 0h2m30 0h2m9 0h2m2 0h1m2 0h1m6 0h2m3 0h1m1 0h1m-85 1h2m1 0h2m15 0h2m24 0h2m15 0h2m2 0h1m2 0h1m6 0h2m10 0h2m-91 1h2m1 0h2m43 0h2m39 0h2m-55 1h2m10 0h2m2 0h6m16 0h2m-87 1h2m44 0h1m1 0h1m14 0h6m16 0h2m8 0h2m-97 1h2m33 0h2m9 0h2m17 0h4m8 0h2m8 0h1m1 0h1m5 0h2m-110 1h2m46 0h2m19 0h2m5 0h6m3 0h1m1 0h1m2 0h1m1 0h1m4 0h1m2 0h1m1 0h1m3 0h2m-116 1h2m6 0h2m19 0h2m46 0h2m2 0h2m1 0h2m7 0h1m1 0h1m1 0h6m1 0h2m6 0h4m-116 1h2m27 0h2m4 0h2m44 0h2m4 0h1m1 0h1m7 0h2m2 0h2m9 0h2m-102 1h2m21 0h2m22 0h2m2 0h2m1 0h2m19 0h1m1 0h1m-94 1h2m14 0h2m45 0h2m2 0h2m1 0h2m-72 1h2m51 0h2m4 0h2m7 0h2m2 0h2m3 0h2m12 0h2m7 0h2m1 0h2m-52 1h2m4 0h2m7 0h2m2 0h2m17 0h2m5 0h2m3 0h2m-105 1h2m62 0h2m30 0h6m-102 1h2m37 0h2m17 0h2m4 0h2m9 0h2m11 0h2m6 0h2m8 0h2m-69 1h2m1 0h2m18 0h2m11 0h4m1 0h1m1 0h1m4 0h1m1 0h1m1 0h2m5 0h2m6 0h4m3 0h2m-73 1h2m11 0h2m1 0h2m2 0h2m4 0h2m1 0h2m7 0h1m1 0h1m3 0h1m1 0h1m1 0h1m1 0h1m5 0h2m1 0h2m5 0h2m3 0h2m-60 1h2m9 0h4m1 0h2m1 0h2m10 0h2m2 0h2m9 0h2m-60 1h2m13 0h2m6 0h2m3 0h2m1 0h2m7 0h2m6 0h1m1 0h1m8 0h2m7 0h2m-132 1h2m60 0h2m13 0h2m12 0h1m3 0h2m5 0h2m6 0h1m1 0h1m1 0h2m2 0h2m1 0h2m7 0h2m-141 1h2m5 0h4m112 0h2m2 0h2m-129 1h2m5 0h2m75 0h2m3 0h4m5 0h3m1 0h1m1 0h4m3 0h4m1 0h3m-90 1h2m38 0h2m13 0h2m3 0h4m1 0h2m1 0h2m1 0h1m1 0h1m3 0h2m3 0h4m1 0h3m-90 1h4m18 0h2m16 0h2m6 0h2m18 0h2m4 0h2m2 0h2m2 0h1m1 0h1m5 0h2m-90 1h2m18 0h2m24 0h2m13 0h2m3 0h2m3 0h1m1 0h1m2 0h1m1 0h1m3 0h1m16 0h2m-43 1h1m1 0h3m3 0h2m1 0h1m2 0h1m2 0h4m1 0h2m8 0h2m7 0h2m-96 1h2m38 0h2m3 0h2m6 0h1m1 0h1m8 0h1m1 0h1m3 0h2m6 0h2m5 0h1m1 0h1m2 0h4m-94 1h2m38 0h2m3 0h2m8 0h2m2 0h2m10 0h2m2 0h1m1 0h1m8 0h2m2 0h4m-95 1h2m24 0h2m32 0h2m10 0h2m1 0h1m2 0h3m5 0h2m-88 1h2m24 0h2m15 0h2m7 0h1m1 0h1m1 0h2m1 0h2m9 0h2m3 0h1m1 0h1m7 0h1m1 0h1m-109 1h2m44 0h2m16 0h2m2 0h2m3 0h1m1 0h3m2 0h2m15 0h4m11 0h2m-114 1h2m44 0h2m18 0h4m6 0h6m7 0h4m6 0h1m1 0h1m3 0h1m1 0h1m4 0h2m-105 1h2m17 0h2m32 0h2m4 0h1m7 0h3m2 0h2m2 0h2m2 0h2m3 0h3m3 0h2m2 0h1m1 0h1m5 0h2m3 0h3m1 0h1m-113 1h2m17 0h2m11 0h2m19 0h2m4 0h1m3 0h2m2 0h2m4 0h2m1 0h2m17 0h2m6 0h4m1 0h3m1 0h1m-146 1h2m23 0h2m3 0h2m10 0h2m10 0h2m9 0h2m23 0h2m4 0h3m1 0h1m2 0h2m1 0h2m9 0h1m2 0h1m9 0h2m6 0h2m-140 1h2m23 0h2m3 0h2m6 0h2m2 0h2m8 0h4m19 0h2m20 0h1m2 0h1m1 0h2m2 0h2m8 0h1m1 0h1m11 0h2m-94 1h2m12 0h2m5 0h2m28 0h2m4 0h3m2 0h1m4 0h1m2 0h1m6 0h1m1 0h1m2 0h2m-106 1h2m34 0h2m5 0h2m14 0h2m1 0h2m9 0h2m2 0h2m2 0h1m4 0h1m1 0h2m2 0h2m1 0h1m3 0h2m3 0h1m1 0h1m-107 1h2m60 0h2m9 0h2m1 0h1m1 0h2m3 0h4m8 0h1m4 0h2m3 0h1m1 0h1m18 0h2m-114 1h2m35 0h2m4 0h2m14 0h2m1 0h1m1 0h1m8 0h2m3 0h1m2 0h2m3 0h2m4 0h2m2 0h2m10 0h2m2 0h2m-114 1h2m19 0h1m1 0h1m1 0h2m10 0h2m4 0h2m18 0h1m2 0h1m4 0h1m1 0h1m7 0h2m5 0h2m6 0h2m10 0h2m-116 1h4m7 0h2m14 0h2m1 0h1m1 0h3m7 0h2m12 0h4m6 0h1m1 0h1m1 0h1m1 0h1m2 0h3m3 0h1m12 0h2m-104 1h2m6 0h6m5 0h2m3 0h2m7 0h2m2 0h1m1 0h1m1 0h2m4 0h2m1 0h2m11 0h1m1 0h3m3 0h1m1 0h2m1 0h1m3 0h1m1 0h4m2 0h1m3 0h1m30 0h2m-140 1h2m11 0h8m6 0h2m10 0h1m1 0h1m4 0h4m2 0h1m1 0h1m7 0h2m9 0h1m1 0h1m2 0h1m1 0h1m5 0h1m1 0h3m6 0h1m3 0h1m2 0h1m3 0h2m8 0h2m18 0h2m-140 1h2m11 0h2m2 0h4m14 0h1m1 0h1m2 0h2m2 0h1m13 0h8m7 0h1m1 0h1m3 0h2m1 0h2m11 0h2m17 0h1m3 0h2m16 0h2m21 0h2m-126 1h1m1 0h1m9 0h1m5 0h1m2 0h2m1 0h1m2 0h4m4 0h1m6 0h2m3 0h1m1 0h2m1 0h2m1 0h1m6 0h2m7 0h4m4 0h2m3 0h2m6 0h2m7 0h2m10 0h2m9 0h2m-138 1h4m14 0h3m1 0h1m8 0h2m1 0h3m3 0h1m2 0h3m1 0h3m4 0h1m1 0h1m5 0h1m2 0h2m7 0h2m2 0h1m1 0h1m11 0h2m2 0h2m6 0h2m19 0h2m-128 1h1m1 0h3m21 0h2m1 0h6m2 0h1m1 0h1m6 0h2m5 0h2m3 0h1m2 0h3m1 0h1m3 0h1m1 0h1m7 0h1m1 0h1m2 0h1m2 0h1m5 0h2m12 0h2m-109 1h2m7 0h1m2 0h1m1 0h1m1 0h2m10 0h1m2 0h2m2 0h2m2 0h1m3 0h1m2 0h2m1 0h1m3 0h1m9 0h2m4 0h1m1 0h1m6 0h2m1 0h1m2 0h3m4 0h2m6 0h2m6 0h1m1 0h1m-119 1h1m1 0h1m7 0h2m6 0h1m2 0h1m1 0h2m1 0h2m1 0h1m6 0h2m4 0h2m3 0h1m5 0h4m2 0h2m1 0h1m5 0h8m5 0h1m1 0h1m3 0h2m4 0h1m1 0h2m1 0h4m3 0h2m1 0h2m2 0h2m3 0h2m14 0h2m-149 1h2m5 0h2m11 0h2m2 0h2m1 0h4m9 0h3m7 0h3m4 0h2m4 0h2m1 0h2m2 0h1m7 0h1m2 0h3m2 0h1m2 0h1m2 0h1m1 0h2m1 0h1m4 0h1m3 0h1m2 0h2m1 0h2m5 0h2m5 0h2m19 0h2m-151 1h3m1 0h1m3 0h1m1 0h1m18 0h2m8 0h1m2 0h1m1 0h1m7 0h2m5 0h2m1 0h1m2 0h1m1 0h2m2 0h4m1 0h1m1 0h2m6 0h2m4 0h2m3 0h1m6 0h1m3 0h1m6 0h2m-117 1h2m1 0h2m3 0h2m1 0h2m1 0h1m1 0h2m1 0h1m2 0h2m5 0h1m8 0h3m1 0h3m2 0h5m1 0h3m4 0h1m1 0h1m2 0h2m5 0h1m4 0h2m1 0h1m4 0h1m4 0h1m2 0h1m5 0h1m1 0h3m2 0h1m1 0h1m6 0h2m-109 1h2m1 0h2m5 0h2m2 0h3m2 0h1m14 0h1m3 0h1m2 0h1m3 0h2m3 0h3m4 0h1m4 0h1m1 0h1m4 0h2m3 0h1m7 0h1m8 0h1m2 0h1m1 0h1m2 0h2m3 0h2m8 0h2m-116 1h2m9 0h2m1 0h3m4 0h1m2 0h5m10 0h2m1 0h1m2 0h2m4 0h2m3 0h1m4 0h2m3 0h1m1 0h1m2 0h1m1 0h3m2 0h2m11 0h1m1 0h1m1 0h2m2 0h2m3 0h2m8 0h2m-124 1h4m1 0h2m4 0h2m2 0h1m3 0h1m1 0h1m1 0h1m12 0h2m6 0h1m2 0h2m1 0h1m2 0h1m8 0h1m4 0h3m13 0h4m7 0h2m5 0h1m5 0h2m5 0h2m7 0h2m-125 1h3m3 0h1m11 0h2m8 0h1m17 0h1m1 0h1m2 0h1m7 0h1m1 0h1m6 0h1m1 0h1m7 0h1m3 0h2m2 0h1m5 0h1m4 0h3m2 0h2m10 0h2m1 0h2m4 0h2m-126 1h2m2 0h1m1 0h1m1 0h6m5 0h2m9 0h1m4 0h1m2 0h2m1 0h3m5 0h1m1 0h1m13 0h1m5 0h2m2 0h1m6 0h3m2 0h5m1 0h4m1 0h2m1 0h3m1 0h1m10 0h4m-120 1h2m1 0h2m2 0h1m1 0h1m2 0h4m3 0h2m2 0h1m1 0h1m1 0h1m1 0h1m2 0h1m6 0h4m8 0h1m10 0h1m2 0h1m12 0h2m6 0h1m1 0h2m1 0h2m2 0h2m1 0h2m1 0h2m1 0h2m9 0h1m1 0h1m1 0h2m-115 1h2m4 0h4m1 0h1m1 0h2m1 0h1m1 0h1m3 0h2m7 0h6m3 0h1m4 0h1m1 0h1m3 0h1m4 0h1m4 0h2m4 0h2m1 0h3m1 0h1m13 0h4m1 0h1m3 0h2m10 0h2m2 0h2m-114 1h2m4 0h2m1 0h5m1 0h1m1 0h1m1 0h1m1 0h2m3 0h1m1 0h1m10 0h3m3 0h1m1 0h1m2 0h1m4 0h3m2 0h1m1 0h1m1 0h1m2 0h1m7 0h2m2 0h1m6 0h1m3 0h2m2 0h1m2 0h1m3 0h1m7 0h1m1 0h1m3 0h2m-121 1h1m12 0h1m2 0h1m4 0h3m9 0h1m9 0h1m31 0h1m2 0h2m2 0h1m8 0h1m1 0h1m11 0h2m6 0h1m1 0h1m3 0h2m-125 1h2m4 0h1m1 0h1m3 0h1m1 0h7m7 0h4m3 0h3m8 0h1m2 0h2m5 0h1m18 0h1m5 0h2m6 0h1m5 0h1m1 0h1m2 0h1m2 0h2m-105 1h2m3 0h1m5 0h2m1 0h2m4 0h2m1 0h1m2 0h1m2 0h2m1 0h3m4 0h1m5 0h1m1 0h1m17 0h1m8 0h5m3 0h1m2 0h1m4 0h1m5 0h1m11 0h2m3 0h2m-111 1h1m3 0h1m1 0h1m5 0h1m3 0h2m4 0h7m1 0h1m16 0h1m13 0h1m2 0h1m3 0h3m4 0h2m1 0h1m1 0h1m1 0h3m11 0h1m7 0h2m3 0h2m5 0h2m-119 1h1m5 0h1m1 0h3m3 0h1m2 0h1m10 0h4m17 0h1m1 0h2m5 0h1m2 0h2m7 0h1m5 0h1m4 0h1m2 0h3m1 0h1m13 0h2m7 0h2m1 0h2m1 0h4m-124 1h3m6 0h2m2 0h1m7 0h1m18 0h1m11 0h1m1 0h1m5 0h1m2 0h3m24 0h1m3 0h2m6 0h2m1 0h2m6 0h1m2 0h3m3 0h2m-121 1h1m2 0h2m4 0h1m3 0h1m3 0h1m27 0h5m2 0h1m4 0h1m3 0h1m12 0h1m1 0h1m4 0h1m5 0h1m5 0h1m2 0h1m2 0h2m1 0h2m4 0h8m21 0h2m-142 1h1m2 0h4m1 0h1m1 0h2m4 0h3m16 0h2m5 0h2m4 0h1m3 0h1m6 0h1m8 0h1m2 0h1m10 0h2m5 0h1m1 0h1m1 0h1m3 0h4m4 0h2m4 0h2m4 0h2m21 0h2m-137 1h4m6 0h1m9 0h1m3 0h1m5 0h1m20 0h1m7 0h3m5 0h1m2 0h1m4 0h2m4 0h1m1 0h4m1 0h2m2 0h1m1 0h2m2 0h2m-105 1h1m5 0h1m8 0h1m10 0h1m13 0h1m18 0h1m4 0h1m1 0h1m1 0h1m1 0h1m1 0h1m3 0h1m3 0h2m9 0h1m2 0h1m2 0h1m5 0h2m12 0h2m-119 1h1m5 0h1m4 0h1m14 0h1m5 0h2m22 0h1m1 0h1m5 0h1m5 0h1m9 0h1m2 0h2m4 0h3m5 0h2m18 0h2m-117 1h7m2 0h3m3 0h1m2 0h1m3 0h1m1 0h1m6 0h1m13 0h2m12 0h1m1 0h1m3 0h2m4 0h1m4 0h3m2 0h2m12 0h2m-100 1h6m12 0h1m2 0h1m3 0h2m3 0h1m1 0h1m4 0h2m6 0h1m11 0h1m3 0h1m2 0h1m7 0h1m10 0h1m9 0h4m5 0h2m58 0h2m-164 1h3m3 0h1m3 0h1m6 0h1m2 0h1m4 0h1m1 0h1m4 0h1m4 0h1m1 0h1m6 0h1m5 0h2m3 0h1m14 0h1m2 0h1m8 0h2m3 0h1m3 0h4m5 0h2m10 0h2m46 0h2m-162 1h1m3 0h2m5 0h1m32 0h1m4 0h1m5 0h1m4 0h2m2 0h1m4 0h2m2 0h2m7 0h2m13 0h2m13 0h2m-114 1h1m3 0h1m5 0h1m16 0h1m23 0h4m5 0h2m2 0h1m4 0h1m2 0h2m4 0h3m1 0h2m1 0h1m11 0h2m20 0h2m-123 1h3m3 0h1m5 0h2m2 0h2m9 0h1m5 0h1m3 0h2m4 0h2m7 0h1m2 0h2m4 0h1m9 0h1m2 0h2m1 0h1m2 0h2m1 0h1m37 0h2m-123 1h2m4 0h2m9 0h1m8 0h1m17 0h2m2 0h2m2 0h2m3 0h1m3 0h4m5 0h1m4 0h2m3 0h5m1 0h1m1 0h5m8 0h4m-103 1h6m6 0h2m1 0h1m4 0h1m3 0h1m12 0h1m3 0h2m3 0h1m1 0h1m1 0h1m1 0h1m3 0h1m3 0h1m1 0h3m2 0h1m4 0h1m8 0h2m4 0h1m2 0h1m8 0h2m12 0h2m-113 1h1m2 0h2m1 0h1m5 0h1m1 0h2m2 0h3m12 0h1m1 0h1m5 0h1m9 0h4m4 0h1m3 0h1m2 0h1m3 0h1m2 0h5m5 0h3m1 0h1m3 0h2m3 0h2m1 0h2m10 0h2m-112 1h1m3 0h2m7 0h1m4 0h1m1 0h1m2 0h1m9 0h2m5 0h1m7 0h1m2 0h1m7 0h1m2 0h1m2 0h2m1 0h1m2 0h2m1 0h1m1 0h1m7 0h2m4 0h2m3 0h2m-97 1h1m3 0h2m2 0h1m4 0h2m15 0h1m7 0h2m7 0h1m4 0h1m7 0h1m4 0h1m4 0h1m1 0h1m1 0h2m-77 1h2m1 0h2m29 0h1m13 0h1m12 0h1m4 0h1m3 0h2m1 0h1m4 0h2m9 0h2m-90 1h1m1 0h1m10 0h3m6 0h1m9 0h2m3 0h1m4 0h2m2 0h1m1 0h1m5 0h1m2 0h3m3 0h2m1 0h1m2 0h1m7 0h2m9 0h2m-88 1h1m12 0h1m3 0h2m1 0h1m5 0h1m2 0h1m3 0h1m3 0h3m1 0h1m2 0h1m2 0h1m3 0h2m1 0h1m3 0h1m2 0h2m3 0h1m-64 1h1m3 0h1m5 0h2m2 0h4m2 0h1m3 0h2m1 0h1m2 0h2m3 0h1m10 0h1m1 0h2m1 0h1m3 0h3m5 0h1m-73 1h1m2 0h1m9 0h1m1 0h2m1 0h2m4 0h1m3 0h2m3 0h1m2 0h1m8 0h1m3 0h1m2 0h1m2 0h1m2 0h2m2 0h1m1 0h2m2 0h1m3 0h2m41 0h2m-114 1h2m4 0h1m3 0h2m4 0h2m8 0h1m3 0h1m2 0h2m2 0h1m3 0h2m2 0h1m6 0h1m2 0h4m1 0h2m1 0h1m1 0h1m2 0h1m1 0h1m2 0h2m37 0h2m-117 1h1m3 0h1m3 0h2m3 0h1m2 0h1m2 0h1m6 0h3m1 0h1m1 0h1m1 0h2m4 0h4m4 0h2m3 0h1m6 0h2m9 0h4m1 0h2m-70 1h2m9 0h1m1 0h1m2 0h3m3 0h1m3 0h4m3 0h1m6 0h2m9 0h2m12 0h1m1 0h3m-79 1h2m1 0h1m1 0h1m3 0h1m1 0h1m1 0h1m5 0h2m1 0h1m4 0h1m7 0h4m2 0h1m1 0h1m3 0h3m1 0h1m3 0h1m2 0h1m1 0h1m1 0h1m12 0h4m18 0h2m-99 1h3m2 0h1m1 0h3m9 0h1m7 0h2m5 0h3m5 0h3m1 0h1m1 0h1m1 0h2m1 0h4m1 0h1m2 0h2m7 0h2m9 0h2m14 0h2m-99 1h3m3 0h2m5 0h3m1 0h3m1 0h1m2 0h3m1 0h1m2 0h2m1 0h1m7 0h1m1 0h2m3 0h6m1 0h2m12 0h2m9 0h2m-83 1h1m1 0h1m4 0h1m8 0h2m3 0h1m3 0h1m1 0h1m2 0h1m3 0h1m3 0h3m1 0h1m1 0h1m2 0h1m4 0h1m1 0h1m1 0h2m10 0h2m-66 1h1m7 0h1m3 0h2m10 0h1m5 0h1m1 0h2m2 0h1m7 0h2m1 0h3m14 0h2m-70 1h1m5 0h1m4 0h1m2 0h1m9 0h1m10 0h2m2 0h1m1 0h3m4 0h2m1 0h1m3 0h2m-57 1h1m1 0h1m2 0h3m2 0h2m2 0h2m2 0h1m2 0h2m14 0h3m1 0h3m1 0h2m8 0h4m9 0h2m-60 1h2m2 0h2m2 0h1m2 0h2m1 0h2m13 0h1m1 0h3m13 0h2m9 0h2m-69 1h2m3 0h2m2 0h1m1 0h1m3 0h1m4 0h3m1 0h1m14 0h4m34 0h2m-79 1h2m1 0h2m3 0h5m3 0h1m3 0h4m5 0h2m10 0h2m34 0h2m-76 1h1m1 0h1m1 0h2m1 0h2m2 0h1m1 0h1m2 0h1m1 0h1m7 0h1m1 0h1m4 0h2m3 0h2m3 0h2m3 0h2m-49 1h2m3 0h4m1 0h2m3 0h1m1 0h5m4 0h4m2 0h4m5 0h1m1 0h1m1 0h4m7 0h2m-55 1h6m9 0h4m6 0h2m4 0h2m8 0h1m1 0h1m9 0h2m-55 1h2m26 0h2m8 0h2m1 0h2m43 0h2m-88 1h2m1 0h2m7 0h2m2 0h2m4 0h2m3 0h1m1 0h1m56 0h2m-92 1h2m2 0h2m1 0h2m1 0h2m8 0h2m4 0h2m3 0h2m-33 1h2m2 0h4m2 0h2m26 0h2m1 0h2m-37 1h2m19 0h2m9 0h2m1 0h2m3 0h2m-21 1h2m8 0h2m7 0h2m-14 1h2m1 0h2m-5 1h2" stroke="#ff4545"/>
<path d="M931 536.5h1m55 1h1m-47 2h1m78 0h1m15 0h1m-105 1h1m8 0h1m64 0h1m13 0h2m-17 1h2m-43 1h1m42 1h2m6 0h2m-43 1h1m7 0h2m23 0h2m6 0h2m2 0h1m-60 1h1m5 0h2m6 0h1m43 0h2m-23 1h1m3 0h1m6 0h1m9 0h1m12 0h2m-106 1h1m14 0h1m36 0h1m21 0h1m6 0h1m6 0h1m19 0h2m-99 1h1m8 0h2m7 0h2m13 0h2m5 0h2m23 0h6m4 0h4m-66 1h2m3 0h2m1 0h2m1 0h2m27 0h2m10 0h5m5 0h4m-68 1h2m5 0h2m2 0h1m21 0h1m1 0h2m2 0h1m3 0h1m8 0h1m4 0h2m8 0h2m9 0h1m4 0h1m-86 1h1m3 0h2m4 0h3m19 0h1m4 0h2m2 0h1m11 0h2m4 0h2m2 0h1m5 0h2m14 0h1m-100 1h2m16 0h2m6 0h1m4 0h2m7 0h2m20 0h1m2 0h1m7 0h1m9 0h1m-53 1h2m7 0h2m20 0h2m1 0h2m8 0h2m-72 1h2m12 0h2m9 0h3m8 0h2m9 0h1m12 0h2m3 0h1m2 0h5m19 0h1m-79 1h2m5 0h1m2 0h3m9 0h2m9 0h1m17 0h1m1 0h6m2 0h2m1 0h1m12 0h3m-108 1h2m21 0h2m10 0h1m3 0h3m32 0h2m2 0h4m2 0h2m2 0h2m2 0h1m2 0h2m5 0h1m-79 1h2m2 0h2m22 0h2m25 0h4m2 0h5m1 0h2m2 0h4m2 0h3m-75 1h2m11 0h2m25 0h2m10 0h7m3 0h5m1 0h3m1 0h2m-83 1h1m14 0h4m2 0h1m27 0h2m5 0h4m1 0h1m2 0h1m2 0h4m1 0h4m2 0h2m-86 1h1m12 0h2m5 0h1m2 0h2m1 0h2m33 0h8m7 0h1m7 0h1m1 0h2m-75 1h2m11 0h2m10 0h2m21 0h2m3 0h3m2 0h1m-46 1h2m4 0h2m5 0h1m17 0h1m4 0h2m4 0h1m2 0h2m3 0h2m5 0h1m-83 1h1m25 0h1m4 0h1m23 0h3m4 0h1m3 0h1m3 0h2m4 0h2m1 0h4m-83 1h1m48 0h1m11 0h2m3 0h1m3 0h2m6 0h2m1 0h1m-93 1h2m29 0h1m29 0h1m1 0h2m12 0h1m5 0h2m-58 1h1m3 0h2m29 0h2m12 0h2m1 0h1m-4 1h2m1 0h2m-58 1h2m45 0h2m8 0h1m4 0h2m-64 1h2m4 0h2m39 0h2m14 0h1m-63 1h1m4 0h1m6 0h2m-43 1h1m35 0h2m3 0h2m29 0h2m19 0h1m-58 1h1m51 0h2m-2 1h1m-85 2h2m91 0h1m-81 1h2m-13 3h1m-1 1h1m-2 3h2m0 8h2m-2 1h2m12 4h1m-15 4h1m-1 1h1m2 0h2m11 0h1m-14 1h2m11 0h1m-14 1h1m108 46h1m-1 1h1m-89 4h1m7 21h1m0 2h1m-1 1h2m21 0h2m-22 5h1m28 3h2m-24 15h2m-2 1h2m-2 1h2m2 0h1m2 0h2m-6 1h2m2 0h2m-10 3h1m13 0h1m-15 1h2m-3 1h2m2 1h1m-2 1h2m-15 10h1m-1 1h1m5 0h1m-38 1h2m20 0h2m13 0h1m-16 1h2m-34 3h1m34 1h2m4 0h1m-16 1h1m4 0h1m3 0h2m4 0h1m-16 1h1m-7 1h1m-1 1h1m-16 3h2m21 0h2m-25 1h2m-2 1h2m-21 1h2m21 0h1m6 0h1m-8 1h1m5 0h1m3 0h1m0 2h1m-23 1h2m20 0h1m-23 1h2m4 0h2m-5 1h1m17 0h2m-20 1h1m17 0h2m-27 1h2m16 0h1m-19 1h2m7 0h1m4 0h1m2 0h2m6 0h2m-31 1h1m10 0h2m16 0h2m-31 1h1m10 0h1m20 0h1m-11 1h1m1 0h2m-25 1h2m7 0h2m9 0h2m-25 1h1m11 0h2m9 0h1m9 0h1m-34 1h1m9 0h4m3 0h2m13 0h2m-25 1h5m12 0h1m5 0h1m-42 1h3m11 0h2m2 0h2m6 0h3m11 0h1m14 0h1m-56 1h3m11 0h2m10 0h6m23 0h1m-46 1h1m18 0h2m-22 1h2m9 0h2m6 0h1m-43 1h2m21 0h2m2 0h2m2 0h2m1 0h2m5 0h1m-22 1h2m2 0h2m2 0h1m2 0h2m2 0h1m10 0h1m-70 1h2m39 0h1m2 0h2m5 0h2m4 0h2m11 0h1m-71 1h2m39 0h1m2 0h2m3 0h2m6 0h2m-59 1h1m41 0h2m6 0h1m5 0h2m-55 1h1m35 0h1m3 0h1m6 0h2m2 0h5m-57 1h1m25 0h1m7 0h1m2 0h1m1 0h2m2 0h1m4 0h2m1 0h3m1 0h2m-70 1h1m12 0h1m1 0h2m17 0h1m4 0h1m7 0h1m4 0h2m1 0h2m5 0h2m11 0h2m-81 1h1m8 0h3m5 0h4m10 0h2m5 0h1m14 0h2m11 0h2m11 0h2m-84 1h2m1 0h1m7 0h3m7 0h2m2 0h1m1 0h2m5 0h3m4 0h2m7 0h1m2 0h1m2 0h1m-60 1h2m1 0h2m9 0h1m15 0h2m2 0h2m3 0h1m4 0h2m2 0h1m4 0h2m1 0h2m14 0h1m3 0h4m-87 1h1m6 0h2m8 0h5m15 0h1m1 0h6m3 0h3m3 0h3m6 0h1m5 0h1m5 0h2m2 0h1m4 0h2m-77 1h2m1 0h1m4 0h6m2 0h2m1 0h2m2 0h2m5 0h3m1 0h2m4 0h2m2 0h5m11 0h1m5 0h2m4 0h2m24 0h1m-117 1h1m17 0h2m1 0h1m2 0h1m2 0h1m1 0h3m1 0h2m2 0h2m4 0h3m1 0h5m10 0h5m14 0h1m2 0h2m2 0h4m-93 1h3m21 0h2m3 0h2m1 0h4m3 0h4m2 0h4m2 0h1m2 0h2m6 0h2m1 0h2m3 0h2m1 0h2m4 0h1m2 0h1m6 0h3m-105 1h1m5 0h1m6 0h3m3 0h2m2 0h2m3 0h2m7 0h2m3 0h2m1 0h4m3 0h4m2 0h1m1 0h2m1 0h1m2 0h2m4 0h1m4 0h5m4 0h2m3 0h3m8 0h3m-93 1h1m2 0h1m7 0h2m2 0h3m2 0h3m7 0h2m9 0h2m3 0h1m6 0h3m2 0h4m4 0h4m6 0h2m1 0h5m1 0h1m6 0h1m-94 1h3m8 0h2m2 0h4m2 0h6m2 0h3m1 0h2m2 0h2m2 0h3m8 0h4m3 0h4m6 0h3m5 0h8m1 0h2m1 0h1m-90 1h3m8 0h4m1 0h2m5 0h9m5 0h2m2 0h4m6 0h4m2 0h3m1 0h1m4 0h1m3 0h2m6 0h3m5 0h1m-88 1h2m5 0h1m3 0h5m4 0h3m2 0h6m7 0h2m1 0h5m4 0h4m3 0h7m2 0h4m4 0h7m5 0h2m-98 1h3m5 0h4m5 0h8m5 0h12m2 0h1m4 0h7m3 0h6m3 0h7m1 0h3m2 0h2m1 0h5m2 0h2m4 0h2m-98 1h1m11 0h2m2 0h9m6 0h2m2 0h1m3 0h2m1 0h2m1 0h1m2 0h12m1 0h5m2 0h2m1 0h5m4 0h2m17 0h1m-97 1h1m1 0h2m5 0h2m2 0h2m3 0h1m3 0h2m11 0h3m1 0h4m2 0h9m1 0h2m1 0h7m1 0h4m2 0h6m7 0h2m21 0h1m-114 1h3m2 0h4m6 0h1m2 0h1m3 0h2m3 0h3m10 0h3m1 0h4m3 0h3m1 0h3m2 0h4m4 0h2m2 0h1m5 0h6m1 0h6m4 0h1m2 0h2m6 0h2m-108 1h4m2 0h2m10 0h1m3 0h1m4 0h3m1 0h1m2 0h9m3 0h3m3 0h2m2 0h2m4 0h2m1 0h1m3 0h2m1 0h2m7 0h2m2 0h5m9 0h2m5 0h2m6 0h1m-114 1h4m1 0h2m2 0h2m2 0h2m1 0h4m7 0h5m1 0h9m1 0h14m3 0h14m5 0h2m1 0h8m3 0h2m3 0h2m13 0h1m-112 1h1m1 0h3m9 0h7m5 0h2m3 0h8m1 0h2m2 0h5m1 0h7m1 0h10m1 0h5m2 0h3m1 0h2m1 0h5m3 0h2m-94 1h2m1 0h2m5 0h2m6 0h2m1 0h2m2 0h1m3 0h2m3 0h5m3 0h8m1 0h7m2 0h8m5 0h3m1 0h2m2 0h2m2 0h2m4 0h4m-96 1h3m1 0h1m4 0h2m1 0h3m2 0h4m9 0h16m1 0h12m2 0h2m1 0h3m3 0h4m2 0h1m3 0h1m5 0h2m1 0h6m2 0h2m-100 1h5m5 0h3m1 0h2m1 0h10m4 0h17m1 0h1m2 0h3m3 0h2m2 0h6m2 0h5m1 0h2m3 0h2m5 0h8m2 0h2m-101 1h6m2 0h2m1 0h3m1 0h2m2 0h18m1 0h11m1 0h1m2 0h4m1 0h2m3 0h13m1 0h4m2 0h4m1 0h3m2 0h4m7 0h2m5 0h2m-116 1h3m5 0h4m2 0h2m2 0h2m1 0h3m1 0h23m5 0h2m1 0h4m1 0h3m1 0h12m3 0h4m1 0h5m1 0h2m4 0h2m8 0h2m-108 1h2m6 0h1m2 0h4m3 0h16m2 0h5m2 0h4m1 0h2m2 0h6m1 0h8m1 0h2m1 0h6m1 0h3m2 0h5m3 0h1m-92 1h4m4 0h6m2 0h8m5 0h5m1 0h16m2 0h2m4 0h4m3 0h4m2 0h2m1 0h4m2 0h4m1 0h1m4 0h1m2 0h2m-96 1h5m1 0h8m1 0h9m2 0h13m1 0h15m4 0h4m3 0h1m3 0h1m1 0h3m1 0h3m2 0h9m4 0h2m-96 1h5m1 0h4m2 0h12m2 0h5m2 0h22m3 0h5m1 0h3m3 0h9m5 0h4m-80 1h2m3 0h3m1 0h2m1 0h3m3 0h2m1 0h3m1 0h13m2 0h12m1 0h1m2 0h2m2 0h4m1 0h4m7 0h4m-83 1h2m3 0h6m1 0h2m1 0h3m2 0h3m3 0h4m2 0h6m1 0h10m2 0h3m1 0h2m1 0h7m1 0h5m2 0h3m1 0h6m-87 1h3m1 0h2m2 0h6m1 0h2m1 0h3m2 0h1m1 0h4m1 0h4m3 0h6m1 0h5m2 0h2m2 0h14m1 0h2m1 0h8m2 0h3m-86 1h3m2 0h5m1 0h13m1 0h18m1 0h4m3 0h2m2 0h4m2 0h2m1 0h4m6 0h7m2 0h2m6 0h2m-93 1h3m2 0h4m2 0h13m3 0h15m1 0h5m8 0h3m2 0h2m1 0h4m6 0h3m3 0h1m2 0h1m7 0h2m-93 1h3m3 0h3m2 0h2m2 0h9m1 0h5m1 0h3m2 0h2m5 0h2m1 0h3m1 0h2m3 0h3m1 0h9m7 0h2m2 0h1m3 0h2m-86 1h2m5 0h8m2 0h7m1 0h16m3 0h2m2 0h2m2 0h3m1 0h3m4 0h5m8 0h2m7 0h1m-79 1h5m2 0h1m2 0h3m1 0h3m1 0h12m1 0h3m2 0h3m3 0h1m3 0h3m1 0h3m5 0h2m6 0h2m1 0h2m7 0h2m1 0h2m11 0h2m-103 1h2m1 0h2m2 0h1m1 0h2m4 0h1m2 0h2m3 0h12m1 0h1m1 0h5m1 0h2m1 0h4m6 0h4m5 0h2m5 0h2m13 0h1m-89 1h2m2 0h3m2 0h2m3 0h2m2 0h3m3 0h2m1 0h9m2 0h5m1 0h7m1 0h2m3 0h5m4 0h2m2 0h1m7 0h1m-79 1h2m2 0h3m2 0h2m1 0h4m3 0h14m1 0h7m2 0h7m1 0h4m1 0h7m6 0h3m2 0h1m-75 1h2m2 0h1m2 0h11m1 0h5m1 0h10m2 0h4m1 0h8m1 0h12m6 0h3m2 0h1m-76 1h4m3 0h9m4 0h5m2 0h9m2 0h3m2 0h3m2 0h2m3 0h5m1 0h2m10 0h2m-73 1h6m1 0h2m1 0h8m2 0h3m4 0h5m1 0h2m1 0h3m2 0h2m3 0h1m1 0h2m4 0h2m5 0h3m6 0h2m-71 1h5m4 0h3m1 0h4m3 0h2m4 0h2m8 0h2m2 0h2m2 0h5m3 0h2m6 0h3m6 0h2m-71 1h2m1 0h2m3 0h4m1 0h1m2 0h1m2 0h4m1 0h3m2 0h3m4 0h8m1 0h3m4 0h2m8 0h1m2 0h2m12 0h2m-82 1h3m2 0h3m2 0h3m3 0h3m2 0h6m3 0h3m5 0h2m1 0h3m2 0h2m3 0h4m1 0h2m9 0h1m4 0h1m7 0h2m-81 1h3m1 0h3m2 0h3m4 0h2m3 0h4m5 0h1m6 0h2m4 0h4m2 0h3m3 0h2m-57 1h7m2 0h9m1 0h1m1 0h2m3 0h2m2 0h3m4 0h3m2 0h5m2 0h4m1 0h2m17 0h1m-72 1h1m5 0h1m3 0h5m2 0h1m1 0h4m1 0h7m4 0h2m1 0h1m1 0h3m5 0h3m1 0h2m3 0h1m-59 1h2m5 0h2m1 0h6m4 0h4m2 0h5m5 0h2m4 0h1m3 0h1m2 0h1m4 0h1m-55 1h3m2 0h5m3 0h1m5 0h2m5 0h2m2 0h1m1 0h2m2 0h3m-41 1h1m2 0h3m1 0h5m9 0h3m3 0h2m5 0h2m4 0h1m3 0h2m6 0h1m-53 1h2m2 0h7m12 0h4m7 0h1m2 0h2m5 0h3m2 0h1m-50 1h2m4 0h3m2 0h2m2 0h2m7 0h3m9 0h2m1 0h1m4 0h3m2 0h1m-50 1h1m6 0h2m2 0h2m2 0h2m8 0h2m12 0h1m-37 1h6m2 0h2m2 0h2m22 0h1m-37 1h2m2 0h2m3 0h3m8 0h1m-11 1h3m1 0h2m-20 1h2m3 0h1m10 0h1m1 0h2m1 0h1m9 0h1m-32 1h2m6 0h2m11 0h1m25 0h1m-2 1h2m2 0h1m-15 2h1m-17 1h2m-16 1h2m12 0h2m-16 1h2" stroke="#ff0000"/>
</g>
<rect x="76.3" y="51.3" width="363.8" height="362.9" fill="none" stroke="#8e8e8e" stroke-width="1.9"/>
<path d="M76.3 256.7H440.1M242.3 51.3V414.2" stroke="#222" stroke-width="2.3" fill="none"/>
<path d="M76.3 414.2v5M76.3 414.2h-5.5M166.9 414.2v5M76.3 323.5h-5.5M257.6 414.2v5M76.3 232.8h-5.5M348.2 414.2v5M76.3 142.0h-5.5M439.6 414.2v5M76.3 51.6h-5.5" stroke="#333" stroke-width="1.6" fill="none"/>
<path d="M103.6 414.2v2.8M76.3 386.9h-2.8M119.5 414.2v2.8M76.3 370.9h-2.8M130.9 414.2v2.8M76.3 359.6h-2.8M139.7 414.2v2.8M76.3 350.8h-2.8M146.8 414.2v2.8M76.3 343.6h-2.8M152.9 414.2v2.8M76.3 337.5h-2.8M158.2 414.2v2.8M76.3 332.3h-2.8M162.8 414.2v2.8M76.3 327.6h-2.8M194.2 414.2v2.8M76.3 296.2h-2.8M210.2 414.2v2.8M76.3 280.2h-2.8M221.5 414.2v2.8M76.3 268.9h-2.8M230.3 414.2v2.8M76.3 260.1h-2.8M237.5 414.2v2.8M76.3 252.9h-2.8M243.5 414.2v2.8M76.3 246.8h-2.8M248.8 414.2v2.8M76.3 241.5h-2.8M253.4 414.2v2.8M76.3 236.9h-2.8M284.9 414.2v2.8M76.3 205.4h-2.8M300.8 414.2v2.8M76.3 189.5h-2.8M312.1 414.2v2.8M76.3 178.1h-2.8M320.9 414.2v2.8M76.3 169.3h-2.8M328.1 414.2v2.8M76.3 162.2h-2.8M334.2 414.2v2.8M76.3 156.1h-2.8M339.4 414.2v2.8M76.3 150.8h-2.8M344.1 414.2v2.8M76.3 146.2h-2.8M375.5 414.2v2.8M76.3 114.7h-2.8M391.5 414.2v2.8M76.3 98.7h-2.8M402.8 414.2v2.8M76.3 87.4h-2.8M411.6 414.2v2.8M76.3 78.6h-2.8M418.7 414.2v2.8M76.3 71.4h-2.8M424.8 414.2v2.8M76.3 65.4h-2.8M430.1 414.2v2.8M76.3 60.1h-2.8M434.7 414.2v2.8M76.3 55.5h-2.8" stroke="#555" stroke-width="1.1" fill="none"/>
<text x="79.9" y="432.4" class="tk" text-anchor="start">10<tspan class="sp" dy="-5.9">0</tspan></text>
<text x="66.3" y="414.2" class="tk" text-anchor="end">10<tspan class="sp" dy="-5.9">0</tspan></text>
<text x="166.9" y="432.4" class="tk" text-anchor="start">10<tspan class="sp" dy="-5.9">1</tspan></text>
<text x="66.3" y="329.3" class="tk" text-anchor="end">10<tspan class="sp" dy="-5.9">1</tspan></text>
<text x="257.6" y="432.4" class="tk" text-anchor="start">10<tspan class="sp" dy="-5.9">2</tspan></text>
<text x="66.3" y="238.6" class="tk" text-anchor="end">10<tspan class="sp" dy="-5.9">2</tspan></text>
<text x="348.2" y="432.4" class="tk" text-anchor="start">10<tspan class="sp" dy="-5.9">3</tspan></text>
<text x="66.3" y="147.8" class="tk" text-anchor="end">10<tspan class="sp" dy="-5.9">3</tspan></text>
<text x="439.9" y="432.4" class="tk" text-anchor="end">10<tspan class="sp" dy="-5.9">4</tspan></text>
<text x="66.3" y="64.8" class="tk" text-anchor="end">10<tspan class="sp" dy="-5.9">4</tspan></text>
<text class="q" x="83.1" y="81.1">Q1</text>
<text class="q" x="83.1" y="103.1">1.03</text>
<text class="q" x="408.9" y="81.1" text-anchor="end">Q2</text>
<text class="q" x="408.9" y="103.1" text-anchor="end">4.70</text>
<text class="q" x="83.1" y="373.3">Q4</text>
<text class="q" x="83.1" y="395.7">89.9</text>
<text class="q" x="408.9" y="373.3" text-anchor="end">Q3</text>
<text class="q" x="408.9" y="395.7" text-anchor="end">4.38</text>
<text class="t" x="254.5" y="43.5" text-anchor="middle">0</text>
<rect x="520.3" y="51.2" width="364.7" height="363" fill="none" stroke="#8e8e8e" stroke-width="1.9"/>
<path d="M520.3 257H885M701.9 51.2V414.2" stroke="#222" stroke-width="2.3" fill="none"/>
<path d="M520.3 414.2v5M520.3 414.2h-5.5M611.2 414.2v5M520.3 323.4h-5.5M702.0 414.2v5M520.3 232.7h-5.5M792.9 414.2v5M520.3 141.9h-5.5M884.5 414.2v5M520.3 51.5h-5.5" stroke="#333" stroke-width="1.6" fill="none"/>
<path d="M547.7 414.2v2.8M520.3 386.9h-2.8M563.7 414.2v2.8M520.3 370.9h-2.8M575.0 414.2v2.8M520.3 359.6h-2.8M583.8 414.2v2.8M520.3 350.8h-2.8M591.0 414.2v2.8M520.3 343.6h-2.8M597.1 414.2v2.8M520.3 337.5h-2.8M602.4 414.2v2.8M520.3 332.2h-2.8M607.0 414.2v2.8M520.3 327.6h-2.8M638.5 414.2v2.8M520.3 296.1h-2.8M654.5 414.2v2.8M520.3 280.2h-2.8M665.9 414.2v2.8M520.3 268.8h-2.8M674.7 414.2v2.8M520.3 260.0h-2.8M681.9 414.2v2.8M520.3 252.8h-2.8M688.0 414.2v2.8M520.3 246.8h-2.8M693.2 414.2v2.8M520.3 241.5h-2.8M697.9 414.2v2.8M520.3 236.9h-2.8M729.4 414.2v2.8M520.3 205.4h-2.8M745.4 414.2v2.8M520.3 189.4h-2.8M756.7 414.2v2.8M520.3 178.1h-2.8M765.5 414.2v2.8M520.3 169.3h-2.8M772.7 414.2v2.8M520.3 162.1h-2.8M778.8 414.2v2.8M520.3 156.0h-2.8M784.1 414.2v2.8M520.3 150.7h-2.8M788.7 414.2v2.8M520.3 146.1h-2.8M820.2 414.2v2.8M520.3 114.6h-2.8M836.2 414.2v2.8M520.3 98.7h-2.8M847.6 414.2v2.8M520.3 87.3h-2.8M856.4 414.2v2.8M520.3 78.5h-2.8M863.6 414.2v2.8M520.3 71.3h-2.8M869.7 414.2v2.8M520.3 65.3h-2.8M874.9 414.2v2.8M520.3 60.0h-2.8M879.6 414.2v2.8M520.3 55.4h-2.8" stroke="#555" stroke-width="1.1" fill="none"/>
<text x="523.9" y="432.4" class="tk" text-anchor="start">10<tspan class="sp" dy="-5.9">0</tspan></text>
<text x="510.3" y="414.2" class="tk" text-anchor="end">10<tspan class="sp" dy="-5.9">0</tspan></text>
<text x="611.2" y="432.4" class="tk" text-anchor="start">10<tspan class="sp" dy="-5.9">1</tspan></text>
<text x="510.3" y="329.2" class="tk" text-anchor="end">10<tspan class="sp" dy="-5.9">1</tspan></text>
<text x="702.0" y="432.4" class="tk" text-anchor="start">10<tspan class="sp" dy="-5.9">2</tspan></text>
<text x="510.3" y="238.5" class="tk" text-anchor="end">10<tspan class="sp" dy="-5.9">2</tspan></text>
<text x="792.9" y="432.4" class="tk" text-anchor="start">10<tspan class="sp" dy="-5.9">3</tspan></text>
<text x="510.3" y="147.8" class="tk" text-anchor="end">10<tspan class="sp" dy="-5.9">3</tspan></text>
<text x="884.8" y="432.4" class="tk" text-anchor="end">10<tspan class="sp" dy="-5.9">4</tspan></text>
<text x="510.3" y="64.7" class="tk" text-anchor="end">10<tspan class="sp" dy="-5.9">4</tspan></text>
<text class="q" x="527.1" y="81.0">Q1</text>
<text class="q" x="527.1" y="103.0">2.27</text>
<text class="q" x="853.8" y="81.0" text-anchor="end">Q2</text>
<text class="q" x="853.8" y="103.0" text-anchor="end">6.49</text>
<text class="q" x="527.1" y="373.3">Q4</text>
<text class="q" x="527.1" y="395.7">89.3</text>
<text class="q" x="853.8" y="373.3" text-anchor="end">Q3</text>
<text class="q" x="853.8" y="395.7" text-anchor="end">1.93</text>
<text class="t" x="701.8" y="43.4" text-anchor="middle">50</text>
<rect x="959.2" y="51.2" width="363.6" height="362.9" fill="none" stroke="#8e8e8e" stroke-width="1.9"/>
<path d="M959.2 257H1322.8M1119.7 51.2V414.1" stroke="#222" stroke-width="2.3" fill="none"/>
<path d="M959.2 414.1v5M959.2 414.1h-5.5M1049.8 414.1v5M959.2 323.4h-5.5M1140.4 414.1v5M959.2 232.7h-5.5M1231.0 414.1v5M959.2 141.9h-5.5M1322.3 414.1v5M959.2 51.5h-5.5" stroke="#333" stroke-width="1.6" fill="none"/>
<path d="M986.5 414.1v2.8M959.2 386.8h-2.8M1002.4 414.1v2.8M959.2 370.8h-2.8M1013.7 414.1v2.8M959.2 359.5h-2.8M1022.5 414.1v2.8M959.2 350.7h-2.8M1029.7 414.1v2.8M959.2 343.5h-2.8M1035.8 414.1v2.8M959.2 337.4h-2.8M1041.0 414.1v2.8M959.2 332.2h-2.8M1045.6 414.1v2.8M959.2 327.5h-2.8M1077.1 414.1v2.8M959.2 296.1h-2.8M1093.0 414.1v2.8M959.2 280.1h-2.8M1104.3 414.1v2.8M959.2 268.8h-2.8M1113.1 414.1v2.8M959.2 260.0h-2.8M1120.3 414.1v2.8M959.2 252.8h-2.8M1126.3 414.1v2.8M959.2 246.7h-2.8M1131.6 414.1v2.8M959.2 241.4h-2.8M1136.2 414.1v2.8M959.2 236.8h-2.8M1167.6 414.1v2.8M959.2 205.3h-2.8M1183.6 414.1v2.8M959.2 189.4h-2.8M1194.9 414.1v2.8M959.2 178.0h-2.8M1203.7 414.1v2.8M959.2 169.2h-2.8M1210.9 414.1v2.8M959.2 162.1h-2.8M1216.9 414.1v2.8M959.2 156.0h-2.8M1222.2 414.1v2.8M959.2 150.7h-2.8M1226.8 414.1v2.8M959.2 146.1h-2.8M1258.2 414.1v2.8M959.2 114.6h-2.8M1274.2 414.1v2.8M959.2 98.6h-2.8M1285.5 414.1v2.8M959.2 87.3h-2.8M1294.3 414.1v2.8M959.2 78.5h-2.8M1301.5 414.1v2.8M959.2 71.3h-2.8M1307.5 414.1v2.8M959.2 65.3h-2.8M1312.8 414.1v2.8M959.2 60.0h-2.8M1317.4 414.1v2.8M959.2 55.4h-2.8" stroke="#555" stroke-width="1.1" fill="none"/>
<text x="962.8" y="432.3" class="tk" text-anchor="start">10<tspan class="sp" dy="-5.9">0</tspan></text>
<text x="949.2" y="414.1" class="tk" text-anchor="end">10<tspan class="sp" dy="-5.9">0</tspan></text>
<text x="1049.8" y="432.3" class="tk" text-anchor="start">10<tspan class="sp" dy="-5.9">1</tspan></text>
<text x="949.2" y="329.2" class="tk" text-anchor="end">10<tspan class="sp" dy="-5.9">1</tspan></text>
<text x="1140.4" y="432.3" class="tk" text-anchor="start">10<tspan class="sp" dy="-5.9">2</tspan></text>
<text x="949.2" y="238.5" class="tk" text-anchor="end">10<tspan class="sp" dy="-5.9">2</tspan></text>
<text x="1231.0" y="432.3" class="tk" text-anchor="start">10<tspan class="sp" dy="-5.9">3</tspan></text>
<text x="949.2" y="147.7" class="tk" text-anchor="end">10<tspan class="sp" dy="-5.9">3</tspan></text>
<text x="1322.5" y="432.3" class="tk" text-anchor="end">10<tspan class="sp" dy="-5.9">4</tspan></text>
<text x="949.2" y="64.7" class="tk" text-anchor="end">10<tspan class="sp" dy="-5.9">4</tspan></text>
<text class="q" x="966.0" y="81.0">Q1</text>
<text class="q" x="966.0" y="103.0">0.56</text>
<text class="q" x="1291.6" y="81.0" text-anchor="end">Q2</text>
<text class="q" x="1291.6" y="103.0" text-anchor="end">8.86</text>
<text class="q" x="966.0" y="373.2">Q4</text>
<text class="q" x="966.0" y="395.6">84.1</text>
<text class="q" x="1291.6" y="373.2" text-anchor="end">Q3</text>
<text class="q" x="1291.6" y="395.6" text-anchor="end">6.46</text>
<text class="t" x="1144.2" y="43.8" text-anchor="middle">100</text>
<rect x="316" y="482.7" width="364" height="363.1" fill="none" stroke="#8e8e8e" stroke-width="1.9"/>
<path d="M316 696.5H680M490.4 482.7V845.8" stroke="#222" stroke-width="2.3" fill="none"/>
<path d="M316.0 845.8v5M316.0 845.8h-5.5M406.7 845.8v5M316.0 755.0h-5.5M497.4 845.8v5M316.0 664.2h-5.5M588.1 845.8v5M316.0 573.5h-5.5M679.5 845.8v5M316.0 483.0h-5.5" stroke="#333" stroke-width="1.6" fill="none"/>
<path d="M343.3 845.8v2.8M316.0 818.5h-2.8M359.3 845.8v2.8M316.0 802.5h-2.8M370.6 845.8v2.8M316.0 791.1h-2.8M379.4 845.8v2.8M316.0 782.4h-2.8M386.6 845.8v2.8M316.0 775.2h-2.8M392.6 845.8v2.8M316.0 769.1h-2.8M397.9 845.8v2.8M316.0 763.8h-2.8M402.5 845.8v2.8M316.0 759.2h-2.8M434.0 845.8v2.8M316.0 727.7h-2.8M450.0 845.8v2.8M316.0 711.7h-2.8M461.3 845.8v2.8M316.0 700.4h-2.8M470.1 845.8v2.8M316.0 691.6h-2.8M477.3 845.8v2.8M316.0 684.4h-2.8M483.3 845.8v2.8M316.0 678.3h-2.8M488.6 845.8v2.8M316.0 673.0h-2.8M493.2 845.8v2.8M316.0 668.4h-2.8M524.7 845.8v2.8M316.0 636.9h-2.8M540.6 845.8v2.8M316.0 620.9h-2.8M552.0 845.8v2.8M316.0 609.6h-2.8M560.8 845.8v2.8M316.0 600.8h-2.8M567.9 845.8v2.8M316.0 593.6h-2.8M574.0 845.8v2.8M316.0 587.5h-2.8M579.3 845.8v2.8M316.0 582.3h-2.8M583.9 845.8v2.8M316.0 577.6h-2.8M615.4 845.8v2.8M316.0 546.1h-2.8M631.3 845.8v2.8M316.0 530.2h-2.8M642.7 845.8v2.8M316.0 518.8h-2.8M651.5 845.8v2.8M316.0 510.0h-2.8M658.6 845.8v2.8M316.0 502.8h-2.8M664.7 845.8v2.8M316.0 496.8h-2.8M670.0 845.8v2.8M316.0 491.5h-2.8M674.6 845.8v2.8M316.0 486.9h-2.8" stroke="#555" stroke-width="1.1" fill="none"/>
<text x="319.6" y="864.0" class="tk" text-anchor="start">10<tspan class="sp" dy="-5.9">0</tspan></text>
<text x="306.0" y="845.8" class="tk" text-anchor="end">10<tspan class="sp" dy="-5.9">0</tspan></text>
<text x="406.7" y="864.0" class="tk" text-anchor="start">10<tspan class="sp" dy="-5.9">1</tspan></text>
<text x="306.0" y="760.8" class="tk" text-anchor="end">10<tspan class="sp" dy="-5.9">1</tspan></text>
<text x="497.4" y="864.0" class="tk" text-anchor="start">10<tspan class="sp" dy="-5.9">2</tspan></text>
<text x="306.0" y="670.0" class="tk" text-anchor="end">10<tspan class="sp" dy="-5.9">2</tspan></text>
<text x="588.1" y="864.0" class="tk" text-anchor="start">10<tspan class="sp" dy="-5.9">3</tspan></text>
<text x="306.0" y="579.3" class="tk" text-anchor="end">10<tspan class="sp" dy="-5.9">3</tspan></text>
<text x="679.8" y="864.0" class="tk" text-anchor="end">10<tspan class="sp" dy="-5.9">4</tspan></text>
<text x="306.0" y="496.2" class="tk" text-anchor="end">10<tspan class="sp" dy="-5.9">4</tspan></text>
<text class="q" x="322.8" y="512.5">Q1</text>
<text class="q" x="322.8" y="534.5">0.50</text>
<text class="q" x="648.8" y="512.5" text-anchor="end">Q2</text>
<text class="q" x="648.8" y="534.5" text-anchor="end">15.1</text>
<text class="q" x="322.8" y="804.9">Q4</text>
<text class="q" x="322.8" y="827.3">81.8</text>
<text class="q" x="648.8" y="804.9" text-anchor="end">Q3</text>
<text class="q" x="648.8" y="827.3" text-anchor="end">2.62</text>
<text class="t" x="492.3" y="474.7" text-anchor="middle">200</text>
<rect x="754.5" y="484.1" width="363.9" height="362.6" fill="none" stroke="#8e8e8e" stroke-width="1.9"/>
<path d="M754.5 692.4H1118.4M896.3 484.1V846.7" stroke="#222" stroke-width="2.3" fill="none"/>
<path d="M754.5 846.7v5M754.5 846.7h-5.5M845.2 846.7v5M754.5 756.1h-5.5M935.8 846.7v5M754.5 665.4h-5.5M1026.5 846.7v5M754.5 574.8h-5.5M1117.9 846.7v5M754.5 484.4h-5.5" stroke="#333" stroke-width="1.6" fill="none"/>
<path d="M781.8 846.7v2.8M754.5 819.4h-2.8M797.8 846.7v2.8M754.5 803.4h-2.8M809.1 846.7v2.8M754.5 792.1h-2.8M817.9 846.7v2.8M754.5 783.3h-2.8M825.0 846.7v2.8M754.5 776.2h-2.8M831.1 846.7v2.8M754.5 770.1h-2.8M836.4 846.7v2.8M754.5 764.8h-2.8M841.0 846.7v2.8M754.5 760.2h-2.8M872.5 846.7v2.8M754.5 728.8h-2.8M888.4 846.7v2.8M754.5 712.8h-2.8M899.7 846.7v2.8M754.5 701.5h-2.8M908.5 846.7v2.8M754.5 692.7h-2.8M915.7 846.7v2.8M754.5 685.5h-2.8M921.8 846.7v2.8M754.5 679.4h-2.8M927.0 846.7v2.8M754.5 674.2h-2.8M931.7 846.7v2.8M754.5 669.5h-2.8M963.1 846.7v2.8M754.5 638.1h-2.8M979.1 846.7v2.8M754.5 622.1h-2.8M990.4 846.7v2.8M754.5 610.8h-2.8M999.2 846.7v2.8M754.5 602.0h-2.8M1006.4 846.7v2.8M754.5 594.9h-2.8M1012.4 846.7v2.8M754.5 588.8h-2.8M1017.7 846.7v2.8M754.5 583.5h-2.8M1022.3 846.7v2.8M754.5 578.9h-2.8M1053.8 846.7v2.8M754.5 547.5h-2.8M1069.7 846.7v2.8M754.5 531.5h-2.8M1081.1 846.7v2.8M754.5 520.2h-2.8M1089.9 846.7v2.8M754.5 511.4h-2.8M1097.0 846.7v2.8M754.5 504.2h-2.8M1103.1 846.7v2.8M754.5 498.1h-2.8M1108.4 846.7v2.8M754.5 492.9h-2.8M1113.0 846.7v2.8M754.5 488.2h-2.8" stroke="#555" stroke-width="1.1" fill="none"/>
<text x="758.1" y="864.9" class="tk" text-anchor="start">10<tspan class="sp" dy="-5.9">0</tspan></text>
<text x="744.5" y="846.7" class="tk" text-anchor="end">10<tspan class="sp" dy="-5.9">0</tspan></text>
<text x="845.2" y="864.9" class="tk" text-anchor="start">10<tspan class="sp" dy="-5.9">1</tspan></text>
<text x="744.5" y="761.9" class="tk" text-anchor="end">10<tspan class="sp" dy="-5.9">1</tspan></text>
<text x="935.8" y="864.9" class="tk" text-anchor="start">10<tspan class="sp" dy="-5.9">2</tspan></text>
<text x="744.5" y="671.2" class="tk" text-anchor="end">10<tspan class="sp" dy="-5.9">2</tspan></text>
<text x="1026.5" y="864.9" class="tk" text-anchor="start">10<tspan class="sp" dy="-5.9">3</tspan></text>
<text x="744.5" y="580.5" class="tk" text-anchor="end">10<tspan class="sp" dy="-5.9">3</tspan></text>
<text x="1118.2" y="864.9" class="tk" text-anchor="end">10<tspan class="sp" dy="-5.9">4</tspan></text>
<text x="744.5" y="497.6" class="tk" text-anchor="end">10<tspan class="sp" dy="-5.9">4</tspan></text>
<text class="q" x="761.3" y="513.9">Q1</text>
<text class="q" x="761.3" y="535.9">0.046</text>
<text class="q" x="1087.2" y="513.9" text-anchor="end">Q2</text>
<text class="q" x="1087.2" y="535.9" text-anchor="end">13.0</text>
<text class="q" x="761.3" y="805.8">Q4</text>
<text class="q" x="761.3" y="828.2">75.3</text>
<text class="q" x="1087.2" y="805.8" text-anchor="end">Q3</text>
<text class="q" x="1087.2" y="828.2" text-anchor="end">11.6</text>
<text class="t" x="934.2" y="477.2" text-anchor="middle">400</text>
<path d="M47.8 33V877H1316" stroke="#3a3a3a" stroke-width="2.2" fill="none" stroke-linejoin="round"/>
<path d="M47.7 15.8L52.2 34.2H43.2Z" fill="#000"/>
<path d="M1331.8 877L1314 872.4V881.6Z" fill="#000"/>
<text class="ax" x="592.5" y="907" textLength="240.5" lengthAdjust="spacingAndGlyphs" xml:space="preserve">ANNEXIN-V  FITC</text>
<text class="ax" x="577.5" y="935" textLength="276" lengthAdjust="spacingAndGlyphs">Concentration (ng/mL)</text>
<text class="ax" transform="translate(36.3 403.7) rotate(-90)" x="0" y="0" text-anchor="middle">PI</text>
</svg>
</body></html>
